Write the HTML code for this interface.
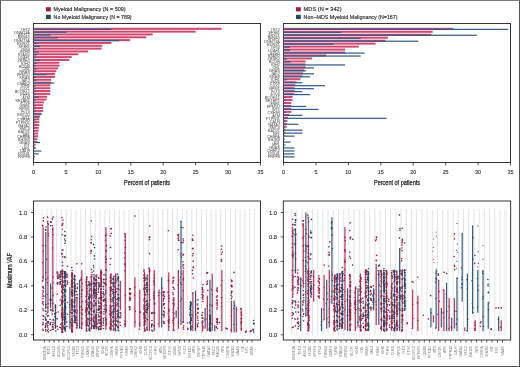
<!DOCTYPE html>
<html><head><meta charset="utf-8"><style>
html,body{margin:0;padding:0;background:#fff;}
body{width:520px;height:367px;overflow:hidden;position:relative;font-family:"Liberation Sans", sans-serif;}
.frame{position:absolute;left:0;top:0;width:520px;height:367px;box-sizing:border-box;border-left:1px solid #5a5a5a;border-top:1px solid #7a7a7a;border-right:1px solid #555;border-bottom:1px solid #555;pointer-events:none;}
svg{position:absolute;left:0;top:0;will-change:transform;}
</style></head><body>
<svg width="520" height="367" viewBox="0 0 520 367" font-family='"Liberation Sans", sans-serif'><rect x="33.5" y="23.5" width="227.0" height="139.0" fill="none" stroke="#222" stroke-width="0.9"/>
<rect x="33.5" y="27.8" width="188.09" height="2.0" fill="#cf466e"/>
<rect x="33.5" y="28.75" width="77.83" height="1.2" fill="#31598a"/>
<text x="29.9" y="30.8" font-size="3.8" fill="#6a6a6a" stroke="#6a6a6a" stroke-width="0.08" text-anchor="end">TET2</text>
<rect x="33.5" y="30.63" width="162.14" height="2.0" fill="#cf466e"/>
<rect x="33.5" y="31.58" width="33.08" height="1.2" fill="#31598a"/>
<text x="29.9" y="33.63" font-size="3.8" fill="#6a6a6a" stroke="#6a6a6a" stroke-width="0.08" text-anchor="end">DNMT3A</text>
<rect x="33.5" y="33.46" width="119.34" height="2.0" fill="#cf466e"/>
<rect x="33.5" y="34.41" width="16.86" height="1.2" fill="#31598a"/>
<text x="29.9" y="36.46" font-size="3.8" fill="#6a6a6a" stroke="#6a6a6a" stroke-width="0.08" text-anchor="end">ASXL1</text>
<rect x="33.5" y="36.29" width="112.85" height="2.0" fill="#cf466e"/>
<rect x="33.5" y="37.24" width="24.65" height="1.2" fill="#31598a"/>
<text x="29.9" y="39.29" font-size="3.8" fill="#6a6a6a" stroke="#6a6a6a" stroke-width="0.08" text-anchor="end">SRSF2</text>
<rect x="33.5" y="39.12" width="96.64" height="2.0" fill="#cf466e"/>
<rect x="33.5" y="40.07" width="85.61" height="1.2" fill="#31598a"/>
<text x="29.9" y="42.12" font-size="3.8" fill="#6a6a6a" stroke="#6a6a6a" stroke-width="0.08" text-anchor="end">DNMT3A</text>
<rect x="33.5" y="41.95" width="77.83" height="2.0" fill="#cf466e"/>
<rect x="33.5" y="42.9" width="3.89" height="1.2" fill="#31598a"/>
<text x="29.9" y="44.95" font-size="3.8" fill="#6a6a6a" stroke="#6a6a6a" stroke-width="0.08" text-anchor="end">RUNX1</text>
<rect x="33.5" y="44.78" width="68.75" height="2.0" fill="#cf466e"/>
<rect x="33.5" y="45.73" width="6.49" height="1.2" fill="#31598a"/>
<text x="29.9" y="47.78" font-size="3.8" fill="#6a6a6a" stroke="#6a6a6a" stroke-width="0.08" text-anchor="end">SF3B1</text>
<rect x="33.5" y="47.61" width="68.1" height="2.0" fill="#cf466e"/>
<rect x="33.5" y="48.56" width="1.95" height="1.2" fill="#31598a"/>
<text x="29.9" y="50.61" font-size="3.8" fill="#6a6a6a" stroke="#6a6a6a" stroke-width="0.08" text-anchor="end">TP53</text>
<rect x="33.5" y="50.44" width="54.48" height="2.0" fill="#cf466e"/>
<rect x="33.5" y="51.39" width="5.19" height="1.2" fill="#31598a"/>
<text x="29.9" y="53.44" font-size="3.8" fill="#6a6a6a" stroke="#6a6a6a" stroke-width="0.08" text-anchor="end">EZH2</text>
<rect x="33.5" y="53.27" width="44.75" height="2.0" fill="#cf466e"/>
<rect x="33.5" y="54.22" width="3.24" height="1.2" fill="#31598a"/>
<text x="29.9" y="56.27" font-size="3.8" fill="#6a6a6a" stroke="#6a6a6a" stroke-width="0.08" text-anchor="end">STAG2</text>
<rect x="33.5" y="56.1" width="38.27" height="2.0" fill="#cf466e"/>
<rect x="33.5" y="57.05" width="1.95" height="1.2" fill="#31598a"/>
<text x="29.9" y="59.1" font-size="3.8" fill="#6a6a6a" stroke="#6a6a6a" stroke-width="0.08" text-anchor="end">U2AF1</text>
<rect x="33.5" y="58.93" width="35.67" height="2.0" fill="#cf466e"/>
<rect x="33.5" y="59.88" width="6.49" height="1.2" fill="#31598a"/>
<text x="29.9" y="61.93" font-size="3.8" fill="#6a6a6a" stroke="#6a6a6a" stroke-width="0.08" text-anchor="end">ZRSR2</text>
<rect x="33.5" y="61.76" width="25.94" height="2.0" fill="#cf466e"/>
<rect x="33.5" y="62.71" width="3.24" height="1.2" fill="#31598a"/>
<text x="29.9" y="64.76" font-size="3.8" fill="#6a6a6a" stroke="#6a6a6a" stroke-width="0.08" text-anchor="end">IDH2</text>
<rect x="33.5" y="64.59" width="25.94" height="2.0" fill="#cf466e"/>
<rect x="33.5" y="65.54" width="1.95" height="1.2" fill="#31598a"/>
<text x="29.9" y="67.59" font-size="3.8" fill="#6a6a6a" stroke="#6a6a6a" stroke-width="0.08" text-anchor="end">BCOR</text>
<rect x="33.5" y="67.42" width="24.65" height="2.0" fill="#cf466e"/>
<rect x="33.5" y="68.37" width="3.24" height="1.2" fill="#31598a"/>
<text x="29.9" y="70.42" font-size="3.8" fill="#6a6a6a" stroke="#6a6a6a" stroke-width="0.08" text-anchor="end">CBL</text>
<rect x="33.5" y="70.25" width="22.7" height="2.0" fill="#cf466e"/>
<rect x="33.5" y="71.2" width="1.95" height="1.2" fill="#31598a"/>
<text x="29.9" y="73.25" font-size="3.8" fill="#6a6a6a" stroke="#6a6a6a" stroke-width="0.08" text-anchor="end">NRAS</text>
<rect x="33.5" y="73.08" width="21.4" height="2.0" fill="#cf466e"/>
<rect x="33.5" y="74.03" width="13.62" height="1.2" fill="#31598a"/>
<text x="29.9" y="76.08" font-size="3.8" fill="#6a6a6a" stroke="#6a6a6a" stroke-width="0.08" text-anchor="end">PPM1D</text>
<rect x="33.5" y="75.91" width="21.4" height="2.0" fill="#cf466e"/>
<rect x="33.5" y="76.86" width="1.95" height="1.2" fill="#31598a"/>
<text x="29.9" y="78.91" font-size="3.8" fill="#6a6a6a" stroke="#6a6a6a" stroke-width="0.08" text-anchor="end">KRAS</text>
<rect x="33.5" y="78.74" width="17.51" height="2.0" fill="#cf466e"/>
<rect x="33.5" y="79.69" width="3.24" height="1.2" fill="#31598a"/>
<text x="29.9" y="81.74" font-size="3.8" fill="#6a6a6a" stroke="#6a6a6a" stroke-width="0.08" text-anchor="end">JAK2</text>
<rect x="33.5" y="81.57" width="17.51" height="2.0" fill="#cf466e"/>
<rect x="33.5" y="82.52" width="20.75" height="1.2" fill="#31598a"/>
<text x="29.9" y="84.57" font-size="3.8" fill="#6a6a6a" stroke="#6a6a6a" stroke-width="0.08" text-anchor="end">CHEK2</text>
<rect x="33.5" y="84.4" width="16.86" height="2.0" fill="#cf466e"/>
<rect x="33.5" y="85.35" width="1.95" height="1.2" fill="#31598a"/>
<text x="29.9" y="87.4" font-size="3.8" fill="#6a6a6a" stroke="#6a6a6a" stroke-width="0.08" text-anchor="end">IDH1</text>
<rect x="33.5" y="87.23" width="16.86" height="2.0" fill="#cf466e"/>
<rect x="33.5" y="88.18" width="1.95" height="1.2" fill="#31598a"/>
<text x="29.9" y="90.23" font-size="3.8" fill="#6a6a6a" stroke="#6a6a6a" stroke-width="0.08" text-anchor="end">CUX1</text>
<rect x="33.5" y="90.06" width="16.86" height="2.0" fill="#cf466e"/>
<rect x="33.5" y="91.01" width="2.59" height="1.2" fill="#31598a"/>
<text x="29.9" y="93.06" font-size="3.8" fill="#6a6a6a" stroke="#6a6a6a" stroke-width="0.08" text-anchor="end">BCORL1</text>
<rect x="33.5" y="92.89" width="16.86" height="2.0" fill="#cf466e"/>
<rect x="33.5" y="93.84" width="1.95" height="1.2" fill="#31598a"/>
<text x="29.9" y="95.89" font-size="3.8" fill="#6a6a6a" stroke="#6a6a6a" stroke-width="0.08" text-anchor="end">PHF6</text>
<rect x="33.5" y="95.72" width="13.62" height="2.0" fill="#cf466e"/>
<rect x="33.5" y="96.67" width="5.19" height="1.2" fill="#31598a"/>
<text x="29.9" y="98.72" font-size="3.8" fill="#6a6a6a" stroke="#6a6a6a" stroke-width="0.08" text-anchor="end">ATM</text>
<rect x="33.5" y="98.55" width="12.97" height="2.0" fill="#cf466e"/>
<rect x="33.5" y="99.5" width="1.95" height="1.2" fill="#31598a"/>
<text x="29.9" y="101.55" font-size="3.8" fill="#6a6a6a" stroke="#6a6a6a" stroke-width="0.08" text-anchor="end">SETBP1</text>
<rect x="33.5" y="101.38" width="10.38" height="2.0" fill="#cf466e"/>
<rect x="33.5" y="102.33" width="1.3" height="1.2" fill="#31598a"/>
<text x="29.9" y="104.38" font-size="3.8" fill="#6a6a6a" stroke="#6a6a6a" stroke-width="0.08" text-anchor="end">ETV6</text>
<rect x="33.5" y="104.21" width="9.73" height="2.0" fill="#cf466e"/>
<rect x="33.5" y="105.16" width="1.95" height="1.2" fill="#31598a"/>
<text x="29.9" y="107.21" font-size="3.8" fill="#6a6a6a" stroke="#6a6a6a" stroke-width="0.08" text-anchor="end">GNB1</text>
<rect x="33.5" y="107.04" width="9.73" height="2.0" fill="#cf466e"/>
<rect x="33.5" y="107.99" width="1.95" height="1.2" fill="#31598a"/>
<text x="29.9" y="110.04" font-size="3.8" fill="#6a6a6a" stroke="#6a6a6a" stroke-width="0.08" text-anchor="end">NPM1</text>
<rect x="33.5" y="109.87" width="9.73" height="2.0" fill="#cf466e"/>
<rect x="33.5" y="110.82" width="1.95" height="1.2" fill="#31598a"/>
<text x="29.9" y="112.87" font-size="3.8" fill="#6a6a6a" stroke="#6a6a6a" stroke-width="0.08" text-anchor="end">FLT3</text>
<rect x="33.5" y="112.7" width="7.78" height="2.0" fill="#cf466e"/>
<rect x="33.5" y="113.65" width="8.43" height="1.2" fill="#31598a"/>
<text x="29.9" y="115.7" font-size="3.8" fill="#6a6a6a" stroke="#6a6a6a" stroke-width="0.08" text-anchor="end">KMT2D</text>
<rect x="33.5" y="115.53" width="6.49" height="2.0" fill="#cf466e"/>
<rect x="33.5" y="116.48" width="5.19" height="1.2" fill="#31598a"/>
<text x="29.9" y="118.53" font-size="3.8" fill="#6a6a6a" stroke="#6a6a6a" stroke-width="0.08" text-anchor="end">WT1</text>
<rect x="33.5" y="118.36" width="5.84" height="2.0" fill="#cf466e"/>
<rect x="33.5" y="119.31" width="1.95" height="1.2" fill="#31598a"/>
<text x="29.9" y="121.36" font-size="3.8" fill="#6a6a6a" stroke="#6a6a6a" stroke-width="0.08" text-anchor="end">CSF3R</text>
<rect x="33.5" y="121.19" width="5.84" height="2.0" fill="#cf466e"/>
<rect x="33.5" y="122.14" width="1.95" height="1.2" fill="#31598a"/>
<text x="29.9" y="124.19" font-size="3.8" fill="#6a6a6a" stroke="#6a6a6a" stroke-width="0.08" text-anchor="end">PTPN11</text>
<rect x="33.5" y="124.02" width="5.84" height="2.0" fill="#cf466e"/>
<rect x="33.5" y="124.97" width="1.3" height="1.2" fill="#31598a"/>
<text x="29.9" y="127.02" font-size="3.8" fill="#6a6a6a" stroke="#6a6a6a" stroke-width="0.08" text-anchor="end">GATA2</text>
<rect x="33.5" y="126.85" width="5.19" height="2.0" fill="#cf466e"/>
<rect x="33.5" y="127.8" width="1.3" height="1.2" fill="#31598a"/>
<text x="29.9" y="129.85" font-size="3.8" fill="#6a6a6a" stroke="#6a6a6a" stroke-width="0.08" text-anchor="end">SMC3</text>
<rect x="33.5" y="129.68" width="5.19" height="2.0" fill="#cf466e"/>
<rect x="33.5" y="130.63" width="1.3" height="1.2" fill="#31598a"/>
<text x="29.9" y="132.68" font-size="3.8" fill="#6a6a6a" stroke="#6a6a6a" stroke-width="0.08" text-anchor="end">RAD21</text>
<rect x="33.5" y="132.51" width="4.54" height="2.0" fill="#cf466e"/>
<rect x="33.5" y="133.46" width="1.3" height="1.2" fill="#31598a"/>
<text x="29.9" y="135.51" font-size="3.8" fill="#6a6a6a" stroke="#6a6a6a" stroke-width="0.08" text-anchor="end">NF1</text>
<rect x="33.5" y="135.34" width="4.54" height="2.0" fill="#cf466e"/>
<rect x="33.5" y="136.29" width="1.3" height="1.2" fill="#31598a"/>
<text x="29.9" y="138.34" font-size="3.8" fill="#6a6a6a" stroke="#6a6a6a" stroke-width="0.08" text-anchor="end">CEBPA</text>
<rect x="33.5" y="138.17" width="3.89" height="2.0" fill="#cf466e"/>
<rect x="33.5" y="139.12" width="1.3" height="1.2" fill="#31598a"/>
<text x="29.9" y="141.17" font-size="3.8" fill="#6a6a6a" stroke="#6a6a6a" stroke-width="0.08" text-anchor="end">SH2B3</text>
<rect x="33.5" y="141" width="3.89" height="2.0" fill="#cf466e"/>
<rect x="33.5" y="141.95" width="6.49" height="1.2" fill="#31598a"/>
<text x="29.9" y="144" font-size="3.8" fill="#6a6a6a" stroke="#6a6a6a" stroke-width="0.08" text-anchor="end">GNAS</text>
<rect x="33.5" y="143.83" width="1.95" height="2.0" fill="#cf466e"/>
<rect x="33.5" y="144.78" width="0.65" height="1.2" fill="#31598a"/>
<text x="29.9" y="146.83" font-size="3.8" fill="#6a6a6a" stroke="#6a6a6a" stroke-width="0.08" text-anchor="end">KIT</text>
<rect x="33.5" y="146.66" width="1.95" height="2.0" fill="#cf466e"/>
<rect x="33.5" y="147.61" width="1.95" height="1.2" fill="#31598a"/>
<text x="29.9" y="149.66" font-size="3.8" fill="#6a6a6a" stroke="#6a6a6a" stroke-width="0.08" text-anchor="end">MPL</text>
<rect x="33.5" y="150.44" width="7.78" height="1.2" fill="#31598a"/>
<text x="29.9" y="152.49" font-size="3.8" fill="#6a6a6a" stroke="#6a6a6a" stroke-width="0.08" text-anchor="end">CALR</text>
<rect x="33.5" y="153.27" width="5.19" height="1.2" fill="#31598a"/>
<text x="29.9" y="155.32" font-size="3.8" fill="#6a6a6a" stroke="#6a6a6a" stroke-width="0.08" text-anchor="end">DDX41</text>
<rect x="33.5" y="156.1" width="1.3" height="1.2" fill="#31598a"/>
<text x="29.9" y="158.15" font-size="3.8" fill="#6a6a6a" stroke="#6a6a6a" stroke-width="0.08" text-anchor="end">PRPF8</text>
<line x1="33.5" y1="162.5" x2="33.5" y2="165.4" stroke="#222" stroke-width="0.8"/>
<text x="33.5" y="173.6" font-size="5.4" fill="#333" stroke="#333" stroke-width="0.12" text-anchor="middle">0</text>
<line x1="65.93" y1="162.5" x2="65.93" y2="165.4" stroke="#222" stroke-width="0.8"/>
<text x="65.93" y="173.6" font-size="5.4" fill="#333" stroke="#333" stroke-width="0.12" text-anchor="middle">5</text>
<line x1="98.36" y1="162.5" x2="98.36" y2="165.4" stroke="#222" stroke-width="0.8"/>
<text x="98.36" y="173.6" font-size="5.4" fill="#333" stroke="#333" stroke-width="0.12" text-anchor="middle">10</text>
<line x1="130.79" y1="162.5" x2="130.79" y2="165.4" stroke="#222" stroke-width="0.8"/>
<text x="130.79" y="173.6" font-size="5.4" fill="#333" stroke="#333" stroke-width="0.12" text-anchor="middle">15</text>
<line x1="163.21" y1="162.5" x2="163.21" y2="165.4" stroke="#222" stroke-width="0.8"/>
<text x="163.21" y="173.6" font-size="5.4" fill="#333" stroke="#333" stroke-width="0.12" text-anchor="middle">20</text>
<line x1="195.64" y1="162.5" x2="195.64" y2="165.4" stroke="#222" stroke-width="0.8"/>
<text x="195.64" y="173.6" font-size="5.4" fill="#333" stroke="#333" stroke-width="0.12" text-anchor="middle">25</text>
<line x1="228.07" y1="162.5" x2="228.07" y2="165.4" stroke="#222" stroke-width="0.8"/>
<text x="228.07" y="173.6" font-size="5.4" fill="#333" stroke="#333" stroke-width="0.12" text-anchor="middle">30</text>
<line x1="260.5" y1="162.5" x2="260.5" y2="165.4" stroke="#222" stroke-width="0.8"/>
<text x="260.5" y="173.6" font-size="5.4" fill="#333" stroke="#333" stroke-width="0.12" text-anchor="middle">35</text>
<text x="147" y="184.7" font-size="7.2" fill="#222" stroke="#222" stroke-width="0.25" text-anchor="middle" textLength="46" lengthAdjust="spacingAndGlyphs">Percent of patients</text>
<rect x="46" y="7.2" width="4.8" height="4.2" fill="#a81a40"/>
<rect x="46" y="14.8" width="4.8" height="4.2" fill="#1d4a6c"/>
<text x="53.6" y="11" font-size="5.2" fill="#333" stroke="#333" stroke-width="0.16" textLength="72" lengthAdjust="spacingAndGlyphs">Myeloid Malignancy (N = 509)</text>
<text x="53.6" y="18.7" font-size="5.2" fill="#333" stroke="#333" stroke-width="0.16" textLength="78" lengthAdjust="spacingAndGlyphs">No Myeloid Malignancy (N = 789)</text>
<rect x="283.5" y="23.5" width="227.0" height="139.0" fill="none" stroke="#222" stroke-width="0.9"/>
<rect x="283.5" y="27.8" width="169.93" height="2.0" fill="#cf466e"/>
<rect x="283.5" y="28.75" width="224.41" height="1.2" fill="#31598a"/>
<text x="279.9" y="30.8" font-size="3.8" fill="#6a6a6a" stroke="#6a6a6a" stroke-width="0.08" text-anchor="end">TET2</text>
<rect x="283.5" y="30.77" width="149.17" height="2.0" fill="#cf466e"/>
<rect x="283.5" y="31.72" width="57.72" height="1.2" fill="#31598a"/>
<text x="279.9" y="33.77" font-size="3.8" fill="#6a6a6a" stroke="#6a6a6a" stroke-width="0.08" text-anchor="end">SF3B1</text>
<rect x="283.5" y="33.73" width="147.87" height="2.0" fill="#cf466e"/>
<rect x="283.5" y="34.68" width="193.27" height="1.2" fill="#31598a"/>
<text x="279.9" y="36.73" font-size="3.8" fill="#6a6a6a" stroke="#6a6a6a" stroke-width="0.08" text-anchor="end">ASXL1</text>
<rect x="283.5" y="36.7" width="104.42" height="2.0" fill="#cf466e"/>
<rect x="283.5" y="37.65" width="77.18" height="1.2" fill="#31598a"/>
<text x="279.9" y="39.7" font-size="3.8" fill="#6a6a6a" stroke="#6a6a6a" stroke-width="0.08" text-anchor="end">SRSF2</text>
<rect x="283.5" y="39.66" width="101.83" height="2.0" fill="#cf466e"/>
<rect x="283.5" y="40.61" width="134.9" height="1.2" fill="#31598a"/>
<text x="279.9" y="42.66" font-size="3.8" fill="#6a6a6a" stroke="#6a6a6a" stroke-width="0.08" text-anchor="end">DNMT3A</text>
<rect x="283.5" y="42.63" width="92.1" height="2.0" fill="#cf466e"/>
<rect x="283.5" y="43.58" width="49.94" height="1.2" fill="#31598a"/>
<text x="279.9" y="45.63" font-size="3.8" fill="#6a6a6a" stroke="#6a6a6a" stroke-width="0.08" text-anchor="end">RUNX1</text>
<rect x="283.5" y="45.6" width="75.23" height="2.0" fill="#cf466e"/>
<rect x="283.5" y="46.55" width="6.49" height="1.2" fill="#31598a"/>
<text x="279.9" y="48.6" font-size="3.8" fill="#6a6a6a" stroke="#6a6a6a" stroke-width="0.08" text-anchor="end">TP53</text>
<rect x="283.5" y="48.56" width="61.61" height="2.0" fill="#cf466e"/>
<rect x="283.5" y="49.51" width="6.49" height="1.2" fill="#31598a"/>
<text x="279.9" y="51.56" font-size="3.8" fill="#6a6a6a" stroke="#6a6a6a" stroke-width="0.08" text-anchor="end">U2AF1</text>
<rect x="283.5" y="51.53" width="61.61" height="2.0" fill="#cf466e"/>
<rect x="283.5" y="52.48" width="81.07" height="1.2" fill="#31598a"/>
<text x="279.9" y="54.53" font-size="3.8" fill="#6a6a6a" stroke="#6a6a6a" stroke-width="0.08" text-anchor="end">EZH2</text>
<rect x="283.5" y="54.49" width="42.81" height="2.0" fill="#cf466e"/>
<rect x="283.5" y="55.44" width="77.18" height="1.2" fill="#31598a"/>
<text x="279.9" y="57.49" font-size="3.8" fill="#6a6a6a" stroke="#6a6a6a" stroke-width="0.08" text-anchor="end">STAG2</text>
<rect x="283.5" y="57.46" width="28.54" height="2.0" fill="#cf466e"/>
<rect x="283.5" y="58.41" width="3.24" height="1.2" fill="#31598a"/>
<text x="279.9" y="60.46" font-size="3.8" fill="#6a6a6a" stroke="#6a6a6a" stroke-width="0.08" text-anchor="end">ZRSR2</text>
<rect x="283.5" y="60.43" width="22.05" height="2.0" fill="#cf466e"/>
<rect x="283.5" y="61.38" width="7.13" height="1.2" fill="#31598a"/>
<text x="279.9" y="63.43" font-size="3.8" fill="#6a6a6a" stroke="#6a6a6a" stroke-width="0.08" text-anchor="end">BCOR</text>
<rect x="283.5" y="63.39" width="22.05" height="2.0" fill="#cf466e"/>
<rect x="283.5" y="64.34" width="61.61" height="1.2" fill="#31598a"/>
<text x="279.9" y="66.39" font-size="3.8" fill="#6a6a6a" stroke="#6a6a6a" stroke-width="0.08" text-anchor="end">IDH2</text>
<rect x="283.5" y="66.36" width="22.05" height="2.0" fill="#cf466e"/>
<rect x="283.5" y="67.31" width="30.48" height="1.2" fill="#31598a"/>
<text x="279.9" y="69.36" font-size="3.8" fill="#6a6a6a" stroke="#6a6a6a" stroke-width="0.08" text-anchor="end">CBL</text>
<rect x="283.5" y="69.32" width="20.75" height="2.0" fill="#cf466e"/>
<rect x="283.5" y="70.27" width="22.7" height="1.2" fill="#31598a"/>
<text x="279.9" y="72.32" font-size="3.8" fill="#6a6a6a" stroke="#6a6a6a" stroke-width="0.08" text-anchor="end">NRAS</text>
<rect x="283.5" y="72.29" width="19.46" height="2.0" fill="#cf466e"/>
<rect x="283.5" y="73.24" width="30.48" height="1.2" fill="#31598a"/>
<text x="279.9" y="75.29" font-size="3.8" fill="#6a6a6a" stroke="#6a6a6a" stroke-width="0.08" text-anchor="end">JAK2</text>
<rect x="283.5" y="75.26" width="18.81" height="2.0" fill="#cf466e"/>
<rect x="283.5" y="76.21" width="26.59" height="1.2" fill="#31598a"/>
<text x="279.9" y="78.26" font-size="3.8" fill="#6a6a6a" stroke="#6a6a6a" stroke-width="0.08" text-anchor="end">KRAS</text>
<rect x="283.5" y="78.22" width="16.86" height="2.0" fill="#cf466e"/>
<rect x="283.5" y="79.17" width="3.24" height="1.2" fill="#31598a"/>
<text x="279.9" y="81.22" font-size="3.8" fill="#6a6a6a" stroke="#6a6a6a" stroke-width="0.08" text-anchor="end">IDH1</text>
<rect x="283.5" y="81.19" width="12.97" height="2.0" fill="#cf466e"/>
<rect x="283.5" y="82.14" width="18.81" height="1.2" fill="#31598a"/>
<text x="279.9" y="84.19" font-size="3.8" fill="#6a6a6a" stroke="#6a6a6a" stroke-width="0.08" text-anchor="end">PHF6</text>
<rect x="283.5" y="84.15" width="11.67" height="2.0" fill="#cf466e"/>
<rect x="283.5" y="85.1" width="41.51" height="1.2" fill="#31598a"/>
<text x="279.9" y="87.15" font-size="3.8" fill="#6a6a6a" stroke="#6a6a6a" stroke-width="0.08" text-anchor="end">CUX1</text>
<rect x="283.5" y="87.12" width="11.03" height="2.0" fill="#cf466e"/>
<rect x="283.5" y="88.07" width="30.48" height="1.2" fill="#31598a"/>
<text x="279.9" y="90.12" font-size="3.8" fill="#6a6a6a" stroke="#6a6a6a" stroke-width="0.08" text-anchor="end">NPM1</text>
<rect x="283.5" y="90.09" width="11.03" height="2.0" fill="#cf466e"/>
<rect x="283.5" y="91.04" width="18.81" height="1.2" fill="#31598a"/>
<text x="279.9" y="93.09" font-size="3.8" fill="#6a6a6a" stroke="#6a6a6a" stroke-width="0.08" text-anchor="end">FLT3</text>
<rect x="283.5" y="93.05" width="10.38" height="2.0" fill="#cf466e"/>
<rect x="283.5" y="94" width="26.59" height="1.2" fill="#31598a"/>
<text x="279.9" y="96.05" font-size="3.8" fill="#6a6a6a" stroke="#6a6a6a" stroke-width="0.08" text-anchor="end">ETV6</text>
<rect x="283.5" y="96.02" width="9.08" height="2.0" fill="#cf466e"/>
<rect x="283.5" y="96.97" width="1.95" height="1.2" fill="#31598a"/>
<text x="279.9" y="99.02" font-size="3.8" fill="#6a6a6a" stroke="#6a6a6a" stroke-width="0.08" text-anchor="end">BCORL1</text>
<rect x="283.5" y="98.98" width="9.08" height="2.0" fill="#cf466e"/>
<rect x="283.5" y="99.93" width="1.95" height="1.2" fill="#31598a"/>
<text x="279.9" y="101.98" font-size="3.8" fill="#6a6a6a" stroke="#6a6a6a" stroke-width="0.08" text-anchor="end">SETBP1</text>
<rect x="283.5" y="101.95" width="7.78" height="2.0" fill="#cf466e"/>
<rect x="283.5" y="102.9" width="1.95" height="1.2" fill="#31598a"/>
<text x="279.9" y="104.95" font-size="3.8" fill="#6a6a6a" stroke="#6a6a6a" stroke-width="0.08" text-anchor="end">GNB1</text>
<rect x="283.5" y="104.92" width="7.78" height="2.0" fill="#cf466e"/>
<rect x="283.5" y="105.87" width="22.7" height="1.2" fill="#31598a"/>
<text x="279.9" y="107.92" font-size="3.8" fill="#6a6a6a" stroke="#6a6a6a" stroke-width="0.08" text-anchor="end">PPM1D</text>
<rect x="283.5" y="107.88" width="7.78" height="2.0" fill="#cf466e"/>
<rect x="283.5" y="108.83" width="35.02" height="1.2" fill="#31598a"/>
<text x="279.9" y="110.88" font-size="3.8" fill="#6a6a6a" stroke="#6a6a6a" stroke-width="0.08" text-anchor="end">WT1</text>
<rect x="283.5" y="110.85" width="7.78" height="2.0" fill="#cf466e"/>
<rect x="283.5" y="111.8" width="1.95" height="1.2" fill="#31598a"/>
<text x="279.9" y="113.85" font-size="3.8" fill="#6a6a6a" stroke="#6a6a6a" stroke-width="0.08" text-anchor="end">CSF3R</text>
<rect x="283.5" y="113.81" width="5.84" height="2.0" fill="#cf466e"/>
<rect x="283.5" y="114.76" width="18.81" height="1.2" fill="#31598a"/>
<text x="279.9" y="116.81" font-size="3.8" fill="#6a6a6a" stroke="#6a6a6a" stroke-width="0.08" text-anchor="end">ATM</text>
<rect x="283.5" y="116.78" width="4.54" height="2.0" fill="#cf466e"/>
<rect x="283.5" y="117.73" width="103.12" height="1.2" fill="#31598a"/>
<text x="279.9" y="119.78" font-size="3.8" fill="#6a6a6a" stroke="#6a6a6a" stroke-width="0.08" text-anchor="end">PTPN11</text>
<rect x="283.5" y="119.75" width="3.89" height="2.0" fill="#cf466e"/>
<rect x="283.5" y="120.7" width="1.95" height="1.2" fill="#31598a"/>
<text x="279.9" y="122.75" font-size="3.8" fill="#6a6a6a" stroke="#6a6a6a" stroke-width="0.08" text-anchor="end">CALR</text>
<rect x="283.5" y="122.71" width="3.24" height="2.0" fill="#cf466e"/>
<rect x="283.5" y="123.66" width="14.92" height="1.2" fill="#31598a"/>
<text x="279.9" y="125.71" font-size="3.8" fill="#6a6a6a" stroke="#6a6a6a" stroke-width="0.08" text-anchor="end">GATA2</text>
<rect x="283.5" y="125.68" width="3.24" height="2.0" fill="#cf466e"/>
<rect x="283.5" y="126.63" width="1.3" height="1.2" fill="#31598a"/>
<text x="279.9" y="128.68" font-size="3.8" fill="#6a6a6a" stroke="#6a6a6a" stroke-width="0.08" text-anchor="end">SMC3</text>
<rect x="283.5" y="128.64" width="1.95" height="2.0" fill="#cf466e"/>
<rect x="283.5" y="129.59" width="18.81" height="1.2" fill="#31598a"/>
<text x="279.9" y="131.64" font-size="3.8" fill="#6a6a6a" stroke="#6a6a6a" stroke-width="0.08" text-anchor="end">RAD21</text>
<rect x="283.5" y="131.61" width="1.95" height="2.0" fill="#cf466e"/>
<rect x="283.5" y="132.56" width="18.81" height="1.2" fill="#31598a"/>
<text x="279.9" y="134.61" font-size="3.8" fill="#6a6a6a" stroke="#6a6a6a" stroke-width="0.08" text-anchor="end">NF1</text>
<rect x="283.5" y="134.58" width="1.3" height="2.0" fill="#cf466e"/>
<rect x="283.5" y="135.53" width="11.03" height="1.2" fill="#31598a"/>
<text x="279.9" y="137.58" font-size="3.8" fill="#6a6a6a" stroke="#6a6a6a" stroke-width="0.08" text-anchor="end">CEBPA</text>
<rect x="283.5" y="137.54" width="0.65" height="2.0" fill="#cf466e"/>
<rect x="283.5" y="138.49" width="1.3" height="1.2" fill="#31598a"/>
<text x="279.9" y="140.54" font-size="3.8" fill="#6a6a6a" stroke="#6a6a6a" stroke-width="0.08" text-anchor="end">SH2B3</text>
<rect x="283.5" y="141.46" width="7.13" height="1.2" fill="#31598a"/>
<text x="279.9" y="143.51" font-size="3.8" fill="#6a6a6a" stroke="#6a6a6a" stroke-width="0.08" text-anchor="end">KIT</text>
<rect x="283.5" y="144.42" width="1.95" height="1.2" fill="#31598a"/>
<text x="279.9" y="146.47" font-size="3.8" fill="#6a6a6a" stroke="#6a6a6a" stroke-width="0.08" text-anchor="end">MPL</text>
<rect x="283.5" y="147.39" width="11.03" height="1.2" fill="#31598a"/>
<text x="279.9" y="149.44" font-size="3.8" fill="#6a6a6a" stroke="#6a6a6a" stroke-width="0.08" text-anchor="end">GNAS</text>
<rect x="283.5" y="150.36" width="11.03" height="1.2" fill="#31598a"/>
<text x="279.9" y="152.41" font-size="3.8" fill="#6a6a6a" stroke="#6a6a6a" stroke-width="0.08" text-anchor="end">CHEK2</text>
<rect x="283.5" y="153.32" width="11.03" height="1.2" fill="#31598a"/>
<text x="279.9" y="155.37" font-size="3.8" fill="#6a6a6a" stroke="#6a6a6a" stroke-width="0.08" text-anchor="end">DDX41</text>
<rect x="283.5" y="156.29" width="11.03" height="1.2" fill="#31598a"/>
<text x="279.9" y="158.34" font-size="3.8" fill="#6a6a6a" stroke="#6a6a6a" stroke-width="0.08" text-anchor="end">PRPF8</text>
<line x1="283.5" y1="162.5" x2="283.5" y2="165.4" stroke="#222" stroke-width="0.8"/>
<text x="283.5" y="173.6" font-size="5.4" fill="#333" stroke="#333" stroke-width="0.12" text-anchor="middle">0</text>
<line x1="315.93" y1="162.5" x2="315.93" y2="165.4" stroke="#222" stroke-width="0.8"/>
<text x="315.93" y="173.6" font-size="5.4" fill="#333" stroke="#333" stroke-width="0.12" text-anchor="middle">5</text>
<line x1="348.36" y1="162.5" x2="348.36" y2="165.4" stroke="#222" stroke-width="0.8"/>
<text x="348.36" y="173.6" font-size="5.4" fill="#333" stroke="#333" stroke-width="0.12" text-anchor="middle">10</text>
<line x1="380.79" y1="162.5" x2="380.79" y2="165.4" stroke="#222" stroke-width="0.8"/>
<text x="380.79" y="173.6" font-size="5.4" fill="#333" stroke="#333" stroke-width="0.12" text-anchor="middle">15</text>
<line x1="413.21" y1="162.5" x2="413.21" y2="165.4" stroke="#222" stroke-width="0.8"/>
<text x="413.21" y="173.6" font-size="5.4" fill="#333" stroke="#333" stroke-width="0.12" text-anchor="middle">20</text>
<line x1="445.64" y1="162.5" x2="445.64" y2="165.4" stroke="#222" stroke-width="0.8"/>
<text x="445.64" y="173.6" font-size="5.4" fill="#333" stroke="#333" stroke-width="0.12" text-anchor="middle">25</text>
<line x1="478.07" y1="162.5" x2="478.07" y2="165.4" stroke="#222" stroke-width="0.8"/>
<text x="478.07" y="173.6" font-size="5.4" fill="#333" stroke="#333" stroke-width="0.12" text-anchor="middle">30</text>
<line x1="510.5" y1="162.5" x2="510.5" y2="165.4" stroke="#222" stroke-width="0.8"/>
<text x="510.5" y="173.6" font-size="5.4" fill="#333" stroke="#333" stroke-width="0.12" text-anchor="middle">35</text>
<text x="397" y="184.7" font-size="7.2" fill="#222" stroke="#222" stroke-width="0.25" text-anchor="middle" textLength="46" lengthAdjust="spacingAndGlyphs">Percent of patients</text>
<rect x="296" y="7.2" width="4.8" height="4.2" fill="#a81a40"/>
<rect x="296" y="14.8" width="4.8" height="4.2" fill="#1d4a6c"/>
<text x="303.6" y="11" font-size="5.2" fill="#333" stroke="#333" stroke-width="0.16" textLength="38" lengthAdjust="spacingAndGlyphs">MDS (N = 342)</text>
<text x="303.6" y="18.7" font-size="5.2" fill="#333" stroke="#333" stroke-width="0.16" textLength="94" lengthAdjust="spacingAndGlyphs">Non−MDS Myeloid Malignancy (N=167)</text>
<rect x="33.5" y="201" width="227.0" height="139" fill="none" stroke="#222" stroke-width="0.9"/>
<line x1="42.09" y1="209" x2="42.09" y2="335.5" stroke="#dedede" stroke-width="0.85"/>
<line x1="46.91" y1="209" x2="46.91" y2="335.5" stroke="#dedede" stroke-width="0.85"/>
<line x1="51.74" y1="209" x2="51.74" y2="335.5" stroke="#dedede" stroke-width="0.85"/>
<line x1="56.58" y1="209" x2="56.58" y2="335.5" stroke="#dedede" stroke-width="0.85"/>
<line x1="61.41" y1="209" x2="61.41" y2="335.5" stroke="#dedede" stroke-width="0.85"/>
<line x1="66.23" y1="209" x2="66.23" y2="335.5" stroke="#dedede" stroke-width="0.85"/>
<line x1="71.06" y1="209" x2="71.06" y2="335.5" stroke="#dedede" stroke-width="0.85"/>
<line x1="75.89" y1="209" x2="75.89" y2="335.5" stroke="#dedede" stroke-width="0.85"/>
<line x1="80.73" y1="209" x2="80.73" y2="335.5" stroke="#dedede" stroke-width="0.85"/>
<line x1="85.55" y1="209" x2="85.55" y2="335.5" stroke="#dedede" stroke-width="0.85"/>
<line x1="90.39" y1="209" x2="90.39" y2="335.5" stroke="#dedede" stroke-width="0.85"/>
<line x1="95.21" y1="209" x2="95.21" y2="335.5" stroke="#dedede" stroke-width="0.85"/>
<line x1="100.05" y1="209" x2="100.05" y2="335.5" stroke="#dedede" stroke-width="0.85"/>
<line x1="104.88" y1="209" x2="104.88" y2="335.5" stroke="#dedede" stroke-width="0.85"/>
<line x1="109.7" y1="209" x2="109.7" y2="335.5" stroke="#dedede" stroke-width="0.85"/>
<line x1="114.54" y1="209" x2="114.54" y2="335.5" stroke="#dedede" stroke-width="0.85"/>
<line x1="119.36" y1="209" x2="119.36" y2="335.5" stroke="#dedede" stroke-width="0.85"/>
<line x1="124.2" y1="209" x2="124.2" y2="335.5" stroke="#dedede" stroke-width="0.85"/>
<line x1="129.02" y1="209" x2="129.02" y2="335.5" stroke="#dedede" stroke-width="0.85"/>
<line x1="133.85" y1="209" x2="133.85" y2="335.5" stroke="#dedede" stroke-width="0.85"/>
<line x1="138.68" y1="209" x2="138.68" y2="335.5" stroke="#dedede" stroke-width="0.85"/>
<line x1="143.51" y1="209" x2="143.51" y2="335.5" stroke="#dedede" stroke-width="0.85"/>
<line x1="148.34" y1="209" x2="148.34" y2="335.5" stroke="#dedede" stroke-width="0.85"/>
<line x1="153.17" y1="209" x2="153.17" y2="335.5" stroke="#dedede" stroke-width="0.85"/>
<line x1="158" y1="209" x2="158" y2="335.5" stroke="#dedede" stroke-width="0.85"/>
<line x1="162.83" y1="209" x2="162.83" y2="335.5" stroke="#dedede" stroke-width="0.85"/>
<line x1="167.66" y1="209" x2="167.66" y2="335.5" stroke="#dedede" stroke-width="0.85"/>
<line x1="172.49" y1="209" x2="172.49" y2="335.5" stroke="#dedede" stroke-width="0.85"/>
<line x1="177.32" y1="209" x2="177.32" y2="335.5" stroke="#dedede" stroke-width="0.85"/>
<line x1="182.16" y1="209" x2="182.16" y2="335.5" stroke="#dedede" stroke-width="0.85"/>
<line x1="186.98" y1="209" x2="186.98" y2="335.5" stroke="#dedede" stroke-width="0.85"/>
<line x1="191.81" y1="209" x2="191.81" y2="335.5" stroke="#dedede" stroke-width="0.85"/>
<line x1="196.64" y1="209" x2="196.64" y2="335.5" stroke="#dedede" stroke-width="0.85"/>
<line x1="201.47" y1="209" x2="201.47" y2="335.5" stroke="#dedede" stroke-width="0.85"/>
<line x1="206.31" y1="209" x2="206.31" y2="335.5" stroke="#dedede" stroke-width="0.85"/>
<line x1="211.13" y1="209" x2="211.13" y2="335.5" stroke="#dedede" stroke-width="0.85"/>
<line x1="215.97" y1="209" x2="215.97" y2="335.5" stroke="#dedede" stroke-width="0.85"/>
<line x1="220.79" y1="209" x2="220.79" y2="335.5" stroke="#dedede" stroke-width="0.85"/>
<line x1="225.62" y1="209" x2="225.62" y2="335.5" stroke="#dedede" stroke-width="0.85"/>
<line x1="230.45" y1="209" x2="230.45" y2="335.5" stroke="#dedede" stroke-width="0.85"/>
<line x1="235.28" y1="209" x2="235.28" y2="335.5" stroke="#dedede" stroke-width="0.85"/>
<line x1="240.11" y1="209" x2="240.11" y2="335.5" stroke="#dedede" stroke-width="0.85"/>
<line x1="244.94" y1="209" x2="244.94" y2="335.5" stroke="#dedede" stroke-width="0.85"/>
<line x1="249.78" y1="209" x2="249.78" y2="335.5" stroke="#dedede" stroke-width="0.85"/>
<line x1="254.6" y1="209" x2="254.6" y2="335.5" stroke="#dedede" stroke-width="0.85"/>
<rect x="42.55" y="227.13" width="1.2" height="52.61" fill="#c2305a"/>
<circle cx="42.61" cy="262.71" r="0.7" fill="#a81e44"/>
<circle cx="42.5" cy="245.5" r="0.7" fill="#a81e44"/>
<circle cx="42.91" cy="251.55" r="0.7" fill="#a81e44"/>
<circle cx="43.11" cy="276.69" r="0.7" fill="#a81e44"/>
<circle cx="43.01" cy="277.77" r="0.7" fill="#a81e44"/>
<circle cx="42.65" cy="226.11" r="0.82" fill="#a81e44"/>
<circle cx="43.46" cy="220.9" r="0.82" fill="#a81e44"/>
<circle cx="42.8" cy="225.31" r="0.82" fill="#a81e44"/>
<circle cx="43.59" cy="217.92" r="0.82" fill="#a81e44"/>
<circle cx="42.99" cy="301.99" r="0.82" fill="#a81e44"/>
<circle cx="42.6" cy="280.99" r="0.82" fill="#a81e44"/>
<circle cx="42.87" cy="287.19" r="0.82" fill="#a81e44"/>
<circle cx="42.68" cy="324.76" r="0.82" fill="#a81e44"/>
<circle cx="43.45" cy="316.12" r="0.82" fill="#a81e44"/>
<circle cx="43.19" cy="322.84" r="0.82" fill="#a81e44"/>
<circle cx="42.96" cy="298.74" r="0.82" fill="#a81e44"/>
<circle cx="42.62" cy="303.54" r="0.82" fill="#a81e44"/>
<circle cx="42.78" cy="329.22" r="0.82" fill="#a81e44"/>
<circle cx="43.02" cy="296.56" r="0.82" fill="#a81e44"/>
<circle cx="43.19" cy="315.83" r="0.82" fill="#a81e44"/>
<circle cx="42.88" cy="308.51" r="0.82" fill="#a81e44"/>
<circle cx="43.32" cy="290.56" r="0.82" fill="#a81e44"/>
<circle cx="43.18" cy="319.51" r="0.82" fill="#a81e44"/>
<circle cx="43.51" cy="304.72" r="0.82" fill="#a81e44"/>
<circle cx="42.87" cy="293.98" r="0.82" fill="#a81e44"/>
<circle cx="42.68" cy="280.79" r="0.82" fill="#a81e44"/>
<circle cx="43.38" cy="310.36" r="0.82" fill="#a81e44"/>
<circle cx="43.09" cy="324.36" r="0.82" fill="#a81e44"/>
<circle cx="43.29" cy="330.29" r="0.82" fill="#a81e44"/>
<circle cx="43.18" cy="292.13" r="0.82" fill="#a81e44"/>
<circle cx="42.9" cy="286.29" r="0.82" fill="#a81e44"/>
<circle cx="43.2" cy="295.77" r="0.82" fill="#a81e44"/>
<circle cx="43.05" cy="301.84" r="0.82" fill="#a81e44"/>
<circle cx="43.59" cy="288.16" r="0.82" fill="#a81e44"/>
<rect x="45.15" y="232.03" width="1.2" height="77.08" fill="#2f5f88"/>
<circle cx="45.93" cy="272.56" r="0.7" fill="#1f4a6e"/>
<circle cx="45.98" cy="304.43" r="0.7" fill="#1f4a6e"/>
<circle cx="46.39" cy="259.23" r="0.7" fill="#1f4a6e"/>
<circle cx="45.4" cy="245.75" r="0.7" fill="#1f4a6e"/>
<circle cx="45.94" cy="279.37" r="0.7" fill="#1f4a6e"/>
<circle cx="45.65" cy="307.37" r="0.7" fill="#1f4a6e"/>
<circle cx="45.16" cy="296.15" r="0.7" fill="#1f4a6e"/>
<circle cx="46" cy="230.23" r="0.82" fill="#1f4a6e"/>
<circle cx="45.42" cy="229.54" r="0.82" fill="#1f4a6e"/>
<circle cx="46.11" cy="226.98" r="0.82" fill="#1f4a6e"/>
<circle cx="45.64" cy="329.45" r="0.82" fill="#1f4a6e"/>
<circle cx="46.12" cy="319.7" r="0.82" fill="#1f4a6e"/>
<circle cx="46.1" cy="314.09" r="0.82" fill="#1f4a6e"/>
<circle cx="45.61" cy="325.34" r="0.82" fill="#1f4a6e"/>
<circle cx="46.12" cy="323.67" r="0.82" fill="#1f4a6e"/>
<circle cx="45.32" cy="311.21" r="0.82" fill="#1f4a6e"/>
<circle cx="45.41" cy="327.46" r="0.82" fill="#1f4a6e"/>
<circle cx="45.68" cy="326.28" r="0.82" fill="#1f4a6e"/>
<circle cx="45.44" cy="318.88" r="0.82" fill="#1f4a6e"/>
<circle cx="45.61" cy="331.04" r="0.82" fill="#1f4a6e"/>
<circle cx="45.77" cy="323.45" r="0.82" fill="#1f4a6e"/>
<circle cx="45.91" cy="311.31" r="0.82" fill="#1f4a6e"/>
<circle cx="45.83" cy="320.41" r="0.82" fill="#1f4a6e"/>
<circle cx="45.21" cy="317.06" r="0.82" fill="#1f4a6e"/>
<rect x="47.38" y="224.69" width="1.2" height="88.09" fill="#c2305a"/>
<circle cx="48.32" cy="233.54" r="0.7" fill="#a81e44"/>
<circle cx="48.35" cy="235.74" r="0.7" fill="#a81e44"/>
<circle cx="47.79" cy="278.21" r="0.7" fill="#a81e44"/>
<circle cx="48.12" cy="303.66" r="0.7" fill="#a81e44"/>
<circle cx="47.32" cy="307.29" r="0.7" fill="#a81e44"/>
<circle cx="47.46" cy="294.39" r="0.7" fill="#a81e44"/>
<circle cx="47.3" cy="282.82" r="0.7" fill="#a81e44"/>
<circle cx="47.44" cy="312.76" r="0.7" fill="#a81e44"/>
<circle cx="47.78" cy="223.44" r="0.82" fill="#a81e44"/>
<circle cx="48.34" cy="224.37" r="0.82" fill="#a81e44"/>
<circle cx="47.54" cy="217.17" r="0.82" fill="#a81e44"/>
<circle cx="47.76" cy="221.6" r="0.82" fill="#a81e44"/>
<circle cx="47.52" cy="325.22" r="0.82" fill="#a81e44"/>
<circle cx="48.47" cy="315.73" r="0.82" fill="#a81e44"/>
<circle cx="47.91" cy="323.23" r="0.82" fill="#a81e44"/>
<circle cx="47.49" cy="330.67" r="0.82" fill="#a81e44"/>
<circle cx="47.67" cy="325.65" r="0.82" fill="#a81e44"/>
<circle cx="47.56" cy="316.13" r="0.82" fill="#a81e44"/>
<circle cx="48.43" cy="331.9" r="0.82" fill="#a81e44"/>
<circle cx="47.54" cy="322.01" r="0.82" fill="#a81e44"/>
<circle cx="47.41" cy="321.72" r="0.82" fill="#a81e44"/>
<circle cx="48.46" cy="322.01" r="0.82" fill="#a81e44"/>
<circle cx="48.15" cy="315.45" r="0.82" fill="#a81e44"/>
<circle cx="47.78" cy="327.24" r="0.82" fill="#a81e44"/>
<circle cx="48.23" cy="329.08" r="0.82" fill="#a81e44"/>
<circle cx="48.24" cy="321.93" r="0.82" fill="#a81e44"/>
<rect x="49.98" y="283.41" width="1.2" height="24.47" fill="#2f5f88"/>
<circle cx="50.14" cy="299.82" r="0.7" fill="#1f4a6e"/>
<circle cx="51.21" cy="288.03" r="0.7" fill="#1f4a6e"/>
<circle cx="50.87" cy="221.92" r="0.82" fill="#1f4a6e"/>
<circle cx="50.79" cy="222.13" r="0.82" fill="#1f4a6e"/>
<circle cx="50.55" cy="225.74" r="0.82" fill="#1f4a6e"/>
<circle cx="50.01" cy="319.38" r="0.82" fill="#1f4a6e"/>
<circle cx="50.29" cy="330.21" r="0.82" fill="#1f4a6e"/>
<circle cx="50.74" cy="322.57" r="0.82" fill="#1f4a6e"/>
<circle cx="50.47" cy="299.53" r="0.82" fill="#1f4a6e"/>
<circle cx="51.07" cy="300.18" r="0.82" fill="#1f4a6e"/>
<circle cx="50.38" cy="299.58" r="0.82" fill="#1f4a6e"/>
<circle cx="50.23" cy="323.85" r="0.82" fill="#1f4a6e"/>
<circle cx="50.2" cy="324.63" r="0.82" fill="#1f4a6e"/>
<circle cx="50.97" cy="310.51" r="0.82" fill="#1f4a6e"/>
<circle cx="50.51" cy="303.37" r="0.82" fill="#1f4a6e"/>
<circle cx="50.86" cy="309.56" r="0.82" fill="#1f4a6e"/>
<rect x="52.21" y="227.13" width="1.2" height="83.2" fill="#c2305a"/>
<circle cx="52.98" cy="303.28" r="0.7" fill="#a81e44"/>
<circle cx="53.16" cy="234.64" r="0.7" fill="#a81e44"/>
<circle cx="52.73" cy="247.92" r="0.7" fill="#a81e44"/>
<circle cx="53.16" cy="295.48" r="0.7" fill="#a81e44"/>
<circle cx="53.18" cy="282.67" r="0.7" fill="#a81e44"/>
<circle cx="52.61" cy="229.49" r="0.7" fill="#a81e44"/>
<circle cx="53.39" cy="276.94" r="0.7" fill="#a81e44"/>
<circle cx="52.4" cy="219.15" r="0.82" fill="#a81e44"/>
<circle cx="52.38" cy="225.73" r="0.82" fill="#a81e44"/>
<circle cx="53.1" cy="217.17" r="0.82" fill="#a81e44"/>
<circle cx="53.12" cy="329.13" r="0.82" fill="#a81e44"/>
<circle cx="52.93" cy="310.76" r="0.82" fill="#a81e44"/>
<circle cx="52.81" cy="324.64" r="0.82" fill="#a81e44"/>
<circle cx="52.23" cy="329.47" r="0.82" fill="#a81e44"/>
<circle cx="52.92" cy="310.97" r="0.82" fill="#a81e44"/>
<circle cx="53.24" cy="320.76" r="0.82" fill="#a81e44"/>
<circle cx="53.17" cy="322.8" r="0.82" fill="#a81e44"/>
<circle cx="52.44" cy="314.16" r="0.82" fill="#a81e44"/>
<circle cx="52.53" cy="326.81" r="0.82" fill="#a81e44"/>
<circle cx="52.86" cy="327.06" r="0.82" fill="#a81e44"/>
<circle cx="52.67" cy="326.64" r="0.82" fill="#a81e44"/>
<circle cx="53.21" cy="329.47" r="0.82" fill="#a81e44"/>
<circle cx="52.71" cy="324.56" r="0.82" fill="#a81e44"/>
<circle cx="53.2" cy="319.51" r="0.82" fill="#a81e44"/>
<rect x="54.81" y="304.21" width="1.2" height="24.47" fill="#2f5f88"/>
<circle cx="55.94" cy="318.39" r="0.7" fill="#1f4a6e"/>
<circle cx="55.4" cy="316.41" r="0.7" fill="#1f4a6e"/>
<circle cx="54.83" cy="313.84" r="0.82" fill="#1f4a6e"/>
<circle cx="55.01" cy="316.59" r="0.82" fill="#1f4a6e"/>
<circle cx="55.69" cy="331" r="0.82" fill="#1f4a6e"/>
<circle cx="55.33" cy="325.44" r="0.82" fill="#1f4a6e"/>
<circle cx="55.42" cy="307.17" r="0.82" fill="#1f4a6e"/>
<circle cx="55.38" cy="320.36" r="0.82" fill="#1f4a6e"/>
<circle cx="55.67" cy="312.78" r="0.82" fill="#1f4a6e"/>
<circle cx="55.43" cy="327.62" r="0.82" fill="#1f4a6e"/>
<circle cx="55.11" cy="322.92" r="0.82" fill="#1f4a6e"/>
<circle cx="55.37" cy="305.62" r="0.82" fill="#1f4a6e"/>
<circle cx="55.65" cy="312.57" r="0.82" fill="#1f4a6e"/>
<circle cx="57.53" cy="272.36" r="0.82" fill="#a81e44"/>
<circle cx="57.6" cy="276.39" r="0.82" fill="#a81e44"/>
<circle cx="57.8" cy="277.74" r="0.82" fill="#a81e44"/>
<circle cx="57.63" cy="278.55" r="0.82" fill="#a81e44"/>
<circle cx="58.08" cy="278.2" r="0.82" fill="#a81e44"/>
<circle cx="58" cy="275.23" r="0.82" fill="#a81e44"/>
<circle cx="57.33" cy="271.96" r="0.82" fill="#a81e44"/>
<circle cx="58.08" cy="277.11" r="0.82" fill="#a81e44"/>
<circle cx="57.19" cy="273.33" r="0.82" fill="#a81e44"/>
<circle cx="57.53" cy="283" r="0.82" fill="#a81e44"/>
<circle cx="57.3" cy="283.66" r="0.82" fill="#a81e44"/>
<circle cx="57.78" cy="283.65" r="0.82" fill="#a81e44"/>
<circle cx="58.03" cy="274.09" r="0.82" fill="#a81e44"/>
<circle cx="57.83" cy="282.56" r="0.82" fill="#a81e44"/>
<circle cx="59.8" cy="275.75" r="0.82" fill="#1f4a6e"/>
<circle cx="60.7" cy="272.75" r="0.82" fill="#1f4a6e"/>
<circle cx="60.69" cy="281.68" r="0.82" fill="#1f4a6e"/>
<circle cx="60.18" cy="279.28" r="0.82" fill="#1f4a6e"/>
<circle cx="60.56" cy="271.31" r="0.82" fill="#1f4a6e"/>
<circle cx="60.11" cy="282.46" r="0.82" fill="#1f4a6e"/>
<circle cx="60.01" cy="277.7" r="0.82" fill="#1f4a6e"/>
<circle cx="59.99" cy="282" r="0.82" fill="#1f4a6e"/>
<circle cx="59.66" cy="274.92" r="0.82" fill="#1f4a6e"/>
<circle cx="60.12" cy="277.18" r="0.82" fill="#1f4a6e"/>
<circle cx="60" cy="284.39" r="0.82" fill="#1f4a6e"/>
<circle cx="60.2" cy="276.24" r="0.82" fill="#1f4a6e"/>
<circle cx="60.72" cy="283.77" r="0.82" fill="#1f4a6e"/>
<circle cx="60.71" cy="274.03" r="0.82" fill="#1f4a6e"/>
<circle cx="57.33" cy="326.39" r="0.82" fill="#a81e44"/>
<circle cx="57.9" cy="329.34" r="0.82" fill="#a81e44"/>
<circle cx="57.18" cy="318.89" r="0.82" fill="#a81e44"/>
<circle cx="58.04" cy="312.01" r="0.82" fill="#a81e44"/>
<circle cx="57.32" cy="294.05" r="0.82" fill="#a81e44"/>
<circle cx="60.65" cy="324.37" r="0.82" fill="#1f4a6e"/>
<circle cx="60.41" cy="305.3" r="0.82" fill="#1f4a6e"/>
<circle cx="59.7" cy="327.08" r="0.82" fill="#1f4a6e"/>
<circle cx="60.11" cy="299.97" r="0.82" fill="#1f4a6e"/>
<circle cx="60.67" cy="327.85" r="0.82" fill="#1f4a6e"/>
<rect x="61.92" y="271.9" width="1.0" height="60.45" fill="#a81e44" fill-opacity="0.85"/>
<circle cx="62.75" cy="292.76" r="0.82" fill="#a81e44"/>
<circle cx="62.81" cy="327.13" r="0.82" fill="#a81e44"/>
<circle cx="62.82" cy="328.2" r="0.82" fill="#a81e44"/>
<circle cx="62.24" cy="304.04" r="0.82" fill="#a81e44"/>
<circle cx="62.89" cy="297.84" r="0.82" fill="#a81e44"/>
<circle cx="62.01" cy="315.64" r="0.82" fill="#a81e44"/>
<circle cx="62.13" cy="299.47" r="0.82" fill="#a81e44"/>
<circle cx="62.05" cy="325.52" r="0.82" fill="#a81e44"/>
<circle cx="62.09" cy="329.21" r="0.82" fill="#a81e44"/>
<circle cx="62.21" cy="312.89" r="0.82" fill="#a81e44"/>
<circle cx="62.19" cy="284.96" r="0.82" fill="#a81e44"/>
<circle cx="62.07" cy="301.15" r="0.82" fill="#a81e44"/>
<circle cx="61.89" cy="310.7" r="0.82" fill="#a81e44"/>
<circle cx="61.89" cy="316.73" r="0.82" fill="#a81e44"/>
<circle cx="62.48" cy="286.61" r="0.82" fill="#a81e44"/>
<circle cx="62.39" cy="320.53" r="0.82" fill="#a81e44"/>
<circle cx="61.99" cy="274.03" r="0.82" fill="#a81e44"/>
<circle cx="62.35" cy="281.25" r="0.82" fill="#a81e44"/>
<circle cx="62.79" cy="301.47" r="0.82" fill="#a81e44"/>
<circle cx="62.43" cy="307.83" r="0.82" fill="#a81e44"/>
<circle cx="62.95" cy="289.44" r="0.82" fill="#a81e44"/>
<circle cx="62.79" cy="310.97" r="0.82" fill="#a81e44"/>
<circle cx="62.57" cy="288.25" r="0.82" fill="#a81e44"/>
<circle cx="62.25" cy="307.1" r="0.82" fill="#a81e44"/>
<circle cx="62.01" cy="328.96" r="0.82" fill="#a81e44"/>
<circle cx="62.68" cy="327.94" r="0.82" fill="#a81e44"/>
<circle cx="62.05" cy="316.4" r="0.82" fill="#a81e44"/>
<circle cx="62.8" cy="327.08" r="0.82" fill="#a81e44"/>
<circle cx="62.61" cy="278.03" r="0.82" fill="#a81e44"/>
<circle cx="62.14" cy="314.76" r="0.82" fill="#a81e44"/>
<circle cx="62.38" cy="314.07" r="0.82" fill="#a81e44"/>
<circle cx="62.36" cy="322.52" r="0.82" fill="#a81e44"/>
<circle cx="62.93" cy="315.93" r="0.82" fill="#a81e44"/>
<circle cx="62.47" cy="271.66" r="0.82" fill="#a81e44"/>
<circle cx="62.93" cy="317.1" r="0.82" fill="#a81e44"/>
<circle cx="62.26" cy="313.04" r="0.82" fill="#a81e44"/>
<circle cx="62.29" cy="332.29" r="0.82" fill="#a81e44"/>
<circle cx="62.42" cy="302.74" r="0.82" fill="#a81e44"/>
<circle cx="62.43" cy="319.81" r="0.82" fill="#a81e44"/>
<circle cx="62.16" cy="332.04" r="0.82" fill="#a81e44"/>
<circle cx="62.31" cy="326.75" r="0.82" fill="#a81e44"/>
<circle cx="61.89" cy="329.75" r="0.82" fill="#a81e44"/>
<circle cx="62.13" cy="313.37" r="0.82" fill="#a81e44"/>
<circle cx="62.45" cy="295.81" r="0.82" fill="#a81e44"/>
<circle cx="62.59" cy="285.52" r="0.82" fill="#a81e44"/>
<circle cx="62.84" cy="287.68" r="0.82" fill="#a81e44"/>
<circle cx="62.23" cy="308.05" r="0.82" fill="#a81e44"/>
<circle cx="62.03" cy="270.91" r="0.82" fill="#a81e44"/>
<circle cx="62.58" cy="287.17" r="0.82" fill="#a81e44"/>
<circle cx="62.79" cy="329.62" r="0.82" fill="#a81e44"/>
<circle cx="62.56" cy="276.7" r="0.82" fill="#a81e44"/>
<circle cx="62.76" cy="286.56" r="0.82" fill="#a81e44"/>
<circle cx="62.45" cy="323.66" r="0.82" fill="#a81e44"/>
<circle cx="62.79" cy="300.88" r="0.82" fill="#a81e44"/>
<circle cx="62.78" cy="282.14" r="0.82" fill="#a81e44"/>
<circle cx="62.85" cy="295.91" r="0.82" fill="#a81e44"/>
<circle cx="62.63" cy="289.74" r="0.82" fill="#a81e44"/>
<circle cx="61.9" cy="318.01" r="0.82" fill="#a81e44"/>
<circle cx="62.27" cy="324.05" r="0.82" fill="#a81e44"/>
<circle cx="62.79" cy="325.81" r="0.82" fill="#a81e44"/>
<circle cx="62.56" cy="297.5" r="0.82" fill="#a81e44"/>
<circle cx="62.62" cy="293.28" r="0.82" fill="#a81e44"/>
<circle cx="61.87" cy="301.82" r="0.82" fill="#a81e44"/>
<circle cx="62.69" cy="282.58" r="0.82" fill="#a81e44"/>
<circle cx="62.46" cy="300.97" r="0.82" fill="#a81e44"/>
<circle cx="61.94" cy="291.21" r="0.82" fill="#a81e44"/>
<circle cx="62.15" cy="286.38" r="0.82" fill="#a81e44"/>
<circle cx="62.16" cy="327.71" r="0.82" fill="#a81e44"/>
<circle cx="62.1" cy="286.84" r="0.82" fill="#a81e44"/>
<circle cx="62.94" cy="286.19" r="0.82" fill="#a81e44"/>
<circle cx="62.29" cy="301.53" r="0.82" fill="#a81e44"/>
<circle cx="62.62" cy="302.46" r="0.82" fill="#a81e44"/>
<circle cx="62.55" cy="284.5" r="0.82" fill="#a81e44"/>
<circle cx="61.96" cy="292.25" r="0.82" fill="#a81e44"/>
<circle cx="62.15" cy="323.15" r="0.82" fill="#a81e44"/>
<circle cx="62.2" cy="285.98" r="0.82" fill="#a81e44"/>
<circle cx="61.88" cy="296.93" r="0.82" fill="#a81e44"/>
<circle cx="62.17" cy="328.57" r="0.82" fill="#a81e44"/>
<circle cx="62.63" cy="290.42" r="0.82" fill="#a81e44"/>
<circle cx="62.19" cy="290.19" r="0.82" fill="#a81e44"/>
<circle cx="62.38" cy="300.12" r="0.82" fill="#a81e44"/>
<circle cx="62" cy="303.25" r="0.82" fill="#a81e44"/>
<circle cx="62.09" cy="276.59" r="0.82" fill="#a81e44"/>
<circle cx="62.9" cy="271.32" r="0.82" fill="#a81e44"/>
<circle cx="62.37" cy="331.26" r="0.82" fill="#a81e44"/>
<circle cx="62.93" cy="281.19" r="0.82" fill="#a81e44"/>
<circle cx="62.17" cy="304.31" r="0.82" fill="#a81e44"/>
<circle cx="62.91" cy="319.26" r="0.82" fill="#a81e44"/>
<circle cx="62.51" cy="319.21" r="0.82" fill="#a81e44"/>
<circle cx="62.45" cy="323.51" r="0.82" fill="#a81e44"/>
<circle cx="62.02" cy="272.9" r="0.82" fill="#a81e44"/>
<circle cx="62.43" cy="281.17" r="0.82" fill="#a81e44"/>
<circle cx="62.64" cy="277.01" r="0.82" fill="#a81e44"/>
<circle cx="62.86" cy="317.92" r="0.82" fill="#a81e44"/>
<circle cx="61.9" cy="302.02" r="0.82" fill="#a81e44"/>
<circle cx="62.41" cy="332.13" r="0.82" fill="#a81e44"/>
<circle cx="62.2" cy="304.23" r="0.82" fill="#a81e44"/>
<circle cx="62.25" cy="323.57" r="0.82" fill="#a81e44"/>
<circle cx="62.79" cy="312.63" r="0.82" fill="#a81e44"/>
<circle cx="62.7" cy="332.24" r="0.82" fill="#a81e44"/>
<circle cx="62" cy="279.99" r="0.82" fill="#a81e44"/>
<circle cx="62.65" cy="274.55" r="0.82" fill="#a81e44"/>
<circle cx="62.19" cy="276.1" r="0.82" fill="#a81e44"/>
<circle cx="62.3" cy="309.13" r="0.82" fill="#a81e44"/>
<circle cx="62.52" cy="270.03" r="0.82" fill="#a81e44"/>
<circle cx="62.34" cy="309.85" r="0.82" fill="#a81e44"/>
<circle cx="61.92" cy="315.18" r="0.82" fill="#a81e44"/>
<circle cx="62.79" cy="326.01" r="0.82" fill="#a81e44"/>
<circle cx="62.9" cy="314.53" r="0.82" fill="#a81e44"/>
<circle cx="62.16" cy="316.8" r="0.82" fill="#a81e44"/>
<circle cx="62.08" cy="300.47" r="0.82" fill="#a81e44"/>
<circle cx="62.92" cy="309.06" r="0.82" fill="#a81e44"/>
<circle cx="62.76" cy="277.18" r="0.82" fill="#a81e44"/>
<circle cx="62.87" cy="292.99" r="0.82" fill="#a81e44"/>
<circle cx="62.47" cy="273.65" r="0.82" fill="#a81e44"/>
<circle cx="61.92" cy="287.45" r="0.82" fill="#a81e44"/>
<circle cx="62.37" cy="286.66" r="0.82" fill="#a81e44"/>
<circle cx="62.58" cy="285.39" r="0.82" fill="#a81e44"/>
<circle cx="61.92" cy="314.49" r="0.82" fill="#a81e44"/>
<circle cx="62.01" cy="274.52" r="0.82" fill="#a81e44"/>
<circle cx="62.25" cy="302.89" r="0.82" fill="#a81e44"/>
<circle cx="62.68" cy="313.77" r="0.82" fill="#a81e44"/>
<circle cx="62.16" cy="271.43" r="0.82" fill="#a81e44"/>
<rect x="64.52" y="271.9" width="1.0" height="59.23" fill="#1f4a6e" fill-opacity="0.85"/>
<circle cx="64.8" cy="291" r="0.82" fill="#1f4a6e"/>
<circle cx="64.9" cy="297.04" r="0.82" fill="#1f4a6e"/>
<circle cx="64.65" cy="320.89" r="0.82" fill="#1f4a6e"/>
<circle cx="65.47" cy="318.41" r="0.82" fill="#1f4a6e"/>
<circle cx="64.71" cy="300.72" r="0.82" fill="#1f4a6e"/>
<circle cx="65.57" cy="275.69" r="0.82" fill="#1f4a6e"/>
<circle cx="64.62" cy="303.6" r="0.82" fill="#1f4a6e"/>
<circle cx="64.57" cy="319.36" r="0.82" fill="#1f4a6e"/>
<circle cx="64.57" cy="310.21" r="0.82" fill="#1f4a6e"/>
<circle cx="64.75" cy="316.5" r="0.82" fill="#1f4a6e"/>
<circle cx="65.45" cy="296.28" r="0.82" fill="#1f4a6e"/>
<circle cx="64.92" cy="285.27" r="0.82" fill="#1f4a6e"/>
<circle cx="65.05" cy="305.81" r="0.82" fill="#1f4a6e"/>
<circle cx="64.84" cy="308.07" r="0.82" fill="#1f4a6e"/>
<circle cx="64.78" cy="327.33" r="0.82" fill="#1f4a6e"/>
<circle cx="64.61" cy="271.93" r="0.82" fill="#1f4a6e"/>
<circle cx="65.16" cy="300.33" r="0.82" fill="#1f4a6e"/>
<circle cx="64.71" cy="278.34" r="0.82" fill="#1f4a6e"/>
<circle cx="64.74" cy="314.55" r="0.82" fill="#1f4a6e"/>
<circle cx="64.96" cy="306.67" r="0.82" fill="#1f4a6e"/>
<circle cx="65.4" cy="272.77" r="0.82" fill="#1f4a6e"/>
<circle cx="64.49" cy="277.73" r="0.82" fill="#1f4a6e"/>
<circle cx="65.25" cy="329.16" r="0.82" fill="#1f4a6e"/>
<circle cx="64.99" cy="276.34" r="0.82" fill="#1f4a6e"/>
<circle cx="64.47" cy="295.21" r="0.82" fill="#1f4a6e"/>
<circle cx="65.49" cy="307.18" r="0.82" fill="#1f4a6e"/>
<circle cx="65.41" cy="280.62" r="0.82" fill="#1f4a6e"/>
<circle cx="64.74" cy="271.65" r="0.82" fill="#1f4a6e"/>
<circle cx="64.64" cy="324.46" r="0.82" fill="#1f4a6e"/>
<circle cx="65.22" cy="299.17" r="0.82" fill="#1f4a6e"/>
<circle cx="65.26" cy="273.53" r="0.82" fill="#1f4a6e"/>
<circle cx="65.31" cy="291.53" r="0.82" fill="#1f4a6e"/>
<circle cx="65.08" cy="303.15" r="0.82" fill="#1f4a6e"/>
<circle cx="65.33" cy="328.71" r="0.82" fill="#1f4a6e"/>
<circle cx="65.48" cy="316.9" r="0.82" fill="#1f4a6e"/>
<circle cx="64.8" cy="291.64" r="0.82" fill="#1f4a6e"/>
<circle cx="64.75" cy="323.3" r="0.82" fill="#1f4a6e"/>
<circle cx="65.24" cy="292.2" r="0.82" fill="#1f4a6e"/>
<circle cx="64.55" cy="324.27" r="0.82" fill="#1f4a6e"/>
<circle cx="65.11" cy="299.05" r="0.82" fill="#1f4a6e"/>
<circle cx="64.72" cy="307.39" r="0.82" fill="#1f4a6e"/>
<circle cx="64.48" cy="294.36" r="0.82" fill="#1f4a6e"/>
<circle cx="64.98" cy="312.68" r="0.82" fill="#1f4a6e"/>
<circle cx="65.18" cy="272.47" r="0.82" fill="#1f4a6e"/>
<circle cx="64.99" cy="277.06" r="0.82" fill="#1f4a6e"/>
<circle cx="64.74" cy="316.77" r="0.82" fill="#1f4a6e"/>
<circle cx="65.25" cy="272.36" r="0.82" fill="#1f4a6e"/>
<circle cx="64.49" cy="312.32" r="0.82" fill="#1f4a6e"/>
<circle cx="65.21" cy="300.65" r="0.82" fill="#1f4a6e"/>
<circle cx="64.75" cy="305.44" r="0.82" fill="#1f4a6e"/>
<circle cx="65.49" cy="290.3" r="0.82" fill="#1f4a6e"/>
<circle cx="64.51" cy="317.26" r="0.82" fill="#1f4a6e"/>
<circle cx="64.93" cy="310.45" r="0.82" fill="#1f4a6e"/>
<circle cx="64.69" cy="289.37" r="0.82" fill="#1f4a6e"/>
<circle cx="65.28" cy="282.37" r="0.82" fill="#1f4a6e"/>
<circle cx="64.7" cy="300.24" r="0.82" fill="#1f4a6e"/>
<circle cx="64.81" cy="271.8" r="0.82" fill="#1f4a6e"/>
<circle cx="64.72" cy="280.97" r="0.82" fill="#1f4a6e"/>
<circle cx="65.31" cy="317.58" r="0.82" fill="#1f4a6e"/>
<circle cx="65.52" cy="313.09" r="0.82" fill="#1f4a6e"/>
<circle cx="64.68" cy="300.8" r="0.82" fill="#1f4a6e"/>
<circle cx="64.93" cy="317.47" r="0.82" fill="#1f4a6e"/>
<circle cx="65.51" cy="290.43" r="0.82" fill="#1f4a6e"/>
<circle cx="64.9" cy="322.17" r="0.82" fill="#1f4a6e"/>
<circle cx="65.54" cy="318.1" r="0.82" fill="#1f4a6e"/>
<circle cx="64.53" cy="322.45" r="0.82" fill="#1f4a6e"/>
<circle cx="64.9" cy="327.45" r="0.82" fill="#1f4a6e"/>
<circle cx="65.44" cy="276.18" r="0.82" fill="#1f4a6e"/>
<circle cx="65.57" cy="286.31" r="0.82" fill="#1f4a6e"/>
<circle cx="64.83" cy="274.14" r="0.82" fill="#1f4a6e"/>
<circle cx="65.5" cy="319.78" r="0.82" fill="#1f4a6e"/>
<circle cx="64.51" cy="285.47" r="0.82" fill="#1f4a6e"/>
<circle cx="64.89" cy="290.48" r="0.82" fill="#1f4a6e"/>
<circle cx="64.83" cy="308.26" r="0.82" fill="#1f4a6e"/>
<circle cx="64.47" cy="320.77" r="0.82" fill="#1f4a6e"/>
<circle cx="64.86" cy="314.01" r="0.82" fill="#1f4a6e"/>
<circle cx="64.61" cy="272.68" r="0.82" fill="#1f4a6e"/>
<circle cx="64.7" cy="272.14" r="0.82" fill="#1f4a6e"/>
<circle cx="65.37" cy="309.31" r="0.82" fill="#1f4a6e"/>
<circle cx="64.95" cy="280.84" r="0.82" fill="#1f4a6e"/>
<circle cx="64.99" cy="328.12" r="0.82" fill="#1f4a6e"/>
<circle cx="65.48" cy="308.33" r="0.82" fill="#1f4a6e"/>
<circle cx="64.87" cy="319.32" r="0.82" fill="#1f4a6e"/>
<circle cx="64.5" cy="276.26" r="0.82" fill="#1f4a6e"/>
<circle cx="65.36" cy="306" r="0.82" fill="#1f4a6e"/>
<circle cx="64.51" cy="284.23" r="0.82" fill="#1f4a6e"/>
<circle cx="64.54" cy="329" r="0.82" fill="#1f4a6e"/>
<circle cx="64.75" cy="274.84" r="0.82" fill="#1f4a6e"/>
<circle cx="65.46" cy="285.41" r="0.82" fill="#1f4a6e"/>
<circle cx="64.77" cy="310.39" r="0.82" fill="#1f4a6e"/>
<circle cx="65.15" cy="272.54" r="0.82" fill="#1f4a6e"/>
<circle cx="65.26" cy="315.09" r="0.82" fill="#1f4a6e"/>
<circle cx="64.77" cy="311.77" r="0.82" fill="#1f4a6e"/>
<circle cx="65.3" cy="330.9" r="0.82" fill="#1f4a6e"/>
<circle cx="65.17" cy="275.07" r="0.82" fill="#1f4a6e"/>
<circle cx="64.5" cy="273.43" r="0.82" fill="#1f4a6e"/>
<circle cx="64.99" cy="316.82" r="0.82" fill="#1f4a6e"/>
<circle cx="65.52" cy="272.6" r="0.82" fill="#1f4a6e"/>
<circle cx="64.75" cy="307.48" r="0.82" fill="#1f4a6e"/>
<circle cx="65.01" cy="304.83" r="0.82" fill="#1f4a6e"/>
<circle cx="62.07" cy="217.54" r="0.82" fill="#a81e44"/>
<circle cx="62.68" cy="224.3" r="0.82" fill="#a81e44"/>
<circle cx="62.72" cy="223.22" r="0.82" fill="#a81e44"/>
<circle cx="62.23" cy="234.82" r="0.82" fill="#a81e44"/>
<circle cx="62.27" cy="250.3" r="0.82" fill="#a81e44"/>
<circle cx="61.96" cy="225.4" r="0.82" fill="#a81e44"/>
<circle cx="62.7" cy="256.89" r="0.82" fill="#a81e44"/>
<circle cx="61.94" cy="254.19" r="0.82" fill="#a81e44"/>
<circle cx="62.48" cy="265.68" r="0.82" fill="#a81e44"/>
<circle cx="62.95" cy="249.97" r="0.82" fill="#a81e44"/>
<circle cx="62.96" cy="219.95" r="0.82" fill="#a81e44"/>
<circle cx="61.96" cy="253.25" r="0.82" fill="#a81e44"/>
<circle cx="62.42" cy="262.32" r="0.82" fill="#a81e44"/>
<circle cx="62.36" cy="229.3" r="0.82" fill="#a81e44"/>
<circle cx="64.93" cy="257.48" r="0.82" fill="#1f4a6e"/>
<circle cx="65.21" cy="240.94" r="0.82" fill="#1f4a6e"/>
<circle cx="65.4" cy="235.48" r="0.82" fill="#1f4a6e"/>
<circle cx="64.6" cy="239.06" r="0.82" fill="#1f4a6e"/>
<circle cx="64.79" cy="231.5" r="0.82" fill="#1f4a6e"/>
<circle cx="64.88" cy="243.23" r="0.82" fill="#1f4a6e"/>
<circle cx="64.69" cy="235.9" r="0.82" fill="#1f4a6e"/>
<circle cx="64.74" cy="256.91" r="0.82" fill="#1f4a6e"/>
<rect x="69.3" y="287.08" width="1.2" height="41.6" fill="#2f5f88"/>
<circle cx="70.39" cy="322.3" r="0.7" fill="#1f4a6e"/>
<circle cx="69.61" cy="304.63" r="0.7" fill="#1f4a6e"/>
<circle cx="70.54" cy="312.21" r="0.7" fill="#1f4a6e"/>
<circle cx="69.47" cy="307.58" r="0.7" fill="#1f4a6e"/>
<circle cx="67.42" cy="284.17" r="0.82" fill="#a81e44"/>
<circle cx="66.81" cy="274.12" r="0.82" fill="#a81e44"/>
<circle cx="67.6" cy="302.54" r="0.82" fill="#a81e44"/>
<circle cx="67.71" cy="282.4" r="0.82" fill="#a81e44"/>
<circle cx="67.02" cy="326.46" r="0.82" fill="#a81e44"/>
<circle cx="66.91" cy="322.12" r="0.82" fill="#a81e44"/>
<circle cx="67.34" cy="275.11" r="0.82" fill="#a81e44"/>
<circle cx="67.11" cy="277.47" r="0.82" fill="#a81e44"/>
<circle cx="67.19" cy="281" r="0.82" fill="#a81e44"/>
<circle cx="67.56" cy="314.37" r="0.82" fill="#a81e44"/>
<circle cx="66.82" cy="276.61" r="0.82" fill="#a81e44"/>
<circle cx="67.32" cy="266.28" r="0.82" fill="#a81e44"/>
<rect x="71.58" y="271.9" width="1.0" height="60.45" fill="#a81e44" fill-opacity="0.85"/>
<circle cx="71.94" cy="318.77" r="0.82" fill="#a81e44"/>
<circle cx="71.75" cy="323.53" r="0.82" fill="#a81e44"/>
<circle cx="72.19" cy="316.45" r="0.82" fill="#a81e44"/>
<circle cx="71.75" cy="291.69" r="0.82" fill="#a81e44"/>
<circle cx="71.89" cy="331.64" r="0.82" fill="#a81e44"/>
<circle cx="71.73" cy="290.03" r="0.82" fill="#a81e44"/>
<circle cx="71.75" cy="312.87" r="0.82" fill="#a81e44"/>
<circle cx="72.13" cy="282.73" r="0.82" fill="#a81e44"/>
<circle cx="71.64" cy="328.4" r="0.82" fill="#a81e44"/>
<circle cx="72.14" cy="307.69" r="0.82" fill="#a81e44"/>
<circle cx="71.63" cy="292.47" r="0.82" fill="#a81e44"/>
<circle cx="72.29" cy="322.14" r="0.82" fill="#a81e44"/>
<circle cx="71.84" cy="306.78" r="0.82" fill="#a81e44"/>
<circle cx="72.58" cy="313.16" r="0.82" fill="#a81e44"/>
<circle cx="72.15" cy="312.86" r="0.82" fill="#a81e44"/>
<circle cx="71.99" cy="310.07" r="0.82" fill="#a81e44"/>
<circle cx="72.63" cy="278.43" r="0.82" fill="#a81e44"/>
<circle cx="71.75" cy="309.65" r="0.82" fill="#a81e44"/>
<circle cx="71.75" cy="286.92" r="0.82" fill="#a81e44"/>
<circle cx="72.52" cy="331.99" r="0.82" fill="#a81e44"/>
<circle cx="72.43" cy="305.91" r="0.82" fill="#a81e44"/>
<circle cx="72.5" cy="307.01" r="0.82" fill="#a81e44"/>
<circle cx="71.71" cy="303.59" r="0.82" fill="#a81e44"/>
<circle cx="72.14" cy="331.43" r="0.82" fill="#a81e44"/>
<circle cx="72.53" cy="292.38" r="0.82" fill="#a81e44"/>
<circle cx="72.21" cy="326.8" r="0.82" fill="#a81e44"/>
<circle cx="72.08" cy="309.21" r="0.82" fill="#a81e44"/>
<circle cx="71.84" cy="323.25" r="0.82" fill="#a81e44"/>
<circle cx="72.55" cy="299.83" r="0.82" fill="#a81e44"/>
<circle cx="72.07" cy="325.56" r="0.82" fill="#a81e44"/>
<circle cx="72.59" cy="282.13" r="0.82" fill="#a81e44"/>
<circle cx="71.67" cy="320.04" r="0.82" fill="#a81e44"/>
<circle cx="72.6" cy="273.51" r="0.82" fill="#a81e44"/>
<circle cx="71.59" cy="302.23" r="0.82" fill="#a81e44"/>
<circle cx="71.96" cy="274.56" r="0.82" fill="#a81e44"/>
<circle cx="72.21" cy="275.93" r="0.82" fill="#a81e44"/>
<circle cx="71.71" cy="280.9" r="0.82" fill="#a81e44"/>
<circle cx="71.77" cy="283.32" r="0.82" fill="#a81e44"/>
<circle cx="72.46" cy="307.11" r="0.82" fill="#a81e44"/>
<circle cx="71.73" cy="280.61" r="0.82" fill="#a81e44"/>
<circle cx="71.97" cy="318.74" r="0.82" fill="#a81e44"/>
<circle cx="71.95" cy="300.04" r="0.82" fill="#a81e44"/>
<circle cx="71.8" cy="324.67" r="0.82" fill="#a81e44"/>
<circle cx="72.52" cy="287.12" r="0.82" fill="#a81e44"/>
<circle cx="72.15" cy="329.79" r="0.82" fill="#a81e44"/>
<circle cx="71.57" cy="285.09" r="0.82" fill="#a81e44"/>
<circle cx="71.66" cy="280.05" r="0.82" fill="#a81e44"/>
<circle cx="72.14" cy="294.94" r="0.82" fill="#a81e44"/>
<circle cx="71.87" cy="293.23" r="0.82" fill="#a81e44"/>
<circle cx="72.17" cy="306.14" r="0.82" fill="#a81e44"/>
<circle cx="72.25" cy="305.79" r="0.82" fill="#a81e44"/>
<circle cx="72.01" cy="304.47" r="0.82" fill="#a81e44"/>
<circle cx="72.21" cy="330.89" r="0.82" fill="#a81e44"/>
<circle cx="71.79" cy="301.81" r="0.82" fill="#a81e44"/>
<circle cx="72.39" cy="284.71" r="0.82" fill="#a81e44"/>
<circle cx="71.73" cy="303.76" r="0.82" fill="#a81e44"/>
<circle cx="71.65" cy="302.82" r="0.82" fill="#a81e44"/>
<circle cx="72" cy="324.34" r="0.82" fill="#a81e44"/>
<circle cx="72.02" cy="326.63" r="0.82" fill="#a81e44"/>
<circle cx="71.57" cy="300.52" r="0.82" fill="#a81e44"/>
<circle cx="71.62" cy="292.64" r="0.82" fill="#a81e44"/>
<circle cx="72.39" cy="286.58" r="0.82" fill="#a81e44"/>
<circle cx="71.59" cy="300.44" r="0.82" fill="#a81e44"/>
<circle cx="71.95" cy="300.91" r="0.82" fill="#a81e44"/>
<circle cx="71.68" cy="273.02" r="0.82" fill="#a81e44"/>
<circle cx="72.63" cy="278.87" r="0.82" fill="#a81e44"/>
<circle cx="72.43" cy="286.67" r="0.82" fill="#a81e44"/>
<circle cx="72.61" cy="320.27" r="0.82" fill="#a81e44"/>
<circle cx="72.58" cy="301.66" r="0.82" fill="#a81e44"/>
<circle cx="71.71" cy="275.19" r="0.82" fill="#a81e44"/>
<circle cx="72.55" cy="283.16" r="0.82" fill="#a81e44"/>
<circle cx="71.92" cy="328.26" r="0.82" fill="#a81e44"/>
<circle cx="71.7" cy="285.17" r="0.82" fill="#a81e44"/>
<circle cx="71.83" cy="276.41" r="0.82" fill="#a81e44"/>
<circle cx="71.69" cy="281.46" r="0.82" fill="#a81e44"/>
<circle cx="72.54" cy="301.02" r="0.82" fill="#a81e44"/>
<circle cx="71.82" cy="319.35" r="0.82" fill="#a81e44"/>
<circle cx="71.88" cy="300.78" r="0.82" fill="#a81e44"/>
<circle cx="71.73" cy="330.05" r="0.82" fill="#a81e44"/>
<circle cx="72.56" cy="322.29" r="0.82" fill="#a81e44"/>
<circle cx="72.51" cy="289.94" r="0.82" fill="#a81e44"/>
<circle cx="72.39" cy="321.82" r="0.82" fill="#a81e44"/>
<circle cx="72.11" cy="325.17" r="0.82" fill="#a81e44"/>
<circle cx="71.93" cy="292.65" r="0.82" fill="#a81e44"/>
<circle cx="72.14" cy="277.88" r="0.82" fill="#a81e44"/>
<circle cx="72.5" cy="296.16" r="0.82" fill="#a81e44"/>
<circle cx="72.62" cy="325.83" r="0.82" fill="#a81e44"/>
<circle cx="71.96" cy="293.06" r="0.82" fill="#a81e44"/>
<circle cx="71.82" cy="282.58" r="0.82" fill="#a81e44"/>
<circle cx="72.17" cy="270.55" r="0.82" fill="#a81e44"/>
<circle cx="72.37" cy="309.87" r="0.82" fill="#a81e44"/>
<circle cx="71.72" cy="304.76" r="0.82" fill="#a81e44"/>
<circle cx="71.58" cy="285.95" r="0.82" fill="#a81e44"/>
<circle cx="71.81" cy="281.2" r="0.82" fill="#a81e44"/>
<circle cx="72.61" cy="292.47" r="0.82" fill="#a81e44"/>
<circle cx="72.26" cy="295.8" r="0.82" fill="#a81e44"/>
<circle cx="71.53" cy="312.84" r="0.82" fill="#a81e44"/>
<circle cx="71.69" cy="330.24" r="0.82" fill="#a81e44"/>
<circle cx="72.01" cy="293.91" r="0.82" fill="#a81e44"/>
<circle cx="72.52" cy="300.36" r="0.82" fill="#a81e44"/>
<rect x="74.18" y="275.46" width="1.0" height="47.1" fill="#1f4a6e" fill-opacity="0.85"/>
<circle cx="74.38" cy="316.1" r="0.82" fill="#1f4a6e"/>
<circle cx="74.15" cy="290.6" r="0.82" fill="#1f4a6e"/>
<circle cx="74.52" cy="322.44" r="0.82" fill="#1f4a6e"/>
<circle cx="74.52" cy="317.36" r="0.82" fill="#1f4a6e"/>
<circle cx="74.77" cy="311.59" r="0.82" fill="#1f4a6e"/>
<circle cx="74.35" cy="293.73" r="0.82" fill="#1f4a6e"/>
<circle cx="74.65" cy="292.03" r="0.82" fill="#1f4a6e"/>
<circle cx="75.16" cy="315.97" r="0.82" fill="#1f4a6e"/>
<circle cx="74.29" cy="310.64" r="0.82" fill="#1f4a6e"/>
<circle cx="74.83" cy="317.88" r="0.82" fill="#1f4a6e"/>
<circle cx="74.99" cy="279.92" r="0.82" fill="#1f4a6e"/>
<circle cx="74.42" cy="302.89" r="0.82" fill="#1f4a6e"/>
<circle cx="74.84" cy="322" r="0.82" fill="#1f4a6e"/>
<circle cx="74.52" cy="295.04" r="0.82" fill="#1f4a6e"/>
<circle cx="74.62" cy="290.97" r="0.82" fill="#1f4a6e"/>
<circle cx="74.94" cy="276.7" r="0.82" fill="#1f4a6e"/>
<circle cx="75.12" cy="310.4" r="0.82" fill="#1f4a6e"/>
<circle cx="74.71" cy="320.41" r="0.82" fill="#1f4a6e"/>
<circle cx="74.39" cy="302.7" r="0.82" fill="#1f4a6e"/>
<circle cx="74.99" cy="319.71" r="0.82" fill="#1f4a6e"/>
<circle cx="74.74" cy="321.96" r="0.82" fill="#1f4a6e"/>
<circle cx="74.29" cy="276.52" r="0.82" fill="#1f4a6e"/>
<circle cx="74.8" cy="312.8" r="0.82" fill="#1f4a6e"/>
<circle cx="74.84" cy="297.75" r="0.82" fill="#1f4a6e"/>
<circle cx="74.32" cy="282.76" r="0.82" fill="#1f4a6e"/>
<circle cx="74.46" cy="307.42" r="0.82" fill="#1f4a6e"/>
<circle cx="75.11" cy="320.19" r="0.82" fill="#1f4a6e"/>
<circle cx="74.92" cy="284.25" r="0.82" fill="#1f4a6e"/>
<circle cx="75.06" cy="322.25" r="0.82" fill="#1f4a6e"/>
<circle cx="74.64" cy="286.1" r="0.82" fill="#1f4a6e"/>
<circle cx="74.63" cy="286.26" r="0.82" fill="#1f4a6e"/>
<circle cx="74.25" cy="311.51" r="0.82" fill="#1f4a6e"/>
<circle cx="74.17" cy="311.2" r="0.82" fill="#1f4a6e"/>
<circle cx="74.95" cy="306.14" r="0.82" fill="#1f4a6e"/>
<circle cx="75.06" cy="288.55" r="0.82" fill="#1f4a6e"/>
<circle cx="74.42" cy="287.74" r="0.82" fill="#1f4a6e"/>
<circle cx="74.61" cy="295.46" r="0.82" fill="#1f4a6e"/>
<circle cx="74.71" cy="283.98" r="0.82" fill="#1f4a6e"/>
<circle cx="74.84" cy="309.58" r="0.82" fill="#1f4a6e"/>
<circle cx="74.37" cy="275.33" r="0.82" fill="#1f4a6e"/>
<circle cx="74.15" cy="279.5" r="0.82" fill="#1f4a6e"/>
<circle cx="74.39" cy="309.82" r="0.82" fill="#1f4a6e"/>
<circle cx="75.17" cy="286.16" r="0.82" fill="#1f4a6e"/>
<circle cx="74.49" cy="286.05" r="0.82" fill="#1f4a6e"/>
<circle cx="74.49" cy="279.49" r="0.82" fill="#1f4a6e"/>
<circle cx="75.13" cy="310.86" r="0.82" fill="#1f4a6e"/>
<circle cx="74.89" cy="291.7" r="0.82" fill="#1f4a6e"/>
<circle cx="75.21" cy="290.01" r="0.82" fill="#1f4a6e"/>
<circle cx="75.05" cy="299.59" r="0.82" fill="#1f4a6e"/>
<circle cx="75.07" cy="288.42" r="0.82" fill="#1f4a6e"/>
<circle cx="74.93" cy="301.17" r="0.82" fill="#1f4a6e"/>
<circle cx="74.47" cy="294.65" r="0.82" fill="#1f4a6e"/>
<circle cx="74.81" cy="312.19" r="0.82" fill="#1f4a6e"/>
<circle cx="75.13" cy="318.76" r="0.82" fill="#1f4a6e"/>
<circle cx="74.16" cy="315.49" r="0.82" fill="#1f4a6e"/>
<circle cx="75.15" cy="317.34" r="0.82" fill="#1f4a6e"/>
<circle cx="74.29" cy="305.69" r="0.82" fill="#1f4a6e"/>
<circle cx="71.8" cy="267.51" r="0.82" fill="#a81e44"/>
<circle cx="77.06" cy="294.79" r="0.82" fill="#a81e44"/>
<circle cx="77.17" cy="294.57" r="0.82" fill="#a81e44"/>
<circle cx="77.01" cy="325.46" r="0.82" fill="#a81e44"/>
<circle cx="77.26" cy="310.9" r="0.82" fill="#a81e44"/>
<circle cx="77.34" cy="288.57" r="0.82" fill="#a81e44"/>
<circle cx="77.31" cy="325.45" r="0.82" fill="#a81e44"/>
<circle cx="77.4" cy="283.93" r="0.82" fill="#a81e44"/>
<circle cx="76.59" cy="323.44" r="0.82" fill="#a81e44"/>
<circle cx="76.4" cy="323.2" r="0.82" fill="#a81e44"/>
<circle cx="77.25" cy="287.2" r="0.82" fill="#a81e44"/>
<circle cx="77.27" cy="297.65" r="0.82" fill="#a81e44"/>
<circle cx="76.68" cy="297.78" r="0.82" fill="#a81e44"/>
<circle cx="76.47" cy="323.79" r="0.82" fill="#a81e44"/>
<circle cx="76.59" cy="291.62" r="0.82" fill="#a81e44"/>
<circle cx="76.83" cy="313.06" r="0.82" fill="#a81e44"/>
<circle cx="76.64" cy="327.66" r="0.82" fill="#a81e44"/>
<rect x="76.36" y="298.1" width="1.2" height="30.59" fill="#c2305a"/>
<circle cx="77.21" cy="320.04" r="0.7" fill="#a81e44"/>
<circle cx="76.66" cy="317.43" r="0.7" fill="#a81e44"/>
<rect x="78.96" y="279.74" width="1.2" height="48.94" fill="#2f5f88"/>
<circle cx="79.52" cy="281.5" r="0.7" fill="#1f4a6e"/>
<circle cx="79.68" cy="287.02" r="0.7" fill="#1f4a6e"/>
<circle cx="79.39" cy="327.17" r="0.7" fill="#1f4a6e"/>
<circle cx="79.89" cy="307.32" r="0.7" fill="#1f4a6e"/>
<circle cx="77.03" cy="263.84" r="0.82" fill="#a81e44"/>
<rect x="81.19" y="269.95" width="1.2" height="57.5" fill="#c2305a"/>
<circle cx="81.34" cy="296.53" r="0.7" fill="#a81e44"/>
<circle cx="81.17" cy="277.88" r="0.7" fill="#a81e44"/>
<circle cx="81.28" cy="280.32" r="0.7" fill="#a81e44"/>
<circle cx="81.32" cy="327.38" r="0.7" fill="#a81e44"/>
<circle cx="82.41" cy="283.63" r="0.7" fill="#a81e44"/>
<circle cx="81.73" cy="328.44" r="0.82" fill="#a81e44"/>
<circle cx="82.07" cy="301.62" r="0.82" fill="#a81e44"/>
<circle cx="81.73" cy="318.52" r="0.82" fill="#a81e44"/>
<circle cx="82.11" cy="309.57" r="0.82" fill="#a81e44"/>
<circle cx="82.23" cy="314.34" r="0.82" fill="#a81e44"/>
<circle cx="81.43" cy="313.06" r="0.82" fill="#a81e44"/>
<circle cx="81.74" cy="290.17" r="0.82" fill="#a81e44"/>
<circle cx="81.89" cy="322.63" r="0.82" fill="#a81e44"/>
<circle cx="82.06" cy="324.23" r="0.82" fill="#a81e44"/>
<circle cx="82.06" cy="290.3" r="0.82" fill="#a81e44"/>
<circle cx="81.58" cy="294.11" r="0.82" fill="#a81e44"/>
<circle cx="81.62" cy="306.59" r="0.82" fill="#a81e44"/>
<circle cx="81.28" cy="279.66" r="0.82" fill="#a81e44"/>
<circle cx="81.22" cy="279.77" r="0.82" fill="#a81e44"/>
<circle cx="81.6" cy="263.84" r="0.82" fill="#a81e44"/>
<rect x="86.07" y="277.83" width="1.0" height="53.3" fill="#a81e44" fill-opacity="0.85"/>
<circle cx="86.57" cy="281.51" r="0.82" fill="#a81e44"/>
<circle cx="86.99" cy="310.25" r="0.82" fill="#a81e44"/>
<circle cx="86.53" cy="318.27" r="0.82" fill="#a81e44"/>
<circle cx="86.85" cy="301.86" r="0.82" fill="#a81e44"/>
<circle cx="86.73" cy="289.67" r="0.82" fill="#a81e44"/>
<circle cx="86.38" cy="311.94" r="0.82" fill="#a81e44"/>
<circle cx="86.95" cy="322.58" r="0.82" fill="#a81e44"/>
<circle cx="86.84" cy="294.68" r="0.82" fill="#a81e44"/>
<circle cx="86.5" cy="321.79" r="0.82" fill="#a81e44"/>
<circle cx="86.66" cy="288.55" r="0.82" fill="#a81e44"/>
<circle cx="86.53" cy="324.19" r="0.82" fill="#a81e44"/>
<circle cx="86.28" cy="282.4" r="0.82" fill="#a81e44"/>
<circle cx="86.35" cy="320.58" r="0.82" fill="#a81e44"/>
<circle cx="86.95" cy="292.41" r="0.82" fill="#a81e44"/>
<circle cx="86.19" cy="322.62" r="0.82" fill="#a81e44"/>
<circle cx="86.38" cy="317.5" r="0.82" fill="#a81e44"/>
<circle cx="86.2" cy="302.38" r="0.82" fill="#a81e44"/>
<circle cx="86.23" cy="313.07" r="0.82" fill="#a81e44"/>
<circle cx="86.82" cy="277.44" r="0.82" fill="#a81e44"/>
<circle cx="87.08" cy="325.52" r="0.82" fill="#a81e44"/>
<circle cx="86.44" cy="325.53" r="0.82" fill="#a81e44"/>
<circle cx="86.89" cy="276.96" r="0.82" fill="#a81e44"/>
<circle cx="86.5" cy="290.76" r="0.82" fill="#a81e44"/>
<circle cx="86.72" cy="320.33" r="0.82" fill="#a81e44"/>
<circle cx="86.25" cy="325.25" r="0.82" fill="#a81e44"/>
<circle cx="86.06" cy="309.75" r="0.82" fill="#a81e44"/>
<circle cx="86.89" cy="309.16" r="0.82" fill="#a81e44"/>
<circle cx="86.57" cy="292.95" r="0.82" fill="#a81e44"/>
<circle cx="86.53" cy="296.31" r="0.82" fill="#a81e44"/>
<circle cx="86.68" cy="323.32" r="0.82" fill="#a81e44"/>
<circle cx="86.84" cy="308.85" r="0.82" fill="#a81e44"/>
<circle cx="86.49" cy="281.14" r="0.82" fill="#a81e44"/>
<circle cx="86.84" cy="299.53" r="0.82" fill="#a81e44"/>
<circle cx="86.27" cy="307.94" r="0.82" fill="#a81e44"/>
<circle cx="86.99" cy="291.37" r="0.82" fill="#a81e44"/>
<circle cx="86.79" cy="288.51" r="0.82" fill="#a81e44"/>
<circle cx="86.77" cy="284.2" r="0.82" fill="#a81e44"/>
<circle cx="86.52" cy="295.81" r="0.82" fill="#a81e44"/>
<circle cx="86.71" cy="313.9" r="0.82" fill="#a81e44"/>
<circle cx="86.48" cy="325.74" r="0.82" fill="#a81e44"/>
<circle cx="86.8" cy="288.05" r="0.82" fill="#a81e44"/>
<circle cx="86.3" cy="296.46" r="0.82" fill="#a81e44"/>
<circle cx="86.52" cy="307.81" r="0.82" fill="#a81e44"/>
<circle cx="86.47" cy="296.91" r="0.82" fill="#a81e44"/>
<circle cx="87.04" cy="293.95" r="0.82" fill="#a81e44"/>
<circle cx="86.74" cy="321.05" r="0.82" fill="#a81e44"/>
<circle cx="86.45" cy="288.28" r="0.82" fill="#a81e44"/>
<circle cx="87.09" cy="304.16" r="0.82" fill="#a81e44"/>
<circle cx="86.62" cy="329.03" r="0.82" fill="#a81e44"/>
<circle cx="86.88" cy="322.27" r="0.82" fill="#a81e44"/>
<circle cx="86.59" cy="279.34" r="0.82" fill="#a81e44"/>
<circle cx="86.65" cy="325.56" r="0.82" fill="#a81e44"/>
<circle cx="86.81" cy="301.34" r="0.82" fill="#a81e44"/>
<circle cx="86.72" cy="302.93" r="0.82" fill="#a81e44"/>
<circle cx="86.59" cy="285.49" r="0.82" fill="#a81e44"/>
<circle cx="87.06" cy="308.54" r="0.82" fill="#a81e44"/>
<circle cx="86.77" cy="319.56" r="0.82" fill="#a81e44"/>
<circle cx="86.86" cy="309.52" r="0.82" fill="#a81e44"/>
<circle cx="87.1" cy="324.39" r="0.82" fill="#a81e44"/>
<circle cx="86.08" cy="311.56" r="0.82" fill="#a81e44"/>
<circle cx="86.46" cy="316.02" r="0.82" fill="#a81e44"/>
<circle cx="86.48" cy="330.4" r="0.82" fill="#a81e44"/>
<circle cx="86.79" cy="307.98" r="0.82" fill="#a81e44"/>
<circle cx="86.31" cy="311.74" r="0.82" fill="#a81e44"/>
<circle cx="86.84" cy="318.77" r="0.82" fill="#a81e44"/>
<circle cx="86.6" cy="279.38" r="0.82" fill="#a81e44"/>
<circle cx="86.9" cy="319.08" r="0.82" fill="#a81e44"/>
<circle cx="86.25" cy="309.55" r="0.82" fill="#a81e44"/>
<circle cx="86.87" cy="324.01" r="0.82" fill="#a81e44"/>
<circle cx="86.72" cy="286.56" r="0.82" fill="#a81e44"/>
<circle cx="86.64" cy="305.3" r="0.82" fill="#a81e44"/>
<circle cx="87.08" cy="318.69" r="0.82" fill="#a81e44"/>
<circle cx="86.72" cy="311.69" r="0.82" fill="#a81e44"/>
<circle cx="86.92" cy="286.05" r="0.82" fill="#a81e44"/>
<circle cx="86.34" cy="305.36" r="0.82" fill="#a81e44"/>
<circle cx="86.16" cy="300.94" r="0.82" fill="#a81e44"/>
<circle cx="86.41" cy="285.23" r="0.82" fill="#a81e44"/>
<circle cx="86.31" cy="284.29" r="0.82" fill="#a81e44"/>
<circle cx="86.3" cy="310.42" r="0.82" fill="#a81e44"/>
<circle cx="86.22" cy="307.67" r="0.82" fill="#a81e44"/>
<circle cx="86.81" cy="330.98" r="0.82" fill="#a81e44"/>
<circle cx="86.29" cy="315.65" r="0.82" fill="#a81e44"/>
<circle cx="86.55" cy="314.51" r="0.82" fill="#a81e44"/>
<circle cx="86.72" cy="307.54" r="0.82" fill="#a81e44"/>
<rect x="88.67" y="281.39" width="1.0" height="49.74" fill="#1f4a6e" fill-opacity="0.85"/>
<circle cx="89.02" cy="297.25" r="0.82" fill="#1f4a6e"/>
<circle cx="89.56" cy="283.41" r="0.82" fill="#1f4a6e"/>
<circle cx="89.53" cy="328.2" r="0.82" fill="#1f4a6e"/>
<circle cx="89.48" cy="284.58" r="0.82" fill="#1f4a6e"/>
<circle cx="89.53" cy="323.91" r="0.82" fill="#1f4a6e"/>
<circle cx="88.64" cy="298.59" r="0.82" fill="#1f4a6e"/>
<circle cx="89.67" cy="330.54" r="0.82" fill="#1f4a6e"/>
<circle cx="88.9" cy="297.42" r="0.82" fill="#1f4a6e"/>
<circle cx="88.78" cy="325.91" r="0.82" fill="#1f4a6e"/>
<circle cx="89.47" cy="319.12" r="0.82" fill="#1f4a6e"/>
<circle cx="88.79" cy="313.33" r="0.82" fill="#1f4a6e"/>
<circle cx="89.49" cy="284.67" r="0.82" fill="#1f4a6e"/>
<circle cx="89.6" cy="322.5" r="0.82" fill="#1f4a6e"/>
<circle cx="89.48" cy="299.87" r="0.82" fill="#1f4a6e"/>
<circle cx="89.6" cy="296.78" r="0.82" fill="#1f4a6e"/>
<circle cx="89.54" cy="290.63" r="0.82" fill="#1f4a6e"/>
<circle cx="89.38" cy="320.99" r="0.82" fill="#1f4a6e"/>
<circle cx="89.44" cy="303.85" r="0.82" fill="#1f4a6e"/>
<circle cx="89.59" cy="308.59" r="0.82" fill="#1f4a6e"/>
<circle cx="88.91" cy="302.61" r="0.82" fill="#1f4a6e"/>
<circle cx="88.77" cy="319.1" r="0.82" fill="#1f4a6e"/>
<circle cx="88.68" cy="305.79" r="0.82" fill="#1f4a6e"/>
<circle cx="88.78" cy="307.13" r="0.82" fill="#1f4a6e"/>
<circle cx="89.17" cy="305.88" r="0.82" fill="#1f4a6e"/>
<circle cx="89.57" cy="303.4" r="0.82" fill="#1f4a6e"/>
<circle cx="89.54" cy="330.79" r="0.82" fill="#1f4a6e"/>
<circle cx="89.24" cy="307.08" r="0.82" fill="#1f4a6e"/>
<circle cx="89.54" cy="296.94" r="0.82" fill="#1f4a6e"/>
<circle cx="89.08" cy="311.86" r="0.82" fill="#1f4a6e"/>
<circle cx="88.7" cy="281.77" r="0.82" fill="#1f4a6e"/>
<circle cx="89.32" cy="298.39" r="0.82" fill="#1f4a6e"/>
<circle cx="89.29" cy="329.66" r="0.82" fill="#1f4a6e"/>
<circle cx="89.64" cy="296.05" r="0.82" fill="#1f4a6e"/>
<circle cx="89.7" cy="314.15" r="0.82" fill="#1f4a6e"/>
<circle cx="89.15" cy="304.89" r="0.82" fill="#1f4a6e"/>
<circle cx="88.66" cy="285.01" r="0.82" fill="#1f4a6e"/>
<circle cx="89.31" cy="294.22" r="0.82" fill="#1f4a6e"/>
<circle cx="89.57" cy="313.73" r="0.82" fill="#1f4a6e"/>
<circle cx="89.14" cy="312.31" r="0.82" fill="#1f4a6e"/>
<circle cx="89.47" cy="304.12" r="0.82" fill="#1f4a6e"/>
<rect x="93.5" y="275.46" width="1.0" height="53.22" fill="#1f4a6e" fill-opacity="0.85"/>
<circle cx="93.93" cy="317.08" r="0.82" fill="#1f4a6e"/>
<circle cx="94.06" cy="305.43" r="0.82" fill="#1f4a6e"/>
<circle cx="93.77" cy="283.17" r="0.82" fill="#1f4a6e"/>
<circle cx="93.89" cy="283.11" r="0.82" fill="#1f4a6e"/>
<circle cx="93.75" cy="300.95" r="0.82" fill="#1f4a6e"/>
<circle cx="94.52" cy="300.8" r="0.82" fill="#1f4a6e"/>
<circle cx="94.32" cy="292.64" r="0.82" fill="#1f4a6e"/>
<circle cx="93.8" cy="310.46" r="0.82" fill="#1f4a6e"/>
<circle cx="94.1" cy="312.21" r="0.82" fill="#1f4a6e"/>
<circle cx="94.31" cy="293.73" r="0.82" fill="#1f4a6e"/>
<circle cx="94.24" cy="326.48" r="0.82" fill="#1f4a6e"/>
<circle cx="94.05" cy="279.92" r="0.82" fill="#1f4a6e"/>
<circle cx="93.78" cy="325.95" r="0.82" fill="#1f4a6e"/>
<circle cx="93.66" cy="328.34" r="0.82" fill="#1f4a6e"/>
<circle cx="94.12" cy="277.95" r="0.82" fill="#1f4a6e"/>
<circle cx="94.32" cy="292.45" r="0.82" fill="#1f4a6e"/>
<circle cx="94.12" cy="278.59" r="0.82" fill="#1f4a6e"/>
<circle cx="94.14" cy="294.73" r="0.82" fill="#1f4a6e"/>
<circle cx="94.11" cy="290.34" r="0.82" fill="#1f4a6e"/>
<circle cx="93.68" cy="291.19" r="0.82" fill="#1f4a6e"/>
<circle cx="93.95" cy="291.96" r="0.82" fill="#1f4a6e"/>
<circle cx="93.56" cy="286.69" r="0.82" fill="#1f4a6e"/>
<circle cx="93.49" cy="318.7" r="0.82" fill="#1f4a6e"/>
<circle cx="94.46" cy="286.04" r="0.82" fill="#1f4a6e"/>
<circle cx="93.86" cy="292.58" r="0.82" fill="#1f4a6e"/>
<circle cx="94.32" cy="283.39" r="0.82" fill="#1f4a6e"/>
<circle cx="93.73" cy="297.73" r="0.82" fill="#1f4a6e"/>
<circle cx="93.91" cy="312.05" r="0.82" fill="#1f4a6e"/>
<circle cx="93.92" cy="311.15" r="0.82" fill="#1f4a6e"/>
<circle cx="94.48" cy="293.35" r="0.82" fill="#1f4a6e"/>
<circle cx="94.07" cy="325.68" r="0.82" fill="#1f4a6e"/>
<circle cx="93.58" cy="326.51" r="0.82" fill="#1f4a6e"/>
<circle cx="94.08" cy="284.07" r="0.82" fill="#1f4a6e"/>
<circle cx="93.94" cy="278.11" r="0.82" fill="#1f4a6e"/>
<circle cx="93.88" cy="327.9" r="0.82" fill="#1f4a6e"/>
<circle cx="94.48" cy="296.09" r="0.82" fill="#1f4a6e"/>
<circle cx="93.97" cy="274.68" r="0.82" fill="#1f4a6e"/>
<circle cx="93.56" cy="305.98" r="0.82" fill="#1f4a6e"/>
<circle cx="93.68" cy="293.2" r="0.82" fill="#1f4a6e"/>
<circle cx="93.47" cy="320.33" r="0.82" fill="#1f4a6e"/>
<circle cx="94.2" cy="328.42" r="0.82" fill="#1f4a6e"/>
<circle cx="94.51" cy="321.98" r="0.82" fill="#1f4a6e"/>
<circle cx="94.41" cy="323.83" r="0.82" fill="#1f4a6e"/>
<circle cx="93.47" cy="321.58" r="0.82" fill="#1f4a6e"/>
<circle cx="93.72" cy="289.08" r="0.82" fill="#1f4a6e"/>
<circle cx="93.66" cy="288.29" r="0.82" fill="#1f4a6e"/>
<circle cx="94.3" cy="325.92" r="0.82" fill="#1f4a6e"/>
<circle cx="94.39" cy="289.4" r="0.82" fill="#1f4a6e"/>
<rect x="90.9" y="275.46" width="1.0" height="53.22" fill="#a81e44" fill-opacity="0.85"/>
<circle cx="90.94" cy="288.51" r="0.82" fill="#a81e44"/>
<circle cx="91.63" cy="294.07" r="0.82" fill="#a81e44"/>
<circle cx="91.88" cy="303.32" r="0.82" fill="#a81e44"/>
<circle cx="91.91" cy="314.7" r="0.82" fill="#a81e44"/>
<circle cx="90.86" cy="289.19" r="0.82" fill="#a81e44"/>
<circle cx="91.57" cy="327.87" r="0.82" fill="#a81e44"/>
<circle cx="90.94" cy="283.68" r="0.82" fill="#a81e44"/>
<circle cx="91.65" cy="311.56" r="0.82" fill="#a81e44"/>
<circle cx="91.8" cy="319.54" r="0.82" fill="#a81e44"/>
<circle cx="90.92" cy="301.91" r="0.82" fill="#a81e44"/>
<circle cx="91.48" cy="308.45" r="0.82" fill="#a81e44"/>
<circle cx="91.59" cy="304.53" r="0.82" fill="#a81e44"/>
<circle cx="91.73" cy="320.7" r="0.82" fill="#a81e44"/>
<circle cx="91.56" cy="308.68" r="0.82" fill="#a81e44"/>
<circle cx="91.31" cy="294.01" r="0.82" fill="#a81e44"/>
<circle cx="91.71" cy="307.44" r="0.82" fill="#a81e44"/>
<circle cx="91.71" cy="276.66" r="0.82" fill="#a81e44"/>
<circle cx="91.17" cy="297.47" r="0.82" fill="#a81e44"/>
<circle cx="91.92" cy="325.34" r="0.82" fill="#a81e44"/>
<circle cx="91.76" cy="289.96" r="0.82" fill="#a81e44"/>
<circle cx="91.52" cy="310.4" r="0.82" fill="#a81e44"/>
<circle cx="91.76" cy="274.87" r="0.82" fill="#a81e44"/>
<circle cx="91.19" cy="295.59" r="0.82" fill="#a81e44"/>
<circle cx="91.83" cy="305.09" r="0.82" fill="#a81e44"/>
<circle cx="91.6" cy="307.94" r="0.82" fill="#a81e44"/>
<circle cx="91.84" cy="295.55" r="0.82" fill="#a81e44"/>
<circle cx="91.16" cy="284.22" r="0.82" fill="#a81e44"/>
<circle cx="91.14" cy="328.59" r="0.82" fill="#a81e44"/>
<circle cx="91.5" cy="305.42" r="0.82" fill="#a81e44"/>
<circle cx="91.83" cy="283.76" r="0.82" fill="#a81e44"/>
<circle cx="91.77" cy="326.35" r="0.82" fill="#a81e44"/>
<circle cx="91.8" cy="283.99" r="0.82" fill="#a81e44"/>
<circle cx="91.15" cy="297.19" r="0.82" fill="#a81e44"/>
<circle cx="91.74" cy="281.82" r="0.82" fill="#a81e44"/>
<circle cx="91.86" cy="290.99" r="0.82" fill="#a81e44"/>
<circle cx="90.94" cy="309.59" r="0.82" fill="#a81e44"/>
<circle cx="91.73" cy="298.2" r="0.82" fill="#a81e44"/>
<circle cx="91.68" cy="317.65" r="0.82" fill="#a81e44"/>
<circle cx="91.11" cy="277.38" r="0.82" fill="#a81e44"/>
<circle cx="91.6" cy="295.27" r="0.82" fill="#a81e44"/>
<circle cx="91.08" cy="303.06" r="0.82" fill="#a81e44"/>
<circle cx="91.68" cy="314.66" r="0.82" fill="#a81e44"/>
<circle cx="91.36" cy="285.1" r="0.82" fill="#a81e44"/>
<circle cx="91.74" cy="323.85" r="0.82" fill="#a81e44"/>
<circle cx="91.11" cy="286.17" r="0.82" fill="#a81e44"/>
<circle cx="91.84" cy="296.77" r="0.82" fill="#a81e44"/>
<circle cx="91.42" cy="279.95" r="0.82" fill="#a81e44"/>
<circle cx="91.5" cy="302.44" r="0.82" fill="#a81e44"/>
<circle cx="91.06" cy="318.27" r="0.82" fill="#a81e44"/>
<circle cx="91.62" cy="318.73" r="0.82" fill="#a81e44"/>
<circle cx="91.47" cy="308.71" r="0.82" fill="#a81e44"/>
<circle cx="91.42" cy="306.52" r="0.82" fill="#a81e44"/>
<circle cx="90.9" cy="320.48" r="0.82" fill="#a81e44"/>
<circle cx="91.32" cy="221.01" r="0.82" fill="#a81e44"/>
<circle cx="91.55" cy="269.47" r="0.82" fill="#a81e44"/>
<circle cx="91.02" cy="242.8" r="0.82" fill="#a81e44"/>
<circle cx="91.23" cy="250.24" r="0.82" fill="#a81e44"/>
<circle cx="90.87" cy="253.29" r="0.82" fill="#a81e44"/>
<circle cx="91.94" cy="272.31" r="0.82" fill="#a81e44"/>
<circle cx="91.38" cy="239.72" r="0.82" fill="#a81e44"/>
<circle cx="91.14" cy="251.42" r="0.82" fill="#a81e44"/>
<circle cx="91.32" cy="243.12" r="0.82" fill="#a81e44"/>
<circle cx="91.69" cy="236.57" r="0.82" fill="#a81e44"/>
<circle cx="94.51" cy="247.58" r="0.82" fill="#1f4a6e"/>
<circle cx="93.49" cy="265.55" r="0.82" fill="#1f4a6e"/>
<circle cx="93.65" cy="267.23" r="0.82" fill="#1f4a6e"/>
<circle cx="93.51" cy="270.96" r="0.82" fill="#1f4a6e"/>
<circle cx="94.41" cy="255.89" r="0.82" fill="#1f4a6e"/>
<circle cx="94.49" cy="259.05" r="0.82" fill="#1f4a6e"/>
<circle cx="93.52" cy="244.68" r="0.82" fill="#1f4a6e"/>
<rect x="95.73" y="276.65" width="1.0" height="53.26" fill="#a81e44" fill-opacity="0.85"/>
<circle cx="96.12" cy="296.98" r="0.82" fill="#a81e44"/>
<circle cx="96.74" cy="323.3" r="0.82" fill="#a81e44"/>
<circle cx="96.3" cy="315.75" r="0.82" fill="#a81e44"/>
<circle cx="96.73" cy="294.63" r="0.82" fill="#a81e44"/>
<circle cx="96.11" cy="293.03" r="0.82" fill="#a81e44"/>
<circle cx="95.86" cy="305.22" r="0.82" fill="#a81e44"/>
<circle cx="96.77" cy="276.73" r="0.82" fill="#a81e44"/>
<circle cx="95.72" cy="317.7" r="0.82" fill="#a81e44"/>
<circle cx="96.07" cy="315.82" r="0.82" fill="#a81e44"/>
<circle cx="96.68" cy="280.2" r="0.82" fill="#a81e44"/>
<circle cx="95.73" cy="283.81" r="0.82" fill="#a81e44"/>
<circle cx="96.46" cy="286.61" r="0.82" fill="#a81e44"/>
<circle cx="96.76" cy="294.3" r="0.82" fill="#a81e44"/>
<circle cx="95.84" cy="326.84" r="0.82" fill="#a81e44"/>
<circle cx="96.71" cy="288.34" r="0.82" fill="#a81e44"/>
<circle cx="96.01" cy="292.64" r="0.82" fill="#a81e44"/>
<circle cx="96.51" cy="297.34" r="0.82" fill="#a81e44"/>
<circle cx="96.04" cy="324.1" r="0.82" fill="#a81e44"/>
<circle cx="95.82" cy="315.76" r="0.82" fill="#a81e44"/>
<circle cx="95.87" cy="303.41" r="0.82" fill="#a81e44"/>
<circle cx="95.84" cy="316.78" r="0.82" fill="#a81e44"/>
<circle cx="95.69" cy="292.6" r="0.82" fill="#a81e44"/>
<circle cx="95.89" cy="290.42" r="0.82" fill="#a81e44"/>
<circle cx="96.7" cy="327.92" r="0.82" fill="#a81e44"/>
<circle cx="96.71" cy="317.76" r="0.82" fill="#a81e44"/>
<circle cx="96.66" cy="282.18" r="0.82" fill="#a81e44"/>
<circle cx="96.17" cy="322.21" r="0.82" fill="#a81e44"/>
<circle cx="96.7" cy="324.57" r="0.82" fill="#a81e44"/>
<circle cx="96.37" cy="283.53" r="0.82" fill="#a81e44"/>
<circle cx="96.05" cy="305" r="0.82" fill="#a81e44"/>
<circle cx="96.21" cy="284.59" r="0.82" fill="#a81e44"/>
<circle cx="95.84" cy="295.32" r="0.82" fill="#a81e44"/>
<circle cx="95.74" cy="317.7" r="0.82" fill="#a81e44"/>
<circle cx="96.29" cy="290.61" r="0.82" fill="#a81e44"/>
<circle cx="96.64" cy="321.94" r="0.82" fill="#a81e44"/>
<circle cx="96.13" cy="315.24" r="0.82" fill="#a81e44"/>
<circle cx="95.98" cy="321.33" r="0.82" fill="#a81e44"/>
<circle cx="96.05" cy="283.68" r="0.82" fill="#a81e44"/>
<circle cx="96.22" cy="320.67" r="0.82" fill="#a81e44"/>
<circle cx="96.67" cy="312.39" r="0.82" fill="#a81e44"/>
<circle cx="96.76" cy="323.62" r="0.82" fill="#a81e44"/>
<circle cx="96.66" cy="326.78" r="0.82" fill="#a81e44"/>
<circle cx="95.91" cy="293.11" r="0.82" fill="#a81e44"/>
<circle cx="95.99" cy="303.62" r="0.82" fill="#a81e44"/>
<circle cx="95.9" cy="315.71" r="0.82" fill="#a81e44"/>
<circle cx="96.77" cy="309.85" r="0.82" fill="#a81e44"/>
<circle cx="96.7" cy="274.95" r="0.82" fill="#a81e44"/>
<circle cx="96" cy="324.53" r="0.82" fill="#a81e44"/>
<circle cx="95.74" cy="280.56" r="0.82" fill="#a81e44"/>
<circle cx="96" cy="289.91" r="0.82" fill="#a81e44"/>
<circle cx="95.7" cy="276.03" r="0.82" fill="#a81e44"/>
<circle cx="96.05" cy="285.47" r="0.82" fill="#a81e44"/>
<circle cx="95.68" cy="322.19" r="0.82" fill="#a81e44"/>
<circle cx="96.26" cy="284.08" r="0.82" fill="#a81e44"/>
<circle cx="96.16" cy="319.68" r="0.82" fill="#a81e44"/>
<circle cx="95.92" cy="279.69" r="0.82" fill="#a81e44"/>
<circle cx="95.83" cy="298.45" r="0.82" fill="#a81e44"/>
<circle cx="96.53" cy="319.99" r="0.82" fill="#a81e44"/>
<circle cx="95.9" cy="290.73" r="0.82" fill="#a81e44"/>
<circle cx="95.78" cy="325.54" r="0.82" fill="#a81e44"/>
<circle cx="96.23" cy="296.4" r="0.82" fill="#a81e44"/>
<circle cx="95.91" cy="314.83" r="0.82" fill="#a81e44"/>
<circle cx="96.46" cy="296.19" r="0.82" fill="#a81e44"/>
<circle cx="96.32" cy="285.22" r="0.82" fill="#a81e44"/>
<circle cx="95.75" cy="318.77" r="0.82" fill="#a81e44"/>
<circle cx="96.13" cy="289.56" r="0.82" fill="#a81e44"/>
<circle cx="95.74" cy="290.17" r="0.82" fill="#a81e44"/>
<circle cx="96.05" cy="285.27" r="0.82" fill="#a81e44"/>
<circle cx="96.63" cy="283.55" r="0.82" fill="#a81e44"/>
<circle cx="95.7" cy="302.76" r="0.82" fill="#a81e44"/>
<circle cx="96.2" cy="279.79" r="0.82" fill="#a81e44"/>
<circle cx="98.57" cy="282.96" r="0.82" fill="#1f4a6e"/>
<circle cx="99.19" cy="319.89" r="0.82" fill="#1f4a6e"/>
<circle cx="98.46" cy="310.14" r="0.82" fill="#1f4a6e"/>
<circle cx="98.93" cy="309.92" r="0.82" fill="#1f4a6e"/>
<circle cx="98.85" cy="329.66" r="0.82" fill="#1f4a6e"/>
<circle cx="98.85" cy="305.91" r="0.82" fill="#1f4a6e"/>
<circle cx="99.07" cy="323.4" r="0.82" fill="#1f4a6e"/>
<circle cx="99.23" cy="285.95" r="0.82" fill="#1f4a6e"/>
<circle cx="99.06" cy="312.63" r="0.82" fill="#1f4a6e"/>
<circle cx="99.11" cy="309.37" r="0.82" fill="#1f4a6e"/>
<circle cx="99.24" cy="326.61" r="0.82" fill="#1f4a6e"/>
<circle cx="98.82" cy="278.55" r="0.82" fill="#1f4a6e"/>
<circle cx="98.86" cy="302.27" r="0.82" fill="#1f4a6e"/>
<circle cx="98.3" cy="300.98" r="0.82" fill="#1f4a6e"/>
<circle cx="98.53" cy="277.83" r="0.82" fill="#1f4a6e"/>
<circle cx="98.39" cy="320.09" r="0.82" fill="#1f4a6e"/>
<circle cx="99.18" cy="316.42" r="0.82" fill="#1f4a6e"/>
<circle cx="98.39" cy="328.29" r="0.82" fill="#1f4a6e"/>
<circle cx="98.49" cy="292.28" r="0.82" fill="#1f4a6e"/>
<circle cx="98.94" cy="328.95" r="0.82" fill="#1f4a6e"/>
<circle cx="98.86" cy="298.87" r="0.82" fill="#1f4a6e"/>
<circle cx="98.39" cy="292.08" r="0.82" fill="#1f4a6e"/>
<circle cx="99.07" cy="283.1" r="0.82" fill="#1f4a6e"/>
<circle cx="98.42" cy="327.47" r="0.82" fill="#1f4a6e"/>
<circle cx="98.83" cy="303.33" r="0.82" fill="#1f4a6e"/>
<circle cx="98.41" cy="314.85" r="0.82" fill="#1f4a6e"/>
<circle cx="98.43" cy="308.07" r="0.82" fill="#1f4a6e"/>
<circle cx="99.23" cy="298.05" r="0.82" fill="#1f4a6e"/>
<circle cx="98.91" cy="321.98" r="0.82" fill="#1f4a6e"/>
<circle cx="98.46" cy="289.71" r="0.82" fill="#1f4a6e"/>
<circle cx="99.31" cy="285.44" r="0.82" fill="#1f4a6e"/>
<circle cx="98.74" cy="308.98" r="0.82" fill="#1f4a6e"/>
<circle cx="98.86" cy="284.7" r="0.82" fill="#1f4a6e"/>
<circle cx="99.32" cy="308.61" r="0.82" fill="#1f4a6e"/>
<circle cx="98.65" cy="288.08" r="0.82" fill="#1f4a6e"/>
<circle cx="98.65" cy="316.97" r="0.82" fill="#1f4a6e"/>
<circle cx="99.36" cy="306.46" r="0.82" fill="#1f4a6e"/>
<circle cx="99.28" cy="286.6" r="0.82" fill="#1f4a6e"/>
<circle cx="99.21" cy="286.03" r="0.82" fill="#1f4a6e"/>
<rect x="100.56" y="271.9" width="1.0" height="58.01" fill="#a81e44" fill-opacity="0.85"/>
<circle cx="101.08" cy="326.7" r="0.82" fill="#a81e44"/>
<circle cx="101.54" cy="272.48" r="0.82" fill="#a81e44"/>
<circle cx="100.97" cy="314.96" r="0.82" fill="#a81e44"/>
<circle cx="100.91" cy="291.98" r="0.82" fill="#a81e44"/>
<circle cx="100.59" cy="298.08" r="0.82" fill="#a81e44"/>
<circle cx="101.07" cy="303.94" r="0.82" fill="#a81e44"/>
<circle cx="100.66" cy="328.66" r="0.82" fill="#a81e44"/>
<circle cx="101.36" cy="271.77" r="0.82" fill="#a81e44"/>
<circle cx="101.21" cy="273.74" r="0.82" fill="#a81e44"/>
<circle cx="101.48" cy="281.39" r="0.82" fill="#a81e44"/>
<circle cx="100.55" cy="276.87" r="0.82" fill="#a81e44"/>
<circle cx="100.8" cy="291.44" r="0.82" fill="#a81e44"/>
<circle cx="100.81" cy="289.23" r="0.82" fill="#a81e44"/>
<circle cx="101.53" cy="297.4" r="0.82" fill="#a81e44"/>
<circle cx="100.79" cy="292.66" r="0.82" fill="#a81e44"/>
<circle cx="100.99" cy="298.71" r="0.82" fill="#a81e44"/>
<circle cx="100.83" cy="272.9" r="0.82" fill="#a81e44"/>
<circle cx="101.22" cy="311.6" r="0.82" fill="#a81e44"/>
<circle cx="101.16" cy="322.69" r="0.82" fill="#a81e44"/>
<circle cx="101.08" cy="272.59" r="0.82" fill="#a81e44"/>
<circle cx="101.02" cy="313.81" r="0.82" fill="#a81e44"/>
<circle cx="100.67" cy="297.9" r="0.82" fill="#a81e44"/>
<circle cx="100.65" cy="322.48" r="0.82" fill="#a81e44"/>
<circle cx="100.96" cy="312.3" r="0.82" fill="#a81e44"/>
<circle cx="100.78" cy="312.62" r="0.82" fill="#a81e44"/>
<circle cx="101.11" cy="324.64" r="0.82" fill="#a81e44"/>
<circle cx="101.18" cy="279.56" r="0.82" fill="#a81e44"/>
<circle cx="101.23" cy="295.72" r="0.82" fill="#a81e44"/>
<circle cx="101.29" cy="317.84" r="0.82" fill="#a81e44"/>
<circle cx="101.11" cy="302.28" r="0.82" fill="#a81e44"/>
<circle cx="101.03" cy="293.17" r="0.82" fill="#a81e44"/>
<circle cx="100.78" cy="311.29" r="0.82" fill="#a81e44"/>
<circle cx="101.07" cy="316.62" r="0.82" fill="#a81e44"/>
<circle cx="101.15" cy="306.93" r="0.82" fill="#a81e44"/>
<circle cx="100.9" cy="329.19" r="0.82" fill="#a81e44"/>
<circle cx="100.77" cy="278.24" r="0.82" fill="#a81e44"/>
<circle cx="101.05" cy="296.53" r="0.82" fill="#a81e44"/>
<circle cx="101.6" cy="312.83" r="0.82" fill="#a81e44"/>
<circle cx="101.36" cy="312.19" r="0.82" fill="#a81e44"/>
<circle cx="100.58" cy="320.4" r="0.82" fill="#a81e44"/>
<circle cx="100.99" cy="277.67" r="0.82" fill="#a81e44"/>
<circle cx="100.94" cy="326.19" r="0.82" fill="#a81e44"/>
<circle cx="101.32" cy="303.53" r="0.82" fill="#a81e44"/>
<circle cx="100.76" cy="323.36" r="0.82" fill="#a81e44"/>
<circle cx="101.32" cy="272.39" r="0.82" fill="#a81e44"/>
<circle cx="100.88" cy="320.64" r="0.82" fill="#a81e44"/>
<circle cx="101.25" cy="308.78" r="0.82" fill="#a81e44"/>
<circle cx="101.44" cy="292.96" r="0.82" fill="#a81e44"/>
<circle cx="101.08" cy="280.67" r="0.82" fill="#a81e44"/>
<circle cx="101.33" cy="285.62" r="0.82" fill="#a81e44"/>
<circle cx="101.03" cy="284.36" r="0.82" fill="#a81e44"/>
<circle cx="101.29" cy="282.85" r="0.82" fill="#a81e44"/>
<circle cx="100.65" cy="275.07" r="0.82" fill="#a81e44"/>
<circle cx="100.51" cy="277.7" r="0.82" fill="#a81e44"/>
<circle cx="101.15" cy="284" r="0.82" fill="#a81e44"/>
<circle cx="101.57" cy="300.06" r="0.82" fill="#a81e44"/>
<circle cx="100.97" cy="295.62" r="0.82" fill="#a81e44"/>
<circle cx="101.47" cy="282.92" r="0.82" fill="#a81e44"/>
<circle cx="100.93" cy="293.5" r="0.82" fill="#a81e44"/>
<circle cx="101.01" cy="302.79" r="0.82" fill="#a81e44"/>
<circle cx="100.83" cy="286.56" r="0.82" fill="#a81e44"/>
<circle cx="101.12" cy="306.48" r="0.82" fill="#a81e44"/>
<circle cx="100.86" cy="306.85" r="0.82" fill="#a81e44"/>
<circle cx="101.44" cy="282.72" r="0.82" fill="#a81e44"/>
<circle cx="101" cy="299.96" r="0.82" fill="#a81e44"/>
<circle cx="100.84" cy="318.86" r="0.82" fill="#a81e44"/>
<circle cx="101.14" cy="321.21" r="0.82" fill="#a81e44"/>
<circle cx="100.61" cy="295.04" r="0.82" fill="#a81e44"/>
<circle cx="100.87" cy="274.74" r="0.82" fill="#a81e44"/>
<circle cx="101.43" cy="279.34" r="0.82" fill="#a81e44"/>
<circle cx="100.73" cy="272.43" r="0.82" fill="#a81e44"/>
<circle cx="101.51" cy="304.34" r="0.82" fill="#a81e44"/>
<circle cx="100.56" cy="329.26" r="0.82" fill="#a81e44"/>
<circle cx="101.06" cy="296.04" r="0.82" fill="#a81e44"/>
<circle cx="101.36" cy="274.73" r="0.82" fill="#a81e44"/>
<circle cx="101.61" cy="297.62" r="0.82" fill="#a81e44"/>
<circle cx="101.08" cy="298.88" r="0.82" fill="#a81e44"/>
<circle cx="100.94" cy="288.83" r="0.82" fill="#a81e44"/>
<circle cx="101.16" cy="308.46" r="0.82" fill="#a81e44"/>
<circle cx="101.55" cy="308.86" r="0.82" fill="#a81e44"/>
<circle cx="101.09" cy="289.35" r="0.82" fill="#a81e44"/>
<circle cx="100.92" cy="323.97" r="0.82" fill="#a81e44"/>
<circle cx="101.13" cy="305.87" r="0.82" fill="#a81e44"/>
<circle cx="101.48" cy="295.49" r="0.82" fill="#a81e44"/>
<circle cx="101.05" cy="272.08" r="0.82" fill="#a81e44"/>
<circle cx="101.2" cy="303.52" r="0.82" fill="#a81e44"/>
<circle cx="100.89" cy="270.19" r="0.82" fill="#a81e44"/>
<circle cx="101.41" cy="298.12" r="0.82" fill="#a81e44"/>
<circle cx="100.86" cy="319.67" r="0.82" fill="#a81e44"/>
<circle cx="104.02" cy="274.81" r="0.82" fill="#1f4a6e"/>
<circle cx="103.23" cy="300.46" r="0.82" fill="#1f4a6e"/>
<circle cx="103.87" cy="279.43" r="0.82" fill="#1f4a6e"/>
<circle cx="104.2" cy="283.5" r="0.82" fill="#1f4a6e"/>
<circle cx="103.57" cy="279.78" r="0.82" fill="#1f4a6e"/>
<circle cx="103.43" cy="320.07" r="0.82" fill="#1f4a6e"/>
<circle cx="103.67" cy="300.51" r="0.82" fill="#1f4a6e"/>
<circle cx="103.31" cy="318.33" r="0.82" fill="#1f4a6e"/>
<circle cx="103.77" cy="293.99" r="0.82" fill="#1f4a6e"/>
<circle cx="104.2" cy="309.24" r="0.82" fill="#1f4a6e"/>
<circle cx="103.16" cy="293.64" r="0.82" fill="#1f4a6e"/>
<circle cx="103.98" cy="306.03" r="0.82" fill="#1f4a6e"/>
<circle cx="103.87" cy="311.79" r="0.82" fill="#1f4a6e"/>
<circle cx="103.44" cy="328.47" r="0.82" fill="#1f4a6e"/>
<circle cx="103.75" cy="282.32" r="0.82" fill="#1f4a6e"/>
<circle cx="103.33" cy="291.9" r="0.82" fill="#1f4a6e"/>
<circle cx="103.72" cy="301.27" r="0.82" fill="#1f4a6e"/>
<circle cx="103.82" cy="314.04" r="0.82" fill="#1f4a6e"/>
<circle cx="104.21" cy="299.42" r="0.82" fill="#1f4a6e"/>
<circle cx="103.56" cy="297.05" r="0.82" fill="#1f4a6e"/>
<circle cx="103.28" cy="321.99" r="0.82" fill="#1f4a6e"/>
<circle cx="103.23" cy="286.87" r="0.82" fill="#1f4a6e"/>
<circle cx="103.3" cy="323.17" r="0.82" fill="#1f4a6e"/>
<circle cx="104.02" cy="299.92" r="0.82" fill="#1f4a6e"/>
<circle cx="104" cy="294.93" r="0.82" fill="#1f4a6e"/>
<circle cx="103.12" cy="325.26" r="0.82" fill="#1f4a6e"/>
<circle cx="103.47" cy="286.26" r="0.82" fill="#1f4a6e"/>
<circle cx="103.5" cy="289.29" r="0.82" fill="#1f4a6e"/>
<rect x="105.34" y="227.13" width="1.2" height="102.77" fill="#c2305a"/>
<circle cx="105.56" cy="312.49" r="0.7" fill="#a81e44"/>
<circle cx="106.46" cy="319.68" r="0.7" fill="#a81e44"/>
<circle cx="105.68" cy="270.06" r="0.7" fill="#a81e44"/>
<circle cx="105.73" cy="283.67" r="0.7" fill="#a81e44"/>
<circle cx="106.44" cy="324.29" r="0.7" fill="#a81e44"/>
<circle cx="106.53" cy="270.02" r="0.7" fill="#a81e44"/>
<circle cx="106.06" cy="284.72" r="0.7" fill="#a81e44"/>
<circle cx="105.25" cy="304.28" r="0.7" fill="#a81e44"/>
<circle cx="106.39" cy="234.24" r="0.7" fill="#a81e44"/>
<circle cx="106.33" cy="258.99" r="0.82" fill="#a81e44"/>
<circle cx="105.67" cy="235.69" r="0.82" fill="#a81e44"/>
<circle cx="106.4" cy="245.61" r="0.82" fill="#a81e44"/>
<circle cx="106.38" cy="250.59" r="0.82" fill="#a81e44"/>
<circle cx="105.77" cy="262.33" r="0.82" fill="#a81e44"/>
<circle cx="105.58" cy="240.22" r="0.82" fill="#a81e44"/>
<circle cx="106.3" cy="259.25" r="0.82" fill="#a81e44"/>
<circle cx="106.21" cy="251.1" r="0.82" fill="#a81e44"/>
<circle cx="105.53" cy="262.31" r="0.82" fill="#a81e44"/>
<circle cx="105.55" cy="256.96" r="0.82" fill="#a81e44"/>
<circle cx="105.66" cy="275.26" r="0.82" fill="#a81e44"/>
<circle cx="105.47" cy="298.84" r="0.82" fill="#a81e44"/>
<circle cx="105.76" cy="300.44" r="0.82" fill="#a81e44"/>
<circle cx="105.41" cy="307.94" r="0.82" fill="#a81e44"/>
<circle cx="106.25" cy="324.04" r="0.82" fill="#a81e44"/>
<circle cx="105.61" cy="310.93" r="0.82" fill="#a81e44"/>
<circle cx="105.65" cy="320.13" r="0.82" fill="#a81e44"/>
<circle cx="105.38" cy="317.49" r="0.82" fill="#a81e44"/>
<circle cx="105.72" cy="292.93" r="0.82" fill="#a81e44"/>
<circle cx="106.12" cy="322.16" r="0.82" fill="#a81e44"/>
<circle cx="105.64" cy="325.8" r="0.82" fill="#a81e44"/>
<circle cx="105.48" cy="283.11" r="0.82" fill="#a81e44"/>
<circle cx="106.26" cy="305.64" r="0.82" fill="#a81e44"/>
<circle cx="105.52" cy="284.84" r="0.82" fill="#a81e44"/>
<circle cx="106.13" cy="310.84" r="0.82" fill="#a81e44"/>
<circle cx="106.39" cy="309.46" r="0.82" fill="#a81e44"/>
<circle cx="106.39" cy="319.17" r="0.82" fill="#a81e44"/>
<circle cx="105.59" cy="302.1" r="0.82" fill="#a81e44"/>
<circle cx="105.48" cy="305.1" r="0.82" fill="#a81e44"/>
<circle cx="105.63" cy="290.5" r="0.82" fill="#a81e44"/>
<circle cx="105.99" cy="279.4" r="0.82" fill="#a81e44"/>
<circle cx="105.61" cy="309.97" r="0.82" fill="#a81e44"/>
<rect x="110.22" y="275.46" width="1.0" height="55.67" fill="#a81e44" fill-opacity="0.85"/>
<circle cx="110.4" cy="296.16" r="0.82" fill="#a81e44"/>
<circle cx="110.31" cy="280.96" r="0.82" fill="#a81e44"/>
<circle cx="110.77" cy="301.63" r="0.82" fill="#a81e44"/>
<circle cx="111.02" cy="315.58" r="0.82" fill="#a81e44"/>
<circle cx="110.89" cy="309" r="0.82" fill="#a81e44"/>
<circle cx="110.51" cy="298.49" r="0.82" fill="#a81e44"/>
<circle cx="110.26" cy="308.71" r="0.82" fill="#a81e44"/>
<circle cx="111.11" cy="320.95" r="0.82" fill="#a81e44"/>
<circle cx="110.9" cy="312.67" r="0.82" fill="#a81e44"/>
<circle cx="110.79" cy="324.86" r="0.82" fill="#a81e44"/>
<circle cx="110.72" cy="310.34" r="0.82" fill="#a81e44"/>
<circle cx="110.24" cy="314.05" r="0.82" fill="#a81e44"/>
<circle cx="110.42" cy="313.23" r="0.82" fill="#a81e44"/>
<circle cx="110.96" cy="323.88" r="0.82" fill="#a81e44"/>
<circle cx="110.61" cy="314.89" r="0.82" fill="#a81e44"/>
<circle cx="111.02" cy="278.86" r="0.82" fill="#a81e44"/>
<circle cx="111.12" cy="280.37" r="0.82" fill="#a81e44"/>
<circle cx="110.47" cy="323.53" r="0.82" fill="#a81e44"/>
<circle cx="110.92" cy="329.43" r="0.82" fill="#a81e44"/>
<circle cx="110.56" cy="292.97" r="0.82" fill="#a81e44"/>
<circle cx="110.89" cy="307.4" r="0.82" fill="#a81e44"/>
<circle cx="110.44" cy="290.92" r="0.82" fill="#a81e44"/>
<circle cx="110.56" cy="282.44" r="0.82" fill="#a81e44"/>
<circle cx="110.37" cy="294.97" r="0.82" fill="#a81e44"/>
<circle cx="111.17" cy="324.5" r="0.82" fill="#a81e44"/>
<circle cx="110.95" cy="288.92" r="0.82" fill="#a81e44"/>
<circle cx="110.21" cy="328.8" r="0.82" fill="#a81e44"/>
<circle cx="110.39" cy="321.81" r="0.82" fill="#a81e44"/>
<circle cx="110.59" cy="313.7" r="0.82" fill="#a81e44"/>
<circle cx="110.51" cy="328.87" r="0.82" fill="#a81e44"/>
<circle cx="110.37" cy="294.42" r="0.82" fill="#a81e44"/>
<circle cx="110.8" cy="282.86" r="0.82" fill="#a81e44"/>
<circle cx="110.45" cy="289.92" r="0.82" fill="#a81e44"/>
<circle cx="110.92" cy="306.12" r="0.82" fill="#a81e44"/>
<circle cx="110.17" cy="311.06" r="0.82" fill="#a81e44"/>
<circle cx="111.02" cy="283.15" r="0.82" fill="#a81e44"/>
<circle cx="110.22" cy="314.66" r="0.82" fill="#a81e44"/>
<circle cx="110.84" cy="282.01" r="0.82" fill="#a81e44"/>
<circle cx="110.44" cy="328.41" r="0.82" fill="#a81e44"/>
<circle cx="111.04" cy="324.74" r="0.82" fill="#a81e44"/>
<circle cx="111.18" cy="319.05" r="0.82" fill="#a81e44"/>
<circle cx="110.26" cy="288.03" r="0.82" fill="#a81e44"/>
<circle cx="110.6" cy="291.18" r="0.82" fill="#a81e44"/>
<circle cx="111.08" cy="288.14" r="0.82" fill="#a81e44"/>
<circle cx="110.27" cy="314.96" r="0.82" fill="#a81e44"/>
<circle cx="110.64" cy="276.71" r="0.82" fill="#a81e44"/>
<circle cx="110.93" cy="277.64" r="0.82" fill="#a81e44"/>
<circle cx="111.08" cy="288.66" r="0.82" fill="#a81e44"/>
<circle cx="110.67" cy="295.01" r="0.82" fill="#a81e44"/>
<circle cx="110.94" cy="328.01" r="0.82" fill="#a81e44"/>
<circle cx="110.73" cy="306.5" r="0.82" fill="#a81e44"/>
<circle cx="110.31" cy="277.76" r="0.82" fill="#a81e44"/>
<circle cx="110.22" cy="287.32" r="0.82" fill="#a81e44"/>
<circle cx="111.06" cy="290.72" r="0.82" fill="#a81e44"/>
<circle cx="110.77" cy="316.11" r="0.82" fill="#a81e44"/>
<circle cx="110.87" cy="275.38" r="0.82" fill="#a81e44"/>
<circle cx="110.44" cy="299.85" r="0.82" fill="#a81e44"/>
<circle cx="110.56" cy="327.71" r="0.82" fill="#a81e44"/>
<circle cx="110.39" cy="307.46" r="0.82" fill="#a81e44"/>
<circle cx="110.32" cy="313.27" r="0.82" fill="#a81e44"/>
<circle cx="110.91" cy="290.48" r="0.82" fill="#a81e44"/>
<circle cx="110.44" cy="317.45" r="0.82" fill="#a81e44"/>
<circle cx="110.66" cy="301.49" r="0.82" fill="#a81e44"/>
<circle cx="110.56" cy="277.31" r="0.82" fill="#a81e44"/>
<circle cx="111.14" cy="313.91" r="0.82" fill="#a81e44"/>
<circle cx="110.79" cy="322.97" r="0.82" fill="#a81e44"/>
<circle cx="111.07" cy="311.95" r="0.82" fill="#a81e44"/>
<circle cx="111.01" cy="299.6" r="0.82" fill="#a81e44"/>
<circle cx="110.9" cy="321.4" r="0.82" fill="#a81e44"/>
<circle cx="110.68" cy="296.7" r="0.82" fill="#a81e44"/>
<circle cx="111.08" cy="287.07" r="0.82" fill="#a81e44"/>
<circle cx="110.49" cy="324.55" r="0.82" fill="#a81e44"/>
<circle cx="110.4" cy="310.4" r="0.82" fill="#a81e44"/>
<circle cx="110.48" cy="327.66" r="0.82" fill="#a81e44"/>
<circle cx="110.94" cy="319.79" r="0.82" fill="#a81e44"/>
<circle cx="110.29" cy="305.37" r="0.82" fill="#a81e44"/>
<circle cx="110.69" cy="312.47" r="0.82" fill="#a81e44"/>
<circle cx="110.35" cy="310.26" r="0.82" fill="#a81e44"/>
<circle cx="110.18" cy="327" r="0.82" fill="#a81e44"/>
<circle cx="111" cy="274.08" r="0.82" fill="#a81e44"/>
<circle cx="110.96" cy="326.3" r="0.82" fill="#a81e44"/>
<circle cx="110.79" cy="274.76" r="0.82" fill="#a81e44"/>
<circle cx="110.71" cy="324.87" r="0.82" fill="#a81e44"/>
<circle cx="110.38" cy="306.16" r="0.82" fill="#a81e44"/>
<rect x="112.82" y="275.46" width="1.0" height="55.67" fill="#1f4a6e" fill-opacity="0.85"/>
<circle cx="112.78" cy="299.9" r="0.82" fill="#1f4a6e"/>
<circle cx="113.48" cy="278.25" r="0.82" fill="#1f4a6e"/>
<circle cx="113.8" cy="295.03" r="0.82" fill="#1f4a6e"/>
<circle cx="113.05" cy="293.6" r="0.82" fill="#1f4a6e"/>
<circle cx="112.92" cy="316.98" r="0.82" fill="#1f4a6e"/>
<circle cx="113.62" cy="329.54" r="0.82" fill="#1f4a6e"/>
<circle cx="113.1" cy="282.85" r="0.82" fill="#1f4a6e"/>
<circle cx="113.47" cy="320.45" r="0.82" fill="#1f4a6e"/>
<circle cx="113.79" cy="282.5" r="0.82" fill="#1f4a6e"/>
<circle cx="113.63" cy="321.44" r="0.82" fill="#1f4a6e"/>
<circle cx="113.59" cy="283.38" r="0.82" fill="#1f4a6e"/>
<circle cx="112.97" cy="312.34" r="0.82" fill="#1f4a6e"/>
<circle cx="113.12" cy="283.67" r="0.82" fill="#1f4a6e"/>
<circle cx="113.38" cy="309.94" r="0.82" fill="#1f4a6e"/>
<circle cx="113.68" cy="309.89" r="0.82" fill="#1f4a6e"/>
<circle cx="112.82" cy="317.36" r="0.82" fill="#1f4a6e"/>
<circle cx="113.46" cy="298.53" r="0.82" fill="#1f4a6e"/>
<circle cx="113.55" cy="283.99" r="0.82" fill="#1f4a6e"/>
<circle cx="113.81" cy="279.08" r="0.82" fill="#1f4a6e"/>
<circle cx="113.32" cy="302.7" r="0.82" fill="#1f4a6e"/>
<circle cx="113.1" cy="322.07" r="0.82" fill="#1f4a6e"/>
<circle cx="112.86" cy="297.71" r="0.82" fill="#1f4a6e"/>
<circle cx="112.95" cy="291.57" r="0.82" fill="#1f4a6e"/>
<circle cx="113.84" cy="305.64" r="0.82" fill="#1f4a6e"/>
<circle cx="112.81" cy="325.97" r="0.82" fill="#1f4a6e"/>
<circle cx="112.98" cy="305.86" r="0.82" fill="#1f4a6e"/>
<circle cx="112.77" cy="289.56" r="0.82" fill="#1f4a6e"/>
<circle cx="113.71" cy="282.78" r="0.82" fill="#1f4a6e"/>
<circle cx="113.24" cy="285.88" r="0.82" fill="#1f4a6e"/>
<circle cx="113.5" cy="314.84" r="0.82" fill="#1f4a6e"/>
<circle cx="113.23" cy="301.54" r="0.82" fill="#1f4a6e"/>
<circle cx="113.25" cy="311.65" r="0.82" fill="#1f4a6e"/>
<circle cx="113.68" cy="292.83" r="0.82" fill="#1f4a6e"/>
<circle cx="112.95" cy="279.15" r="0.82" fill="#1f4a6e"/>
<circle cx="113.26" cy="314.12" r="0.82" fill="#1f4a6e"/>
<circle cx="110.55" cy="247.43" r="0.82" fill="#a81e44"/>
<circle cx="110.26" cy="264.54" r="0.82" fill="#a81e44"/>
<circle cx="110.68" cy="258.58" r="0.82" fill="#a81e44"/>
<circle cx="111.17" cy="228.47" r="0.82" fill="#a81e44"/>
<circle cx="111.24" cy="233.39" r="0.82" fill="#a81e44"/>
<circle cx="110.85" cy="228.91" r="0.82" fill="#a81e44"/>
<circle cx="110.24" cy="235.91" r="0.82" fill="#a81e44"/>
<rect x="115.05" y="275.46" width="1.0" height="55.67" fill="#a81e44" fill-opacity="0.85"/>
<circle cx="115.67" cy="292.23" r="0.82" fill="#a81e44"/>
<circle cx="115.63" cy="314.05" r="0.82" fill="#a81e44"/>
<circle cx="115.53" cy="276.34" r="0.82" fill="#a81e44"/>
<circle cx="115.33" cy="293.9" r="0.82" fill="#a81e44"/>
<circle cx="115.97" cy="311.38" r="0.82" fill="#a81e44"/>
<circle cx="115.21" cy="329.53" r="0.82" fill="#a81e44"/>
<circle cx="115.49" cy="292.1" r="0.82" fill="#a81e44"/>
<circle cx="115.73" cy="326.23" r="0.82" fill="#a81e44"/>
<circle cx="115.64" cy="309.74" r="0.82" fill="#a81e44"/>
<circle cx="115.58" cy="307.19" r="0.82" fill="#a81e44"/>
<circle cx="115.44" cy="298.65" r="0.82" fill="#a81e44"/>
<circle cx="115.2" cy="324.56" r="0.82" fill="#a81e44"/>
<circle cx="115.6" cy="279.95" r="0.82" fill="#a81e44"/>
<circle cx="115.95" cy="324.67" r="0.82" fill="#a81e44"/>
<circle cx="115.1" cy="316.55" r="0.82" fill="#a81e44"/>
<circle cx="115.28" cy="300.61" r="0.82" fill="#a81e44"/>
<circle cx="115.61" cy="302.99" r="0.82" fill="#a81e44"/>
<circle cx="115.63" cy="318.1" r="0.82" fill="#a81e44"/>
<circle cx="115.56" cy="324.63" r="0.82" fill="#a81e44"/>
<circle cx="115.09" cy="297.29" r="0.82" fill="#a81e44"/>
<circle cx="115.08" cy="307.67" r="0.82" fill="#a81e44"/>
<circle cx="115.95" cy="305.85" r="0.82" fill="#a81e44"/>
<circle cx="115.79" cy="299.47" r="0.82" fill="#a81e44"/>
<circle cx="115.13" cy="287.6" r="0.82" fill="#a81e44"/>
<circle cx="115.79" cy="274.16" r="0.82" fill="#a81e44"/>
<circle cx="115.91" cy="325.26" r="0.82" fill="#a81e44"/>
<circle cx="115.19" cy="308.59" r="0.82" fill="#a81e44"/>
<circle cx="115.62" cy="275.92" r="0.82" fill="#a81e44"/>
<circle cx="115.15" cy="286.56" r="0.82" fill="#a81e44"/>
<circle cx="115.06" cy="286.5" r="0.82" fill="#a81e44"/>
<circle cx="115.41" cy="317.51" r="0.82" fill="#a81e44"/>
<circle cx="115.65" cy="330.26" r="0.82" fill="#a81e44"/>
<circle cx="115.33" cy="318.87" r="0.82" fill="#a81e44"/>
<circle cx="115.47" cy="290.45" r="0.82" fill="#a81e44"/>
<circle cx="115.68" cy="280.03" r="0.82" fill="#a81e44"/>
<circle cx="115.62" cy="280.98" r="0.82" fill="#a81e44"/>
<circle cx="115.96" cy="278.37" r="0.82" fill="#a81e44"/>
<circle cx="115.82" cy="321.47" r="0.82" fill="#a81e44"/>
<circle cx="115.84" cy="311.5" r="0.82" fill="#a81e44"/>
<circle cx="115.91" cy="292" r="0.82" fill="#a81e44"/>
<circle cx="115.41" cy="324.07" r="0.82" fill="#a81e44"/>
<circle cx="116.04" cy="288.73" r="0.82" fill="#a81e44"/>
<circle cx="115.05" cy="289.62" r="0.82" fill="#a81e44"/>
<circle cx="115.11" cy="296.41" r="0.82" fill="#a81e44"/>
<circle cx="115.88" cy="299.57" r="0.82" fill="#a81e44"/>
<circle cx="116.02" cy="324.63" r="0.82" fill="#a81e44"/>
<circle cx="115.28" cy="292.3" r="0.82" fill="#a81e44"/>
<circle cx="115.49" cy="320.02" r="0.82" fill="#a81e44"/>
<circle cx="115.64" cy="282.93" r="0.82" fill="#a81e44"/>
<circle cx="115.02" cy="324.6" r="0.82" fill="#a81e44"/>
<circle cx="115.88" cy="324.78" r="0.82" fill="#a81e44"/>
<circle cx="115.61" cy="320.48" r="0.82" fill="#a81e44"/>
<circle cx="115.76" cy="314.45" r="0.82" fill="#a81e44"/>
<circle cx="115.16" cy="309.23" r="0.82" fill="#a81e44"/>
<circle cx="115.59" cy="280.79" r="0.82" fill="#a81e44"/>
<circle cx="115.89" cy="291.48" r="0.82" fill="#a81e44"/>
<circle cx="115.02" cy="276.57" r="0.82" fill="#a81e44"/>
<circle cx="115.17" cy="311.44" r="0.82" fill="#a81e44"/>
<circle cx="115.96" cy="302.28" r="0.82" fill="#a81e44"/>
<circle cx="115.04" cy="285.1" r="0.82" fill="#a81e44"/>
<circle cx="115.9" cy="320.65" r="0.82" fill="#a81e44"/>
<circle cx="115.43" cy="292.05" r="0.82" fill="#a81e44"/>
<circle cx="115.17" cy="303.77" r="0.82" fill="#a81e44"/>
<circle cx="115.43" cy="282.53" r="0.82" fill="#a81e44"/>
<circle cx="115.67" cy="280.93" r="0.82" fill="#a81e44"/>
<circle cx="115.36" cy="326.77" r="0.82" fill="#a81e44"/>
<circle cx="115.98" cy="318.69" r="0.82" fill="#a81e44"/>
<circle cx="115.05" cy="297.25" r="0.82" fill="#a81e44"/>
<circle cx="115.4" cy="321.37" r="0.82" fill="#a81e44"/>
<circle cx="115.63" cy="304.23" r="0.82" fill="#a81e44"/>
<circle cx="115.39" cy="308.82" r="0.82" fill="#a81e44"/>
<circle cx="115.64" cy="330.79" r="0.82" fill="#a81e44"/>
<circle cx="115.02" cy="311.94" r="0.82" fill="#a81e44"/>
<circle cx="116.09" cy="304.71" r="0.82" fill="#a81e44"/>
<circle cx="115.16" cy="328.52" r="0.82" fill="#a81e44"/>
<circle cx="115.3" cy="292.55" r="0.82" fill="#a81e44"/>
<rect x="117.65" y="275.46" width="1.0" height="55.67" fill="#1f4a6e" fill-opacity="0.85"/>
<circle cx="118.15" cy="315.41" r="0.82" fill="#1f4a6e"/>
<circle cx="118.23" cy="316.06" r="0.82" fill="#1f4a6e"/>
<circle cx="118.65" cy="300.76" r="0.82" fill="#1f4a6e"/>
<circle cx="117.64" cy="274.07" r="0.82" fill="#1f4a6e"/>
<circle cx="118.45" cy="298.89" r="0.82" fill="#1f4a6e"/>
<circle cx="118.45" cy="280.96" r="0.82" fill="#1f4a6e"/>
<circle cx="118.3" cy="294.72" r="0.82" fill="#1f4a6e"/>
<circle cx="117.91" cy="310.26" r="0.82" fill="#1f4a6e"/>
<circle cx="118.56" cy="285.4" r="0.82" fill="#1f4a6e"/>
<circle cx="118.35" cy="277.15" r="0.82" fill="#1f4a6e"/>
<circle cx="118.44" cy="313.65" r="0.82" fill="#1f4a6e"/>
<circle cx="118.16" cy="288.6" r="0.82" fill="#1f4a6e"/>
<circle cx="117.99" cy="294.6" r="0.82" fill="#1f4a6e"/>
<circle cx="118.05" cy="299.46" r="0.82" fill="#1f4a6e"/>
<circle cx="117.97" cy="327.65" r="0.82" fill="#1f4a6e"/>
<circle cx="118.69" cy="312.54" r="0.82" fill="#1f4a6e"/>
<circle cx="118" cy="303.44" r="0.82" fill="#1f4a6e"/>
<circle cx="117.86" cy="317.13" r="0.82" fill="#1f4a6e"/>
<circle cx="117.75" cy="311.05" r="0.82" fill="#1f4a6e"/>
<circle cx="118.56" cy="330.71" r="0.82" fill="#1f4a6e"/>
<circle cx="118.09" cy="305.07" r="0.82" fill="#1f4a6e"/>
<circle cx="117.93" cy="298.43" r="0.82" fill="#1f4a6e"/>
<circle cx="117.67" cy="321.42" r="0.82" fill="#1f4a6e"/>
<circle cx="117.94" cy="313.79" r="0.82" fill="#1f4a6e"/>
<circle cx="118.21" cy="289.34" r="0.82" fill="#1f4a6e"/>
<circle cx="117.97" cy="277.22" r="0.82" fill="#1f4a6e"/>
<circle cx="118.24" cy="278.15" r="0.82" fill="#1f4a6e"/>
<circle cx="117.8" cy="326.53" r="0.82" fill="#1f4a6e"/>
<circle cx="118.69" cy="297.75" r="0.82" fill="#1f4a6e"/>
<circle cx="118.45" cy="310.6" r="0.82" fill="#1f4a6e"/>
<circle cx="118.56" cy="306.5" r="0.82" fill="#1f4a6e"/>
<circle cx="118.13" cy="327.23" r="0.82" fill="#1f4a6e"/>
<circle cx="117.9" cy="279.43" r="0.82" fill="#1f4a6e"/>
<circle cx="117.63" cy="316.32" r="0.82" fill="#1f4a6e"/>
<circle cx="117.89" cy="321.67" r="0.82" fill="#1f4a6e"/>
<rect x="119.83" y="280.97" width="1.2" height="29.36" fill="#c2305a"/>
<circle cx="119.99" cy="289.65" r="0.7" fill="#a81e44"/>
<circle cx="119.96" cy="298.6" r="0.7" fill="#a81e44"/>
<circle cx="120.78" cy="317.62" r="0.82" fill="#a81e44"/>
<circle cx="120.05" cy="316.79" r="0.82" fill="#a81e44"/>
<circle cx="120.89" cy="315.21" r="0.82" fill="#a81e44"/>
<circle cx="119.92" cy="317.65" r="0.82" fill="#a81e44"/>
<circle cx="120.79" cy="313.83" r="0.82" fill="#a81e44"/>
<circle cx="119.98" cy="322.42" r="0.82" fill="#a81e44"/>
<circle cx="120.42" cy="325.23" r="0.82" fill="#a81e44"/>
<circle cx="120.53" cy="312.62" r="0.82" fill="#a81e44"/>
<rect x="124.66" y="233.25" width="1.2" height="92.99" fill="#c2305a"/>
<circle cx="124.81" cy="240.42" r="0.7" fill="#a81e44"/>
<circle cx="125.56" cy="295.85" r="0.7" fill="#a81e44"/>
<circle cx="125.08" cy="265.89" r="0.7" fill="#a81e44"/>
<circle cx="124.98" cy="263.1" r="0.7" fill="#a81e44"/>
<circle cx="125.09" cy="320.89" r="0.7" fill="#a81e44"/>
<circle cx="125.39" cy="322.01" r="0.7" fill="#a81e44"/>
<circle cx="125.2" cy="295.13" r="0.7" fill="#a81e44"/>
<circle cx="124.87" cy="270.64" r="0.7" fill="#a81e44"/>
<circle cx="124.67" cy="252.95" r="0.82" fill="#a81e44"/>
<circle cx="125.28" cy="235.99" r="0.82" fill="#a81e44"/>
<circle cx="124.72" cy="233.71" r="0.82" fill="#a81e44"/>
<circle cx="125.46" cy="247.42" r="0.82" fill="#a81e44"/>
<circle cx="124.76" cy="257.87" r="0.82" fill="#a81e44"/>
<circle cx="124.82" cy="264.22" r="0.82" fill="#a81e44"/>
<circle cx="124.76" cy="324.56" r="0.82" fill="#a81e44"/>
<circle cx="125.13" cy="324.16" r="0.82" fill="#a81e44"/>
<circle cx="125.31" cy="326.52" r="0.82" fill="#a81e44"/>
<circle cx="130.21" cy="298.11" r="0.82" fill="#a81e44"/>
<circle cx="129.85" cy="297.08" r="0.82" fill="#a81e44"/>
<circle cx="129.77" cy="294.01" r="0.82" fill="#a81e44"/>
<circle cx="130.33" cy="294.66" r="0.82" fill="#a81e44"/>
<circle cx="129.83" cy="293.24" r="0.82" fill="#a81e44"/>
<circle cx="130.57" cy="293.31" r="0.82" fill="#a81e44"/>
<circle cx="129.8" cy="300.35" r="0.82" fill="#a81e44"/>
<circle cx="130.53" cy="298.8" r="0.82" fill="#a81e44"/>
<circle cx="129.5" cy="307.43" r="0.82" fill="#a81e44"/>
<circle cx="130.21" cy="299.85" r="0.82" fill="#a81e44"/>
<circle cx="129.89" cy="293.28" r="0.82" fill="#a81e44"/>
<circle cx="129.74" cy="288.54" r="0.82" fill="#a81e44"/>
<circle cx="129.59" cy="293.67" r="0.82" fill="#a81e44"/>
<circle cx="129.64" cy="309.71" r="0.82" fill="#a81e44"/>
<circle cx="130.04" cy="309" r="0.82" fill="#a81e44"/>
<circle cx="129.69" cy="298.1" r="0.82" fill="#a81e44"/>
<circle cx="129.89" cy="289.63" r="0.82" fill="#a81e44"/>
<circle cx="129.69" cy="307.04" r="0.82" fill="#a81e44"/>
<circle cx="130.5" cy="294.08" r="0.82" fill="#a81e44"/>
<circle cx="129.52" cy="306.76" r="0.82" fill="#a81e44"/>
<circle cx="129.76" cy="293.19" r="0.82" fill="#a81e44"/>
<circle cx="130.04" cy="288.7" r="0.82" fill="#a81e44"/>
<rect x="134.32" y="277.3" width="1.2" height="50.16" fill="#c2305a"/>
<circle cx="134.65" cy="295.55" r="0.7" fill="#a81e44"/>
<circle cx="134.81" cy="287.3" r="0.7" fill="#a81e44"/>
<circle cx="135.43" cy="311.21" r="0.7" fill="#a81e44"/>
<circle cx="135.2" cy="322.05" r="0.7" fill="#a81e44"/>
<circle cx="134.96" cy="216.12" r="0.82" fill="#a81e44"/>
<rect x="139.15" y="289.53" width="1.2" height="37.93" fill="#c2305a"/>
<circle cx="140.21" cy="312.22" r="0.7" fill="#a81e44"/>
<circle cx="139.79" cy="325.18" r="0.7" fill="#a81e44"/>
<circle cx="140.29" cy="311.91" r="0.7" fill="#a81e44"/>
<circle cx="139.84" cy="323.04" r="0.82" fill="#a81e44"/>
<circle cx="139.43" cy="329.21" r="0.82" fill="#a81e44"/>
<rect x="144.03" y="271.9" width="1.0" height="59.23" fill="#a81e44" fill-opacity="0.85"/>
<circle cx="144.46" cy="315.08" r="0.82" fill="#a81e44"/>
<circle cx="144.2" cy="316.97" r="0.82" fill="#a81e44"/>
<circle cx="144.69" cy="284.69" r="0.82" fill="#a81e44"/>
<circle cx="145.07" cy="312.87" r="0.82" fill="#a81e44"/>
<circle cx="144.61" cy="317.88" r="0.82" fill="#a81e44"/>
<circle cx="144.93" cy="321.54" r="0.82" fill="#a81e44"/>
<circle cx="144.27" cy="277.95" r="0.82" fill="#a81e44"/>
<circle cx="144.89" cy="285.15" r="0.82" fill="#a81e44"/>
<circle cx="144.34" cy="313.84" r="0.82" fill="#a81e44"/>
<circle cx="144.96" cy="301.43" r="0.82" fill="#a81e44"/>
<circle cx="144.73" cy="321.24" r="0.82" fill="#a81e44"/>
<circle cx="144.48" cy="294.57" r="0.82" fill="#a81e44"/>
<circle cx="144.95" cy="295.7" r="0.82" fill="#a81e44"/>
<circle cx="144.95" cy="318.29" r="0.82" fill="#a81e44"/>
<circle cx="144.84" cy="309.08" r="0.82" fill="#a81e44"/>
<circle cx="144.18" cy="278.31" r="0.82" fill="#a81e44"/>
<circle cx="145.07" cy="278.28" r="0.82" fill="#a81e44"/>
<circle cx="144.01" cy="312.92" r="0.82" fill="#a81e44"/>
<circle cx="145.05" cy="324.3" r="0.82" fill="#a81e44"/>
<circle cx="144.98" cy="330.55" r="0.82" fill="#a81e44"/>
<circle cx="144.79" cy="321.9" r="0.82" fill="#a81e44"/>
<circle cx="144.17" cy="325.16" r="0.82" fill="#a81e44"/>
<circle cx="144.08" cy="289.36" r="0.82" fill="#a81e44"/>
<circle cx="144.99" cy="310.36" r="0.82" fill="#a81e44"/>
<circle cx="144.95" cy="287.31" r="0.82" fill="#a81e44"/>
<circle cx="144.02" cy="271.2" r="0.82" fill="#a81e44"/>
<circle cx="144.85" cy="316.78" r="0.82" fill="#a81e44"/>
<circle cx="144.02" cy="288.95" r="0.82" fill="#a81e44"/>
<circle cx="144.23" cy="300.25" r="0.82" fill="#a81e44"/>
<circle cx="144.1" cy="304.79" r="0.82" fill="#a81e44"/>
<circle cx="145.07" cy="329.91" r="0.82" fill="#a81e44"/>
<circle cx="144.95" cy="311.77" r="0.82" fill="#a81e44"/>
<circle cx="144.52" cy="323.76" r="0.82" fill="#a81e44"/>
<circle cx="144.45" cy="322.82" r="0.82" fill="#a81e44"/>
<circle cx="144.73" cy="320.18" r="0.82" fill="#a81e44"/>
<circle cx="144.79" cy="322.08" r="0.82" fill="#a81e44"/>
<circle cx="144.1" cy="300.5" r="0.82" fill="#a81e44"/>
<circle cx="144.53" cy="309.5" r="0.82" fill="#a81e44"/>
<circle cx="144.36" cy="274.93" r="0.82" fill="#a81e44"/>
<circle cx="145.04" cy="317.97" r="0.82" fill="#a81e44"/>
<circle cx="144.78" cy="277.1" r="0.82" fill="#a81e44"/>
<circle cx="144.17" cy="314.43" r="0.82" fill="#a81e44"/>
<circle cx="144.06" cy="314.94" r="0.82" fill="#a81e44"/>
<circle cx="144.54" cy="328.49" r="0.82" fill="#a81e44"/>
<circle cx="144.59" cy="306.16" r="0.82" fill="#a81e44"/>
<circle cx="143.99" cy="308.95" r="0.82" fill="#a81e44"/>
<circle cx="144.7" cy="289.03" r="0.82" fill="#a81e44"/>
<circle cx="144.58" cy="297.85" r="0.82" fill="#a81e44"/>
<circle cx="145.06" cy="288.9" r="0.82" fill="#a81e44"/>
<circle cx="144.77" cy="277.66" r="0.82" fill="#a81e44"/>
<circle cx="144.33" cy="306.7" r="0.82" fill="#a81e44"/>
<circle cx="145.05" cy="305.49" r="0.82" fill="#a81e44"/>
<circle cx="144.4" cy="307.45" r="0.82" fill="#a81e44"/>
<circle cx="144.14" cy="306.05" r="0.82" fill="#a81e44"/>
<circle cx="143.99" cy="270.06" r="0.82" fill="#a81e44"/>
<circle cx="145" cy="293.95" r="0.82" fill="#a81e44"/>
<circle cx="144.65" cy="315.55" r="0.82" fill="#a81e44"/>
<circle cx="144.24" cy="308.07" r="0.82" fill="#a81e44"/>
<circle cx="144.11" cy="318.99" r="0.82" fill="#a81e44"/>
<circle cx="144.84" cy="279.56" r="0.82" fill="#a81e44"/>
<circle cx="144.03" cy="275.55" r="0.82" fill="#a81e44"/>
<circle cx="144.34" cy="288.66" r="0.82" fill="#a81e44"/>
<circle cx="144.58" cy="291.6" r="0.82" fill="#a81e44"/>
<circle cx="145.05" cy="311.82" r="0.82" fill="#a81e44"/>
<circle cx="144.8" cy="331.07" r="0.82" fill="#a81e44"/>
<circle cx="144.54" cy="278.92" r="0.82" fill="#a81e44"/>
<circle cx="145.07" cy="294.9" r="0.82" fill="#a81e44"/>
<circle cx="144.67" cy="316.79" r="0.82" fill="#a81e44"/>
<circle cx="144.4" cy="285.66" r="0.82" fill="#a81e44"/>
<circle cx="144.41" cy="287.56" r="0.82" fill="#a81e44"/>
<circle cx="144.65" cy="298.94" r="0.82" fill="#a81e44"/>
<circle cx="144.33" cy="289.7" r="0.82" fill="#a81e44"/>
<circle cx="144.58" cy="292.66" r="0.82" fill="#a81e44"/>
<circle cx="144.65" cy="317.47" r="0.82" fill="#a81e44"/>
<circle cx="144.98" cy="314.92" r="0.82" fill="#a81e44"/>
<circle cx="144.77" cy="302.18" r="0.82" fill="#a81e44"/>
<circle cx="144.5" cy="299.19" r="0.82" fill="#a81e44"/>
<circle cx="144.14" cy="317.6" r="0.82" fill="#a81e44"/>
<circle cx="144.56" cy="274.4" r="0.82" fill="#a81e44"/>
<circle cx="144.56" cy="299.08" r="0.82" fill="#a81e44"/>
<circle cx="144.24" cy="281.37" r="0.82" fill="#a81e44"/>
<circle cx="144.88" cy="320.59" r="0.82" fill="#a81e44"/>
<circle cx="144.68" cy="302.97" r="0.82" fill="#a81e44"/>
<circle cx="144.96" cy="280.51" r="0.82" fill="#a81e44"/>
<circle cx="144.03" cy="278.04" r="0.82" fill="#a81e44"/>
<circle cx="144.9" cy="307.81" r="0.82" fill="#a81e44"/>
<circle cx="144.12" cy="281.1" r="0.82" fill="#a81e44"/>
<circle cx="144.26" cy="321.72" r="0.82" fill="#a81e44"/>
<circle cx="144.37" cy="324.84" r="0.82" fill="#a81e44"/>
<rect x="146.63" y="275.46" width="1.0" height="55.67" fill="#1f4a6e" fill-opacity="0.85"/>
<circle cx="147.15" cy="284.94" r="0.82" fill="#1f4a6e"/>
<circle cx="146.68" cy="305.09" r="0.82" fill="#1f4a6e"/>
<circle cx="147.68" cy="308.38" r="0.82" fill="#1f4a6e"/>
<circle cx="147.07" cy="291.16" r="0.82" fill="#1f4a6e"/>
<circle cx="147.46" cy="303.62" r="0.82" fill="#1f4a6e"/>
<circle cx="146.74" cy="287.49" r="0.82" fill="#1f4a6e"/>
<circle cx="146.98" cy="292.02" r="0.82" fill="#1f4a6e"/>
<circle cx="146.84" cy="301.19" r="0.82" fill="#1f4a6e"/>
<circle cx="146.95" cy="309.81" r="0.82" fill="#1f4a6e"/>
<circle cx="146.6" cy="309.21" r="0.82" fill="#1f4a6e"/>
<circle cx="147.21" cy="319.58" r="0.82" fill="#1f4a6e"/>
<circle cx="146.78" cy="327.81" r="0.82" fill="#1f4a6e"/>
<circle cx="146.88" cy="289.83" r="0.82" fill="#1f4a6e"/>
<circle cx="146.85" cy="312.5" r="0.82" fill="#1f4a6e"/>
<circle cx="146.68" cy="283.16" r="0.82" fill="#1f4a6e"/>
<circle cx="147.52" cy="294.55" r="0.82" fill="#1f4a6e"/>
<circle cx="147.05" cy="319.53" r="0.82" fill="#1f4a6e"/>
<circle cx="147.26" cy="285.57" r="0.82" fill="#1f4a6e"/>
<circle cx="146.63" cy="309.76" r="0.82" fill="#1f4a6e"/>
<circle cx="146.98" cy="305.68" r="0.82" fill="#1f4a6e"/>
<circle cx="146.9" cy="290.16" r="0.82" fill="#1f4a6e"/>
<circle cx="147.29" cy="307.67" r="0.82" fill="#1f4a6e"/>
<circle cx="146.97" cy="284.5" r="0.82" fill="#1f4a6e"/>
<circle cx="147.22" cy="308.97" r="0.82" fill="#1f4a6e"/>
<circle cx="146.79" cy="277.95" r="0.82" fill="#1f4a6e"/>
<circle cx="147.36" cy="275.27" r="0.82" fill="#1f4a6e"/>
<circle cx="147.31" cy="309.72" r="0.82" fill="#1f4a6e"/>
<circle cx="146.66" cy="312.18" r="0.82" fill="#1f4a6e"/>
<circle cx="147" cy="287.65" r="0.82" fill="#1f4a6e"/>
<circle cx="147.13" cy="300.89" r="0.82" fill="#1f4a6e"/>
<circle cx="147.41" cy="279.3" r="0.82" fill="#1f4a6e"/>
<circle cx="147.23" cy="329.66" r="0.82" fill="#1f4a6e"/>
<circle cx="147.09" cy="304.53" r="0.82" fill="#1f4a6e"/>
<circle cx="147.04" cy="282.85" r="0.82" fill="#1f4a6e"/>
<circle cx="147.56" cy="303.9" r="0.82" fill="#1f4a6e"/>
<rect x="148.81" y="269.95" width="1.2" height="61.18" fill="#c2305a"/>
<circle cx="149.35" cy="304.22" r="0.7" fill="#a81e44"/>
<circle cx="149.81" cy="299.82" r="0.7" fill="#a81e44"/>
<circle cx="149.7" cy="290.12" r="0.7" fill="#a81e44"/>
<circle cx="148.72" cy="306.56" r="0.7" fill="#a81e44"/>
<circle cx="149.44" cy="289.54" r="0.7" fill="#a81e44"/>
<circle cx="149.66" cy="236.92" r="0.82" fill="#a81e44"/>
<circle cx="149.05" cy="267.99" r="0.82" fill="#a81e44"/>
<circle cx="149.71" cy="269.94" r="0.82" fill="#a81e44"/>
<circle cx="148.91" cy="268.77" r="0.82" fill="#a81e44"/>
<circle cx="149.43" cy="237.68" r="0.82" fill="#a81e44"/>
<circle cx="149.56" cy="271" r="0.82" fill="#a81e44"/>
<circle cx="149.34" cy="239.7" r="0.82" fill="#a81e44"/>
<circle cx="149.57" cy="271.01" r="0.82" fill="#a81e44"/>
<circle cx="149.45" cy="253.68" r="0.82" fill="#a81e44"/>
<circle cx="149.71" cy="226" r="0.82" fill="#a81e44"/>
<circle cx="151.57" cy="312.99" r="0.82" fill="#1f4a6e"/>
<circle cx="151.98" cy="324.18" r="0.82" fill="#1f4a6e"/>
<circle cx="152.5" cy="331" r="0.82" fill="#1f4a6e"/>
<circle cx="151.7" cy="325.42" r="0.82" fill="#1f4a6e"/>
<circle cx="151.69" cy="324.62" r="0.82" fill="#1f4a6e"/>
<circle cx="152.02" cy="313.27" r="0.82" fill="#1f4a6e"/>
<circle cx="151.87" cy="320.5" r="0.82" fill="#1f4a6e"/>
<circle cx="151.74" cy="330.07" r="0.82" fill="#1f4a6e"/>
<circle cx="152.29" cy="313.1" r="0.82" fill="#1f4a6e"/>
<circle cx="151.69" cy="313.31" r="0.82" fill="#1f4a6e"/>
<circle cx="151.47" cy="326.93" r="0.82" fill="#1f4a6e"/>
<rect x="153.64" y="269.95" width="1.2" height="61.18" fill="#c2305a"/>
<circle cx="154.01" cy="298.29" r="0.7" fill="#a81e44"/>
<circle cx="154.17" cy="302.73" r="0.7" fill="#a81e44"/>
<circle cx="154" cy="295.42" r="0.7" fill="#a81e44"/>
<circle cx="153.77" cy="282.1" r="0.7" fill="#a81e44"/>
<circle cx="154.27" cy="274.89" r="0.7" fill="#a81e44"/>
<circle cx="153.99" cy="325.87" r="0.82" fill="#a81e44"/>
<circle cx="154.09" cy="299.33" r="0.82" fill="#a81e44"/>
<circle cx="154" cy="297.58" r="0.82" fill="#a81e44"/>
<circle cx="154.52" cy="313.62" r="0.82" fill="#a81e44"/>
<circle cx="154.42" cy="312.63" r="0.82" fill="#a81e44"/>
<circle cx="154.29" cy="284.5" r="0.82" fill="#a81e44"/>
<circle cx="154.67" cy="303.65" r="0.82" fill="#a81e44"/>
<circle cx="154.61" cy="304.19" r="0.82" fill="#a81e44"/>
<circle cx="154.12" cy="325.5" r="0.82" fill="#a81e44"/>
<circle cx="153.69" cy="293.49" r="0.82" fill="#a81e44"/>
<circle cx="153.72" cy="281.19" r="0.82" fill="#a81e44"/>
<circle cx="153.84" cy="295.85" r="0.82" fill="#a81e44"/>
<circle cx="154.26" cy="277.9" r="0.82" fill="#a81e44"/>
<circle cx="154.19" cy="284.6" r="0.82" fill="#a81e44"/>
<circle cx="154.38" cy="291.58" r="0.82" fill="#a81e44"/>
<circle cx="153.87" cy="312.45" r="0.82" fill="#a81e44"/>
<rect x="158.47" y="289.53" width="1.2" height="37.93" fill="#c2305a"/>
<circle cx="158.52" cy="295.66" r="0.7" fill="#a81e44"/>
<circle cx="158.61" cy="292.65" r="0.7" fill="#a81e44"/>
<circle cx="158.45" cy="323.63" r="0.7" fill="#a81e44"/>
<rect x="161.07" y="277.3" width="1.2" height="50.16" fill="#2f5f88"/>
<circle cx="162.25" cy="288.12" r="0.7" fill="#1f4a6e"/>
<circle cx="161.84" cy="306.66" r="0.7" fill="#1f4a6e"/>
<circle cx="162.19" cy="314.54" r="0.7" fill="#1f4a6e"/>
<circle cx="161.14" cy="293.05" r="0.7" fill="#1f4a6e"/>
<circle cx="164.07" cy="323" r="0.82" fill="#a81e44"/>
<circle cx="164.22" cy="323.53" r="0.82" fill="#a81e44"/>
<circle cx="163.56" cy="314.59" r="0.82" fill="#a81e44"/>
<circle cx="163.65" cy="304.36" r="0.82" fill="#a81e44"/>
<circle cx="163.47" cy="305.12" r="0.82" fill="#a81e44"/>
<circle cx="163.66" cy="292.66" r="0.82" fill="#a81e44"/>
<circle cx="163.47" cy="295.16" r="0.82" fill="#a81e44"/>
<circle cx="164.38" cy="296.65" r="0.82" fill="#a81e44"/>
<circle cx="163.34" cy="311.12" r="0.82" fill="#a81e44"/>
<circle cx="164" cy="311.53" r="0.82" fill="#a81e44"/>
<circle cx="163.9" cy="317.09" r="0.82" fill="#a81e44"/>
<circle cx="163.81" cy="321.69" r="0.82" fill="#a81e44"/>
<circle cx="163.77" cy="299.17" r="0.82" fill="#a81e44"/>
<circle cx="163.43" cy="300.92" r="0.82" fill="#a81e44"/>
<circle cx="163.43" cy="295.62" r="0.82" fill="#a81e44"/>
<circle cx="164.4" cy="292.25" r="0.82" fill="#a81e44"/>
<circle cx="163.88" cy="291.68" r="0.82" fill="#a81e44"/>
<circle cx="163.68" cy="314.7" r="0.82" fill="#a81e44"/>
<circle cx="163.85" cy="298.39" r="0.82" fill="#a81e44"/>
<circle cx="163.4" cy="292.02" r="0.82" fill="#a81e44"/>
<circle cx="164.25" cy="307.81" r="0.82" fill="#a81e44"/>
<circle cx="163.89" cy="303.8" r="0.82" fill="#a81e44"/>
<circle cx="163.45" cy="321.87" r="0.82" fill="#a81e44"/>
<circle cx="164.28" cy="315.39" r="0.82" fill="#a81e44"/>
<circle cx="163.55" cy="295.02" r="0.82" fill="#a81e44"/>
<circle cx="163.34" cy="292.21" r="0.82" fill="#a81e44"/>
<circle cx="164.36" cy="303.77" r="0.82" fill="#a81e44"/>
<circle cx="164.34" cy="312.8" r="0.82" fill="#a81e44"/>
<rect x="168.13" y="272.4" width="1.2" height="58.73" fill="#c2305a"/>
<circle cx="168.05" cy="292.57" r="0.7" fill="#a81e44"/>
<circle cx="168.61" cy="311.57" r="0.7" fill="#a81e44"/>
<circle cx="169.02" cy="316.6" r="0.7" fill="#a81e44"/>
<circle cx="169.08" cy="320.63" r="0.7" fill="#a81e44"/>
<circle cx="168.08" cy="313.61" r="0.7" fill="#a81e44"/>
<circle cx="168.44" cy="230.8" r="0.82" fill="#a81e44"/>
<circle cx="169" cy="298.31" r="0.82" fill="#a81e44"/>
<circle cx="168.64" cy="295.89" r="0.82" fill="#a81e44"/>
<circle cx="168.69" cy="326.83" r="0.82" fill="#a81e44"/>
<circle cx="168.84" cy="323.33" r="0.82" fill="#a81e44"/>
<circle cx="168.77" cy="321.42" r="0.82" fill="#a81e44"/>
<circle cx="168.54" cy="309.25" r="0.82" fill="#a81e44"/>
<circle cx="168.31" cy="292.17" r="0.82" fill="#a81e44"/>
<circle cx="169.17" cy="319.34" r="0.82" fill="#a81e44"/>
<circle cx="169.06" cy="310.42" r="0.82" fill="#a81e44"/>
<circle cx="168.66" cy="280.59" r="0.82" fill="#a81e44"/>
<circle cx="168.23" cy="320.48" r="0.82" fill="#a81e44"/>
<circle cx="168.26" cy="280.28" r="0.82" fill="#a81e44"/>
<circle cx="168.72" cy="301.37" r="0.82" fill="#a81e44"/>
<circle cx="168.64" cy="322.21" r="0.82" fill="#a81e44"/>
<circle cx="173.55" cy="322.3" r="0.82" fill="#a81e44"/>
<circle cx="173.36" cy="303.85" r="0.82" fill="#a81e44"/>
<circle cx="173.4" cy="320.49" r="0.82" fill="#a81e44"/>
<circle cx="173.1" cy="320.18" r="0.82" fill="#a81e44"/>
<circle cx="173.92" cy="318.22" r="0.82" fill="#a81e44"/>
<circle cx="173.94" cy="304.12" r="0.82" fill="#a81e44"/>
<circle cx="174" cy="330.32" r="0.82" fill="#a81e44"/>
<circle cx="173.83" cy="304.84" r="0.82" fill="#a81e44"/>
<circle cx="173.72" cy="300.42" r="0.82" fill="#a81e44"/>
<circle cx="173.79" cy="318.79" r="0.82" fill="#a81e44"/>
<circle cx="173.25" cy="322.86" r="0.82" fill="#a81e44"/>
<circle cx="173.39" cy="329.46" r="0.82" fill="#a81e44"/>
<circle cx="173.28" cy="303.24" r="0.82" fill="#a81e44"/>
<circle cx="173.05" cy="283.19" r="0.82" fill="#a81e44"/>
<circle cx="173.22" cy="299.99" r="0.82" fill="#a81e44"/>
<circle cx="173.82" cy="299.08" r="0.82" fill="#a81e44"/>
<circle cx="173.03" cy="292.86" r="0.82" fill="#a81e44"/>
<circle cx="173.62" cy="317.9" r="0.82" fill="#a81e44"/>
<circle cx="173.01" cy="278.21" r="0.82" fill="#a81e44"/>
<circle cx="173.72" cy="297.85" r="0.82" fill="#a81e44"/>
<circle cx="173.34" cy="287.27" r="0.82" fill="#a81e44"/>
<circle cx="173.47" cy="287.49" r="0.82" fill="#a81e44"/>
<circle cx="172.97" cy="281.56" r="0.82" fill="#a81e44"/>
<circle cx="173.41" cy="280.51" r="0.82" fill="#a81e44"/>
<circle cx="173.06" cy="309.21" r="0.82" fill="#a81e44"/>
<circle cx="173.77" cy="317.95" r="0.82" fill="#a81e44"/>
<circle cx="173.13" cy="294.59" r="0.82" fill="#a81e44"/>
<circle cx="173.11" cy="312.59" r="0.82" fill="#a81e44"/>
<circle cx="173.2" cy="320.46" r="0.82" fill="#a81e44"/>
<circle cx="174.03" cy="313.31" r="0.82" fill="#a81e44"/>
<circle cx="173.83" cy="277.44" r="0.82" fill="#a81e44"/>
<circle cx="173.51" cy="305.3" r="0.82" fill="#a81e44"/>
<circle cx="173.96" cy="289.18" r="0.82" fill="#a81e44"/>
<rect x="172.96" y="298.1" width="1.2" height="33.03" fill="#c2305a"/>
<circle cx="173.7" cy="306.31" r="0.7" fill="#a81e44"/>
<circle cx="173.69" cy="324.55" r="0.7" fill="#a81e44"/>
<circle cx="173.91" cy="303.19" r="0.7" fill="#a81e44"/>
<rect x="175.56" y="310.33" width="1.2" height="7.34" fill="#2f5f88"/>
<rect x="177.79" y="269.95" width="1.2" height="58.73" fill="#c2305a"/>
<circle cx="178.64" cy="323.26" r="0.7" fill="#a81e44"/>
<circle cx="177.87" cy="308.17" r="0.7" fill="#a81e44"/>
<circle cx="178.58" cy="271.97" r="0.7" fill="#a81e44"/>
<circle cx="177.83" cy="284.9" r="0.7" fill="#a81e44"/>
<circle cx="178.95" cy="280.03" r="0.7" fill="#a81e44"/>
<circle cx="178.61" cy="237.09" r="0.82" fill="#a81e44"/>
<circle cx="178.67" cy="240.01" r="0.82" fill="#a81e44"/>
<circle cx="178.27" cy="249.79" r="0.82" fill="#a81e44"/>
<circle cx="178.65" cy="240.31" r="0.82" fill="#a81e44"/>
<circle cx="178.12" cy="238.47" r="0.82" fill="#a81e44"/>
<circle cx="178.37" cy="234.83" r="0.82" fill="#a81e44"/>
<circle cx="177.92" cy="235.43" r="0.82" fill="#a81e44"/>
<circle cx="178.66" cy="234.52" r="0.82" fill="#a81e44"/>
<rect x="180.39" y="221.01" width="1.2" height="104" fill="#2f5f88"/>
<circle cx="181.41" cy="298.8" r="0.7" fill="#1f4a6e"/>
<circle cx="180.52" cy="300.88" r="0.7" fill="#1f4a6e"/>
<circle cx="180.57" cy="277.39" r="0.7" fill="#1f4a6e"/>
<circle cx="181.51" cy="273.78" r="0.7" fill="#1f4a6e"/>
<circle cx="181.23" cy="253.74" r="0.7" fill="#1f4a6e"/>
<circle cx="181.34" cy="284.24" r="0.7" fill="#1f4a6e"/>
<circle cx="181.2" cy="242.47" r="0.7" fill="#1f4a6e"/>
<circle cx="181.4" cy="227.08" r="0.7" fill="#1f4a6e"/>
<circle cx="180.36" cy="282.76" r="0.7" fill="#1f4a6e"/>
<circle cx="181.41" cy="257.16" r="0.7" fill="#1f4a6e"/>
<path d="M180.98 220.21L181.73 221.56L180.23 221.56Z" fill="#1f4a6e"/>
<rect x="182.62" y="269.95" width="1.2" height="52.61" fill="#c2305a"/>
<circle cx="183.58" cy="278.57" r="0.7" fill="#a81e44"/>
<circle cx="183.15" cy="322.33" r="0.7" fill="#a81e44"/>
<circle cx="182.62" cy="321.7" r="0.7" fill="#a81e44"/>
<circle cx="183.06" cy="279.82" r="0.7" fill="#a81e44"/>
<circle cx="183.11" cy="290.75" r="0.7" fill="#a81e44"/>
<circle cx="182.86" cy="255.18" r="0.82" fill="#a81e44"/>
<circle cx="183.55" cy="254.37" r="0.82" fill="#a81e44"/>
<circle cx="182.94" cy="242.68" r="0.82" fill="#a81e44"/>
<circle cx="182.92" cy="266.08" r="0.82" fill="#a81e44"/>
<circle cx="183.11" cy="239.07" r="0.82" fill="#a81e44"/>
<circle cx="183.51" cy="240.84" r="0.82" fill="#a81e44"/>
<circle cx="183.37" cy="264.64" r="0.82" fill="#a81e44"/>
<circle cx="183.53" cy="268.13" r="0.82" fill="#a81e44"/>
<circle cx="182.92" cy="261.85" r="0.82" fill="#a81e44"/>
<circle cx="183.02" cy="227.77" r="0.82" fill="#a81e44"/>
<circle cx="183.6" cy="329.21" r="0.82" fill="#a81e44"/>
<circle cx="183.6" cy="325.9" r="0.82" fill="#a81e44"/>
<circle cx="183.17" cy="327.75" r="0.82" fill="#a81e44"/>
<rect x="190.1" y="302.76" width="1.0" height="28.37" fill="#1f4a6e" fill-opacity="0.85"/>
<circle cx="190.61" cy="303.06" r="0.82" fill="#1f4a6e"/>
<circle cx="190.26" cy="302.1" r="0.82" fill="#1f4a6e"/>
<circle cx="190.23" cy="306.74" r="0.82" fill="#1f4a6e"/>
<circle cx="190.05" cy="315.65" r="0.82" fill="#1f4a6e"/>
<circle cx="191.09" cy="325.98" r="0.82" fill="#1f4a6e"/>
<circle cx="190.94" cy="317.78" r="0.82" fill="#1f4a6e"/>
<circle cx="190.44" cy="323.76" r="0.82" fill="#1f4a6e"/>
<circle cx="190.66" cy="328.17" r="0.82" fill="#1f4a6e"/>
<circle cx="190.62" cy="305.81" r="0.82" fill="#1f4a6e"/>
<circle cx="191.07" cy="320.07" r="0.82" fill="#1f4a6e"/>
<circle cx="190.78" cy="304.88" r="0.82" fill="#1f4a6e"/>
<circle cx="190.74" cy="328.9" r="0.82" fill="#1f4a6e"/>
<circle cx="191.1" cy="318.09" r="0.82" fill="#1f4a6e"/>
<circle cx="190.78" cy="320.5" r="0.82" fill="#1f4a6e"/>
<circle cx="190.46" cy="312.57" r="0.82" fill="#1f4a6e"/>
<circle cx="190.79" cy="315.8" r="0.82" fill="#1f4a6e"/>
<circle cx="190.6" cy="304.49" r="0.82" fill="#1f4a6e"/>
<circle cx="191.12" cy="320.45" r="0.82" fill="#1f4a6e"/>
<circle cx="190.97" cy="329.46" r="0.82" fill="#1f4a6e"/>
<circle cx="190.66" cy="311.06" r="0.82" fill="#1f4a6e"/>
<circle cx="190.88" cy="317.98" r="0.82" fill="#1f4a6e"/>
<circle cx="190.85" cy="304.96" r="0.82" fill="#1f4a6e"/>
<circle cx="190.09" cy="309.11" r="0.82" fill="#1f4a6e"/>
<circle cx="190.2" cy="321.58" r="0.82" fill="#1f4a6e"/>
<circle cx="191.03" cy="303.15" r="0.82" fill="#1f4a6e"/>
<circle cx="190.7" cy="326.89" r="0.82" fill="#1f4a6e"/>
<circle cx="190.1" cy="314.19" r="0.82" fill="#1f4a6e"/>
<circle cx="190.87" cy="319.61" r="0.82" fill="#1f4a6e"/>
<circle cx="190.36" cy="312.29" r="0.82" fill="#1f4a6e"/>
<circle cx="190.37" cy="308.74" r="0.82" fill="#1f4a6e"/>
<circle cx="190.51" cy="315.15" r="0.82" fill="#1f4a6e"/>
<circle cx="190.76" cy="302.41" r="0.82" fill="#1f4a6e"/>
<circle cx="190.79" cy="307.49" r="0.82" fill="#1f4a6e"/>
<circle cx="191.11" cy="319.96" r="0.82" fill="#1f4a6e"/>
<circle cx="190.81" cy="310.29" r="0.82" fill="#1f4a6e"/>
<circle cx="190.23" cy="322.98" r="0.82" fill="#1f4a6e"/>
<circle cx="190.96" cy="314.24" r="0.82" fill="#1f4a6e"/>
<circle cx="190.43" cy="307.82" r="0.82" fill="#1f4a6e"/>
<circle cx="190.62" cy="327.02" r="0.82" fill="#1f4a6e"/>
<circle cx="190.23" cy="305.37" r="0.82" fill="#1f4a6e"/>
<circle cx="190.24" cy="309.45" r="0.82" fill="#1f4a6e"/>
<circle cx="190.11" cy="321.97" r="0.82" fill="#1f4a6e"/>
<circle cx="190.47" cy="322.39" r="0.82" fill="#1f4a6e"/>
<circle cx="191.11" cy="302.74" r="0.82" fill="#1f4a6e"/>
<circle cx="187.79" cy="329.53" r="0.82" fill="#a81e44"/>
<circle cx="187.67" cy="323.05" r="0.82" fill="#a81e44"/>
<circle cx="187.93" cy="328.38" r="0.82" fill="#a81e44"/>
<rect x="192.28" y="291.98" width="1.2" height="39.15" fill="#c2305a"/>
<circle cx="192.49" cy="326.88" r="0.7" fill="#a81e44"/>
<circle cx="192.67" cy="315.7" r="0.7" fill="#a81e44"/>
<circle cx="192.5" cy="293.4" r="0.7" fill="#a81e44"/>
<circle cx="193.28" cy="278" r="0.82" fill="#a81e44"/>
<circle cx="193.2" cy="261.13" r="0.82" fill="#a81e44"/>
<circle cx="193.14" cy="248.33" r="0.82" fill="#a81e44"/>
<circle cx="192.45" cy="270.41" r="0.82" fill="#a81e44"/>
<circle cx="192.8" cy="240.11" r="0.82" fill="#a81e44"/>
<circle cx="193.02" cy="253.69" r="0.82" fill="#a81e44"/>
<circle cx="192.58" cy="240.41" r="0.82" fill="#a81e44"/>
<circle cx="193.29" cy="267.12" r="0.82" fill="#a81e44"/>
<circle cx="192.6" cy="255.71" r="0.82" fill="#a81e44"/>
<circle cx="192.57" cy="248.8" r="0.82" fill="#a81e44"/>
<circle cx="192.33" cy="239.13" r="0.82" fill="#a81e44"/>
<circle cx="192.9" cy="235.34" r="0.82" fill="#a81e44"/>
<circle cx="193.31" cy="267.75" r="0.82" fill="#a81e44"/>
<circle cx="192.55" cy="273.79" r="0.82" fill="#a81e44"/>
<rect x="194.88" y="290.75" width="1.2" height="40.38" fill="#2f5f88"/>
<circle cx="195.5" cy="328.31" r="0.7" fill="#1f4a6e"/>
<circle cx="195.68" cy="300.7" r="0.7" fill="#1f4a6e"/>
<circle cx="195.86" cy="314.47" r="0.7" fill="#1f4a6e"/>
<circle cx="197.45" cy="325.28" r="0.82" fill="#a81e44"/>
<circle cx="198.17" cy="308.96" r="0.82" fill="#a81e44"/>
<circle cx="197.87" cy="309.29" r="0.82" fill="#a81e44"/>
<circle cx="197.54" cy="304.99" r="0.82" fill="#a81e44"/>
<circle cx="197.93" cy="299.92" r="0.82" fill="#a81e44"/>
<circle cx="197.54" cy="318.23" r="0.82" fill="#a81e44"/>
<circle cx="197.49" cy="304.04" r="0.82" fill="#a81e44"/>
<circle cx="198.07" cy="323" r="0.82" fill="#a81e44"/>
<circle cx="197.68" cy="312.42" r="0.82" fill="#a81e44"/>
<circle cx="198.1" cy="308.21" r="0.82" fill="#a81e44"/>
<circle cx="197.48" cy="324.6" r="0.82" fill="#a81e44"/>
<circle cx="197.56" cy="326.67" r="0.82" fill="#a81e44"/>
<circle cx="198.05" cy="313.32" r="0.82" fill="#a81e44"/>
<circle cx="197.75" cy="308.26" r="0.82" fill="#a81e44"/>
<circle cx="197.74" cy="316.33" r="0.82" fill="#a81e44"/>
<circle cx="198.04" cy="320.31" r="0.82" fill="#a81e44"/>
<circle cx="202.86" cy="290.09" r="0.82" fill="#a81e44"/>
<circle cx="202.68" cy="321.28" r="0.82" fill="#a81e44"/>
<circle cx="202.49" cy="291.78" r="0.82" fill="#a81e44"/>
<circle cx="202.93" cy="284.72" r="0.82" fill="#a81e44"/>
<circle cx="202.84" cy="292.32" r="0.82" fill="#a81e44"/>
<circle cx="202.91" cy="296.93" r="0.82" fill="#a81e44"/>
<circle cx="202.71" cy="322.26" r="0.82" fill="#a81e44"/>
<circle cx="202.61" cy="294.24" r="0.82" fill="#a81e44"/>
<circle cx="202.01" cy="315.22" r="0.82" fill="#a81e44"/>
<circle cx="202.85" cy="299.15" r="0.82" fill="#a81e44"/>
<circle cx="202.17" cy="315.32" r="0.82" fill="#a81e44"/>
<circle cx="202.04" cy="317.73" r="0.82" fill="#a81e44"/>
<circle cx="203.01" cy="295.6" r="0.82" fill="#a81e44"/>
<circle cx="202.34" cy="289.43" r="0.82" fill="#a81e44"/>
<circle cx="202.02" cy="294.45" r="0.82" fill="#a81e44"/>
<circle cx="202.3" cy="287.64" r="0.82" fill="#a81e44"/>
<circle cx="202.63" cy="328.51" r="0.82" fill="#a81e44"/>
<circle cx="202.24" cy="321.89" r="0.82" fill="#a81e44"/>
<circle cx="202.43" cy="325.79" r="0.82" fill="#a81e44"/>
<circle cx="202.83" cy="301.53" r="0.82" fill="#a81e44"/>
<circle cx="202.85" cy="326.74" r="0.82" fill="#a81e44"/>
<circle cx="202.19" cy="323.27" r="0.82" fill="#a81e44"/>
<circle cx="202.31" cy="297.88" r="0.82" fill="#a81e44"/>
<circle cx="202.57" cy="312.48" r="0.82" fill="#a81e44"/>
<circle cx="202.81" cy="318.02" r="0.82" fill="#a81e44"/>
<circle cx="202.86" cy="318.45" r="0.82" fill="#a81e44"/>
<circle cx="202.53" cy="289.1" r="0.82" fill="#a81e44"/>
<circle cx="202.8" cy="327.19" r="0.82" fill="#a81e44"/>
<rect x="201.94" y="320.12" width="1.2" height="11.01" fill="#c2305a"/>
<circle cx="202.5" cy="330.82" r="0.7" fill="#a81e44"/>
<rect x="204.54" y="307.88" width="1.2" height="20.8" fill="#2f5f88"/>
<circle cx="204.48" cy="319.87" r="0.7" fill="#1f4a6e"/>
<circle cx="207.57" cy="281" r="0.82" fill="#a81e44"/>
<circle cx="207.21" cy="282.05" r="0.82" fill="#a81e44"/>
<circle cx="207.42" cy="283.74" r="0.82" fill="#a81e44"/>
<circle cx="207.72" cy="290.39" r="0.82" fill="#a81e44"/>
<circle cx="207.65" cy="272.5" r="0.82" fill="#a81e44"/>
<circle cx="207.13" cy="273.3" r="0.82" fill="#a81e44"/>
<circle cx="206.85" cy="272.72" r="0.82" fill="#a81e44"/>
<circle cx="206.92" cy="284.54" r="0.82" fill="#a81e44"/>
<rect x="206.77" y="295.65" width="1.2" height="35.48" fill="#c2305a"/>
<circle cx="207.58" cy="315.02" r="0.7" fill="#a81e44"/>
<circle cx="207.26" cy="305.99" r="0.7" fill="#a81e44"/>
<circle cx="206.89" cy="319.01" r="0.7" fill="#a81e44"/>
<rect x="209.37" y="279.74" width="1.2" height="51.39" fill="#2f5f88"/>
<circle cx="209.62" cy="310.43" r="0.7" fill="#1f4a6e"/>
<circle cx="210.25" cy="321.15" r="0.7" fill="#1f4a6e"/>
<circle cx="209.83" cy="304.6" r="0.7" fill="#1f4a6e"/>
<circle cx="210.21" cy="320.97" r="0.7" fill="#1f4a6e"/>
<circle cx="209.66" cy="328" r="0.82" fill="#1f4a6e"/>
<circle cx="210.14" cy="322.22" r="0.82" fill="#1f4a6e"/>
<circle cx="210.19" cy="315.65" r="0.82" fill="#1f4a6e"/>
<circle cx="210.38" cy="316.05" r="0.82" fill="#1f4a6e"/>
<circle cx="210.16" cy="319.64" r="0.82" fill="#1f4a6e"/>
<circle cx="209.6" cy="330.13" r="0.82" fill="#1f4a6e"/>
<circle cx="210.32" cy="330.92" r="0.82" fill="#1f4a6e"/>
<circle cx="210.06" cy="319.65" r="0.82" fill="#1f4a6e"/>
<circle cx="209.76" cy="326.93" r="0.82" fill="#1f4a6e"/>
<circle cx="210.07" cy="328.53" r="0.82" fill="#1f4a6e"/>
<circle cx="209.71" cy="315.36" r="0.82" fill="#1f4a6e"/>
<circle cx="209.56" cy="330.43" r="0.82" fill="#1f4a6e"/>
<circle cx="210.36" cy="325.48" r="0.82" fill="#1f4a6e"/>
<circle cx="209.87" cy="318.33" r="0.82" fill="#1f4a6e"/>
<circle cx="209.49" cy="329.5" r="0.82" fill="#1f4a6e"/>
<circle cx="210.23" cy="328.68" r="0.82" fill="#1f4a6e"/>
<circle cx="210.46" cy="323.63" r="0.82" fill="#1f4a6e"/>
<circle cx="210.24" cy="316.63" r="0.82" fill="#1f4a6e"/>
<circle cx="210.27" cy="323.55" r="0.82" fill="#1f4a6e"/>
<circle cx="209.49" cy="329.09" r="0.82" fill="#1f4a6e"/>
<circle cx="209.93" cy="322.17" r="0.82" fill="#1f4a6e"/>
<circle cx="209.65" cy="327.8" r="0.82" fill="#1f4a6e"/>
<circle cx="210.37" cy="330.79" r="0.82" fill="#1f4a6e"/>
<circle cx="210.41" cy="319.83" r="0.82" fill="#1f4a6e"/>
<circle cx="209.85" cy="315.53" r="0.82" fill="#1f4a6e"/>
<circle cx="209.79" cy="319.48" r="0.82" fill="#1f4a6e"/>
<circle cx="210.3" cy="318.22" r="0.82" fill="#1f4a6e"/>
<circle cx="209.38" cy="329" r="0.82" fill="#1f4a6e"/>
<circle cx="210.01" cy="327.73" r="0.82" fill="#1f4a6e"/>
<circle cx="209.38" cy="325.1" r="0.82" fill="#1f4a6e"/>
<circle cx="210.23" cy="317.92" r="0.82" fill="#1f4a6e"/>
<circle cx="209.42" cy="323.75" r="0.82" fill="#1f4a6e"/>
<circle cx="209.96" cy="316.99" r="0.82" fill="#1f4a6e"/>
<circle cx="209.73" cy="330" r="0.82" fill="#1f4a6e"/>
<circle cx="210.34" cy="321.2" r="0.82" fill="#1f4a6e"/>
<circle cx="210.07" cy="323.42" r="0.82" fill="#1f4a6e"/>
<circle cx="209.64" cy="327.86" r="0.82" fill="#1f4a6e"/>
<circle cx="209.79" cy="316.72" r="0.82" fill="#1f4a6e"/>
<circle cx="210.02" cy="329.48" r="0.82" fill="#1f4a6e"/>
<rect x="211.6" y="273.62" width="1.2" height="57.5" fill="#c2305a"/>
<circle cx="211.73" cy="323.87" r="0.7" fill="#a81e44"/>
<circle cx="212.27" cy="304.88" r="0.7" fill="#a81e44"/>
<circle cx="212.44" cy="294.53" r="0.7" fill="#a81e44"/>
<circle cx="211.54" cy="305.85" r="0.7" fill="#a81e44"/>
<circle cx="211.53" cy="289.47" r="0.7" fill="#a81e44"/>
<rect x="214.2" y="325.01" width="1.2" height="6.12" fill="#2f5f88"/>
<circle cx="216.87" cy="309.1" r="0.82" fill="#a81e44"/>
<circle cx="217.22" cy="300.69" r="0.82" fill="#a81e44"/>
<circle cx="217.14" cy="318.71" r="0.82" fill="#a81e44"/>
<circle cx="216.95" cy="299.89" r="0.82" fill="#a81e44"/>
<circle cx="217.43" cy="322.78" r="0.82" fill="#a81e44"/>
<circle cx="216.5" cy="303.76" r="0.82" fill="#a81e44"/>
<circle cx="217.52" cy="318.76" r="0.82" fill="#a81e44"/>
<circle cx="216.86" cy="319.17" r="0.82" fill="#a81e44"/>
<circle cx="217.34" cy="295.9" r="0.82" fill="#a81e44"/>
<circle cx="217.25" cy="302.31" r="0.82" fill="#a81e44"/>
<circle cx="216.53" cy="327.09" r="0.82" fill="#a81e44"/>
<circle cx="217.31" cy="288.08" r="0.82" fill="#a81e44"/>
<circle cx="216.48" cy="327.1" r="0.82" fill="#a81e44"/>
<circle cx="217.45" cy="318.68" r="0.82" fill="#a81e44"/>
<circle cx="217.17" cy="319.55" r="0.82" fill="#a81e44"/>
<circle cx="217.13" cy="289.98" r="0.82" fill="#a81e44"/>
<circle cx="216.72" cy="290.44" r="0.82" fill="#a81e44"/>
<circle cx="216.45" cy="322.3" r="0.82" fill="#a81e44"/>
<circle cx="216.54" cy="297.19" r="0.82" fill="#a81e44"/>
<circle cx="217.21" cy="288.2" r="0.82" fill="#a81e44"/>
<circle cx="217.32" cy="320.91" r="0.82" fill="#a81e44"/>
<circle cx="216.99" cy="321.91" r="0.82" fill="#a81e44"/>
<circle cx="217.3" cy="324.28" r="0.82" fill="#a81e44"/>
<circle cx="217.44" cy="291.67" r="0.82" fill="#a81e44"/>
<circle cx="217.37" cy="328.59" r="0.82" fill="#a81e44"/>
<circle cx="217.33" cy="305.56" r="0.82" fill="#a81e44"/>
<circle cx="217.11" cy="307.78" r="0.82" fill="#a81e44"/>
<circle cx="217.31" cy="303.95" r="0.82" fill="#a81e44"/>
<circle cx="219.31" cy="322.56" r="0.82" fill="#1f4a6e"/>
<rect x="221.26" y="269.95" width="1.2" height="61.18" fill="#c2305a"/>
<circle cx="221.52" cy="297.76" r="0.7" fill="#a81e44"/>
<circle cx="221.12" cy="306.85" r="0.7" fill="#a81e44"/>
<circle cx="221.14" cy="285.55" r="0.7" fill="#a81e44"/>
<circle cx="222.25" cy="280.37" r="0.7" fill="#a81e44"/>
<circle cx="221.28" cy="303.11" r="0.7" fill="#a81e44"/>
<circle cx="221.49" cy="254.05" r="0.82" fill="#a81e44"/>
<circle cx="221.38" cy="259.46" r="0.82" fill="#a81e44"/>
<circle cx="221.86" cy="246.06" r="0.82" fill="#a81e44"/>
<circle cx="221.36" cy="261.33" r="0.82" fill="#a81e44"/>
<circle cx="222.19" cy="252.09" r="0.82" fill="#a81e44"/>
<circle cx="221.37" cy="249.2" r="0.82" fill="#a81e44"/>
<circle cx="221.59" cy="260.96" r="0.82" fill="#a81e44"/>
<circle cx="226.25" cy="328.33" r="0.82" fill="#a81e44"/>
<circle cx="227.17" cy="328.9" r="0.82" fill="#a81e44"/>
<circle cx="226.1" cy="328.31" r="0.82" fill="#a81e44"/>
<rect x="230.92" y="300.54" width="1.2" height="31.81" fill="#c2305a"/>
<circle cx="230.93" cy="329.97" r="0.7" fill="#a81e44"/>
<circle cx="231.61" cy="310.33" r="0.7" fill="#a81e44"/>
<circle cx="231.41" cy="315.81" r="0.7" fill="#a81e44"/>
<circle cx="231.59" cy="292.07" r="0.82" fill="#a81e44"/>
<circle cx="231.93" cy="287.05" r="0.82" fill="#a81e44"/>
<circle cx="231.8" cy="285.3" r="0.82" fill="#a81e44"/>
<circle cx="231.84" cy="281.55" r="0.82" fill="#a81e44"/>
<circle cx="230.95" cy="285.64" r="0.82" fill="#a81e44"/>
<circle cx="231.85" cy="286.38" r="0.82" fill="#a81e44"/>
<circle cx="231.89" cy="291.58" r="0.82" fill="#a81e44"/>
<circle cx="231.96" cy="296.8" r="0.82" fill="#a81e44"/>
<circle cx="231.7" cy="291.35" r="0.82" fill="#a81e44"/>
<circle cx="231.25" cy="295.29" r="0.82" fill="#a81e44"/>
<circle cx="231.28" cy="293.29" r="0.82" fill="#a81e44"/>
<circle cx="231.41" cy="298.57" r="0.82" fill="#a81e44"/>
<circle cx="231.64" cy="280.14" r="0.82" fill="#a81e44"/>
<circle cx="231.76" cy="281.15" r="0.82" fill="#a81e44"/>
<rect x="233.52" y="300.54" width="1.2" height="31.81" fill="#2f5f88"/>
<circle cx="234.76" cy="305.73" r="0.7" fill="#1f4a6e"/>
<circle cx="233.75" cy="308.41" r="0.7" fill="#1f4a6e"/>
<circle cx="233.95" cy="324.41" r="0.7" fill="#1f4a6e"/>
<circle cx="233.91" cy="272.4" r="0.82" fill="#1f4a6e"/>
<rect x="235.75" y="306.66" width="1.2" height="25.69" fill="#c2305a"/>
<circle cx="236.89" cy="309.58" r="0.7" fill="#a81e44"/>
<circle cx="236.68" cy="323.91" r="0.7" fill="#a81e44"/>
<rect x="240.58" y="307.88" width="1.2" height="23.25" fill="#c2305a"/>
<circle cx="241.68" cy="313.11" r="0.7" fill="#a81e44"/>
<circle cx="241.17" cy="312.66" r="0.7" fill="#a81e44"/>
<circle cx="241.49" cy="328.69" r="0.82" fill="#a81e44"/>
<circle cx="241.27" cy="323.84" r="0.82" fill="#a81e44"/>
<circle cx="241.17" cy="322.6" r="0.82" fill="#a81e44"/>
<circle cx="240.76" cy="308.68" r="0.82" fill="#a81e44"/>
<circle cx="241.29" cy="318.79" r="0.82" fill="#a81e44"/>
<circle cx="241.61" cy="318.61" r="0.82" fill="#a81e44"/>
<circle cx="241.59" cy="321.66" r="0.82" fill="#a81e44"/>
<circle cx="241.64" cy="315.09" r="0.82" fill="#a81e44"/>
<circle cx="245.64" cy="331.91" r="0.82" fill="#a81e44"/>
<circle cx="246.41" cy="330.95" r="0.82" fill="#a81e44"/>
<circle cx="245.7" cy="332.29" r="0.82" fill="#a81e44"/>
<circle cx="253.93" cy="323.6" r="0.82" fill="#1f4a6e"/>
<circle cx="253.32" cy="330.2" r="0.82" fill="#1f4a6e"/>
<circle cx="253.6" cy="323.95" r="0.82" fill="#1f4a6e"/>
<circle cx="253.67" cy="323.23" r="0.82" fill="#1f4a6e"/>
<circle cx="253.12" cy="329.31" r="0.82" fill="#1f4a6e"/>
<circle cx="253.6" cy="332.01" r="0.82" fill="#1f4a6e"/>
<circle cx="253.13" cy="329.79" r="0.82" fill="#1f4a6e"/>
<circle cx="253.55" cy="320.55" r="0.82" fill="#1f4a6e"/>
<circle cx="250.96" cy="330.91" r="0.82" fill="#a81e44"/>
<circle cx="251" cy="330.89" r="0.82" fill="#a81e44"/>
<circle cx="250.31" cy="331.61" r="0.82" fill="#a81e44"/>
<line x1="44.4" y1="340" x2="44.4" y2="342.6" stroke="#222" stroke-width="0.7"/>
<text transform="translate(45.6,346.2) rotate(-90)" font-size="3.4" fill="#777" text-anchor="end">DNMT3A</text>
<line x1="49.23" y1="340" x2="49.23" y2="342.6" stroke="#222" stroke-width="0.7"/>
<text transform="translate(50.43,346.2) rotate(-90)" font-size="3.4" fill="#777" text-anchor="end">TET2</text>
<line x1="54.06" y1="340" x2="54.06" y2="342.6" stroke="#222" stroke-width="0.7"/>
<text transform="translate(55.26,346.2) rotate(-90)" font-size="3.4" fill="#777" text-anchor="end">ASXL1</text>
<line x1="58.89" y1="340" x2="58.89" y2="342.6" stroke="#222" stroke-width="0.7"/>
<text transform="translate(60.09,346.2) rotate(-90)" font-size="3.4" fill="#777" text-anchor="end">DDX41</text>
<line x1="63.72" y1="340" x2="63.72" y2="342.6" stroke="#222" stroke-width="0.7"/>
<text transform="translate(64.92,346.2) rotate(-90)" font-size="3.4" fill="#777" text-anchor="end">SRSF2</text>
<line x1="68.55" y1="340" x2="68.55" y2="342.6" stroke="#222" stroke-width="0.7"/>
<text transform="translate(69.75,346.2) rotate(-90)" font-size="3.4" fill="#777" text-anchor="end">BCORL1</text>
<line x1="73.38" y1="340" x2="73.38" y2="342.6" stroke="#222" stroke-width="0.7"/>
<text transform="translate(74.58,346.2) rotate(-90)" font-size="3.4" fill="#777" text-anchor="end">SF3B1</text>
<line x1="78.21" y1="340" x2="78.21" y2="342.6" stroke="#222" stroke-width="0.7"/>
<text transform="translate(79.41,346.2) rotate(-90)" font-size="3.4" fill="#777" text-anchor="end">TP53</text>
<line x1="83.04" y1="340" x2="83.04" y2="342.6" stroke="#222" stroke-width="0.7"/>
<text transform="translate(84.24,346.2) rotate(-90)" font-size="3.4" fill="#777" text-anchor="end">RUNX1</text>
<line x1="87.87" y1="340" x2="87.87" y2="342.6" stroke="#222" stroke-width="0.7"/>
<text transform="translate(89.07,346.2) rotate(-90)" font-size="3.4" fill="#777" text-anchor="end">U2AF1</text>
<line x1="92.7" y1="340" x2="92.7" y2="342.6" stroke="#222" stroke-width="0.7"/>
<text transform="translate(93.9,346.2) rotate(-90)" font-size="3.4" fill="#777" text-anchor="end">STAG2</text>
<line x1="97.53" y1="340" x2="97.53" y2="342.6" stroke="#222" stroke-width="0.7"/>
<text transform="translate(98.73,346.2) rotate(-90)" font-size="3.4" fill="#777" text-anchor="end">ZRSR2</text>
<line x1="102.36" y1="340" x2="102.36" y2="342.6" stroke="#222" stroke-width="0.7"/>
<text transform="translate(103.56,346.2) rotate(-90)" font-size="3.4" fill="#777" text-anchor="end">IDH2</text>
<line x1="107.19" y1="340" x2="107.19" y2="342.6" stroke="#222" stroke-width="0.7"/>
<text transform="translate(108.39,346.2) rotate(-90)" font-size="3.4" fill="#777" text-anchor="end">BCOR</text>
<line x1="112.02" y1="340" x2="112.02" y2="342.6" stroke="#222" stroke-width="0.7"/>
<text transform="translate(113.22,346.2) rotate(-90)" font-size="3.4" fill="#777" text-anchor="end">CEBPA</text>
<line x1="116.85" y1="340" x2="116.85" y2="342.6" stroke="#222" stroke-width="0.7"/>
<text transform="translate(118.05,346.2) rotate(-90)" font-size="3.4" fill="#777" text-anchor="end">NRAS</text>
<line x1="121.68" y1="340" x2="121.68" y2="342.6" stroke="#222" stroke-width="0.7"/>
<text transform="translate(122.88,346.2) rotate(-90)" font-size="3.4" fill="#777" text-anchor="end">PPM1D</text>
<line x1="126.51" y1="340" x2="126.51" y2="342.6" stroke="#222" stroke-width="0.7"/>
<text transform="translate(127.71,346.2) rotate(-90)" font-size="3.4" fill="#777" text-anchor="end">KRAS</text>
<line x1="131.34" y1="340" x2="131.34" y2="342.6" stroke="#222" stroke-width="0.7"/>
<text transform="translate(132.54,346.2) rotate(-90)" font-size="3.4" fill="#777" text-anchor="end">JAK2</text>
<line x1="136.17" y1="340" x2="136.17" y2="342.6" stroke="#222" stroke-width="0.7"/>
<text transform="translate(137.37,346.2) rotate(-90)" font-size="3.4" fill="#777" text-anchor="end">CHEK2</text>
<line x1="141" y1="340" x2="141" y2="342.6" stroke="#222" stroke-width="0.7"/>
<text transform="translate(142.2,346.2) rotate(-90)" font-size="3.4" fill="#777" text-anchor="end">IDH1</text>
<line x1="145.83" y1="340" x2="145.83" y2="342.6" stroke="#222" stroke-width="0.7"/>
<text transform="translate(147.03,346.2) rotate(-90)" font-size="3.4" fill="#777" text-anchor="end">CUX1</text>
<line x1="150.66" y1="340" x2="150.66" y2="342.6" stroke="#222" stroke-width="0.7"/>
<text transform="translate(151.86,346.2) rotate(-90)" font-size="3.4" fill="#777" text-anchor="end">BCORL1</text>
<line x1="155.49" y1="340" x2="155.49" y2="342.6" stroke="#222" stroke-width="0.7"/>
<text transform="translate(156.69,346.2) rotate(-90)" font-size="3.4" fill="#777" text-anchor="end">PHF6</text>
<line x1="160.32" y1="340" x2="160.32" y2="342.6" stroke="#222" stroke-width="0.7"/>
<text transform="translate(161.52,346.2) rotate(-90)" font-size="3.4" fill="#777" text-anchor="end">ATM</text>
<line x1="165.15" y1="340" x2="165.15" y2="342.6" stroke="#222" stroke-width="0.7"/>
<text transform="translate(166.35,346.2) rotate(-90)" font-size="3.4" fill="#777" text-anchor="end">SETBP1</text>
<line x1="169.98" y1="340" x2="169.98" y2="342.6" stroke="#222" stroke-width="0.7"/>
<text transform="translate(171.18,346.2) rotate(-90)" font-size="3.4" fill="#777" text-anchor="end">ETV6</text>
<line x1="174.81" y1="340" x2="174.81" y2="342.6" stroke="#222" stroke-width="0.7"/>
<text transform="translate(176.01,346.2) rotate(-90)" font-size="3.4" fill="#777" text-anchor="end">GNB1</text>
<line x1="179.64" y1="340" x2="179.64" y2="342.6" stroke="#222" stroke-width="0.7"/>
<text transform="translate(180.84,346.2) rotate(-90)" font-size="3.4" fill="#777" text-anchor="end">NPM1</text>
<line x1="184.47" y1="340" x2="184.47" y2="342.6" stroke="#222" stroke-width="0.7"/>
<text transform="translate(185.67,346.2) rotate(-90)" font-size="3.4" fill="#777" text-anchor="end">FLT3</text>
<line x1="189.3" y1="340" x2="189.3" y2="342.6" stroke="#222" stroke-width="0.7"/>
<text transform="translate(190.5,346.2) rotate(-90)" font-size="3.4" fill="#777" text-anchor="end">KMT2D</text>
<line x1="194.13" y1="340" x2="194.13" y2="342.6" stroke="#222" stroke-width="0.7"/>
<text transform="translate(195.33,346.2) rotate(-90)" font-size="3.4" fill="#777" text-anchor="end">WT1</text>
<line x1="198.96" y1="340" x2="198.96" y2="342.6" stroke="#222" stroke-width="0.7"/>
<text transform="translate(200.16,346.2) rotate(-90)" font-size="3.4" fill="#777" text-anchor="end">CSF3R</text>
<line x1="203.79" y1="340" x2="203.79" y2="342.6" stroke="#222" stroke-width="0.7"/>
<text transform="translate(204.99,346.2) rotate(-90)" font-size="3.4" fill="#777" text-anchor="end">PTPN11</text>
<line x1="208.62" y1="340" x2="208.62" y2="342.6" stroke="#222" stroke-width="0.7"/>
<text transform="translate(209.82,346.2) rotate(-90)" font-size="3.4" fill="#777" text-anchor="end">GATA2</text>
<line x1="213.45" y1="340" x2="213.45" y2="342.6" stroke="#222" stroke-width="0.7"/>
<text transform="translate(214.65,346.2) rotate(-90)" font-size="3.4" fill="#777" text-anchor="end">SMC3</text>
<line x1="218.28" y1="340" x2="218.28" y2="342.6" stroke="#222" stroke-width="0.7"/>
<text transform="translate(219.48,346.2) rotate(-90)" font-size="3.4" fill="#777" text-anchor="end">RAD21</text>
<line x1="223.11" y1="340" x2="223.11" y2="342.6" stroke="#222" stroke-width="0.7"/>
<text transform="translate(224.31,346.2) rotate(-90)" font-size="3.4" fill="#777" text-anchor="end">NF1</text>
<line x1="227.94" y1="340" x2="227.94" y2="342.6" stroke="#222" stroke-width="0.7"/>
<text transform="translate(229.14,346.2) rotate(-90)" font-size="3.4" fill="#777" text-anchor="end">CEBPA</text>
<line x1="232.77" y1="340" x2="232.77" y2="342.6" stroke="#222" stroke-width="0.7"/>
<text transform="translate(233.97,346.2) rotate(-90)" font-size="3.4" fill="#777" text-anchor="end">SH2B3</text>
<line x1="237.6" y1="340" x2="237.6" y2="342.6" stroke="#222" stroke-width="0.7"/>
<text transform="translate(238.8,346.2) rotate(-90)" font-size="3.4" fill="#777" text-anchor="end">GNAS</text>
<line x1="242.43" y1="340" x2="242.43" y2="342.6" stroke="#222" stroke-width="0.7"/>
<text transform="translate(243.63,346.2) rotate(-90)" font-size="3.4" fill="#777" text-anchor="end">KIT</text>
<line x1="247.26" y1="340" x2="247.26" y2="342.6" stroke="#222" stroke-width="0.7"/>
<text transform="translate(248.46,346.2) rotate(-90)" font-size="3.4" fill="#777" text-anchor="end">MPL</text>
<line x1="252.09" y1="340" x2="252.09" y2="342.6" stroke="#222" stroke-width="0.7"/>
<text transform="translate(253.29,346.2) rotate(-90)" font-size="3.4" fill="#777" text-anchor="end">BRAF</text>
<line x1="30.9" y1="334.8" x2="33.5" y2="334.8" stroke="#222" stroke-width="0.8"/>
<text x="27.3" y="336.9" font-size="5.9" fill="#333" stroke="#333" stroke-width="0.12" text-anchor="end">0.0</text>
<line x1="30.9" y1="310.33" x2="33.5" y2="310.33" stroke="#222" stroke-width="0.8"/>
<text x="27.3" y="312.43" font-size="5.9" fill="#333" stroke="#333" stroke-width="0.12" text-anchor="end">0.2</text>
<line x1="30.9" y1="285.86" x2="33.5" y2="285.86" stroke="#222" stroke-width="0.8"/>
<text x="27.3" y="287.96" font-size="5.9" fill="#333" stroke="#333" stroke-width="0.12" text-anchor="end">0.4</text>
<line x1="30.9" y1="261.39" x2="33.5" y2="261.39" stroke="#222" stroke-width="0.8"/>
<text x="27.3" y="263.49" font-size="5.9" fill="#333" stroke="#333" stroke-width="0.12" text-anchor="end">0.6</text>
<line x1="30.9" y1="236.92" x2="33.5" y2="236.92" stroke="#222" stroke-width="0.8"/>
<text x="27.3" y="239.02" font-size="5.9" fill="#333" stroke="#333" stroke-width="0.12" text-anchor="end">0.8</text>
<line x1="30.9" y1="212.45" x2="33.5" y2="212.45" stroke="#222" stroke-width="0.8"/>
<text x="27.3" y="214.55" font-size="5.9" fill="#333" stroke="#333" stroke-width="0.12" text-anchor="end">1.0</text>
<text transform="translate(11.6,270.5) rotate(-90)" font-size="6.4" fill="#222" stroke="#222" stroke-width="0.22" text-anchor="middle" textLength="35" lengthAdjust="spacingAndGlyphs">Maximum VAF</text>
<rect x="283.3" y="201" width="227.39999999999998" height="139" fill="none" stroke="#222" stroke-width="0.9"/>
<line x1="291.6" y1="209" x2="291.6" y2="335.5" stroke="#dedede" stroke-width="0.85"/>
<line x1="296.81" y1="209" x2="296.81" y2="335.5" stroke="#dedede" stroke-width="0.85"/>
<line x1="302.02" y1="209" x2="302.02" y2="335.5" stroke="#dedede" stroke-width="0.85"/>
<line x1="307.23" y1="209" x2="307.23" y2="335.5" stroke="#dedede" stroke-width="0.85"/>
<line x1="312.44" y1="209" x2="312.44" y2="335.5" stroke="#dedede" stroke-width="0.85"/>
<line x1="317.65" y1="209" x2="317.65" y2="335.5" stroke="#dedede" stroke-width="0.85"/>
<line x1="322.86" y1="209" x2="322.86" y2="335.5" stroke="#dedede" stroke-width="0.85"/>
<line x1="328.07" y1="209" x2="328.07" y2="335.5" stroke="#dedede" stroke-width="0.85"/>
<line x1="333.28" y1="209" x2="333.28" y2="335.5" stroke="#dedede" stroke-width="0.85"/>
<line x1="338.49" y1="209" x2="338.49" y2="335.5" stroke="#dedede" stroke-width="0.85"/>
<line x1="343.7" y1="209" x2="343.7" y2="335.5" stroke="#dedede" stroke-width="0.85"/>
<line x1="348.91" y1="209" x2="348.91" y2="335.5" stroke="#dedede" stroke-width="0.85"/>
<line x1="354.12" y1="209" x2="354.12" y2="335.5" stroke="#dedede" stroke-width="0.85"/>
<line x1="359.33" y1="209" x2="359.33" y2="335.5" stroke="#dedede" stroke-width="0.85"/>
<line x1="364.54" y1="209" x2="364.54" y2="335.5" stroke="#dedede" stroke-width="0.85"/>
<line x1="369.75" y1="209" x2="369.75" y2="335.5" stroke="#dedede" stroke-width="0.85"/>
<line x1="374.96" y1="209" x2="374.96" y2="335.5" stroke="#dedede" stroke-width="0.85"/>
<line x1="380.17" y1="209" x2="380.17" y2="335.5" stroke="#dedede" stroke-width="0.85"/>
<line x1="385.38" y1="209" x2="385.38" y2="335.5" stroke="#dedede" stroke-width="0.85"/>
<line x1="390.59" y1="209" x2="390.59" y2="335.5" stroke="#dedede" stroke-width="0.85"/>
<line x1="395.8" y1="209" x2="395.8" y2="335.5" stroke="#dedede" stroke-width="0.85"/>
<line x1="401.01" y1="209" x2="401.01" y2="335.5" stroke="#dedede" stroke-width="0.85"/>
<line x1="406.22" y1="209" x2="406.22" y2="335.5" stroke="#dedede" stroke-width="0.85"/>
<line x1="411.43" y1="209" x2="411.43" y2="335.5" stroke="#dedede" stroke-width="0.85"/>
<line x1="416.64" y1="209" x2="416.64" y2="335.5" stroke="#dedede" stroke-width="0.85"/>
<line x1="421.85" y1="209" x2="421.85" y2="335.5" stroke="#dedede" stroke-width="0.85"/>
<line x1="427.06" y1="209" x2="427.06" y2="335.5" stroke="#dedede" stroke-width="0.85"/>
<line x1="432.27" y1="209" x2="432.27" y2="335.5" stroke="#dedede" stroke-width="0.85"/>
<line x1="437.48" y1="209" x2="437.48" y2="335.5" stroke="#dedede" stroke-width="0.85"/>
<line x1="442.69" y1="209" x2="442.69" y2="335.5" stroke="#dedede" stroke-width="0.85"/>
<line x1="447.9" y1="209" x2="447.9" y2="335.5" stroke="#dedede" stroke-width="0.85"/>
<line x1="453.11" y1="209" x2="453.11" y2="335.5" stroke="#dedede" stroke-width="0.85"/>
<line x1="458.32" y1="209" x2="458.32" y2="335.5" stroke="#dedede" stroke-width="0.85"/>
<line x1="463.53" y1="209" x2="463.53" y2="335.5" stroke="#dedede" stroke-width="0.85"/>
<line x1="468.74" y1="209" x2="468.74" y2="335.5" stroke="#dedede" stroke-width="0.85"/>
<line x1="473.95" y1="209" x2="473.95" y2="335.5" stroke="#dedede" stroke-width="0.85"/>
<line x1="479.16" y1="209" x2="479.16" y2="335.5" stroke="#dedede" stroke-width="0.85"/>
<line x1="484.37" y1="209" x2="484.37" y2="335.5" stroke="#dedede" stroke-width="0.85"/>
<line x1="489.58" y1="209" x2="489.58" y2="335.5" stroke="#dedede" stroke-width="0.85"/>
<line x1="494.79" y1="209" x2="494.79" y2="335.5" stroke="#dedede" stroke-width="0.85"/>
<line x1="500" y1="209" x2="500" y2="335.5" stroke="#dedede" stroke-width="0.85"/>
<line x1="505.21" y1="209" x2="505.21" y2="335.5" stroke="#dedede" stroke-width="0.85"/>
<rect x="292.25" y="228.36" width="1.2" height="66.07" fill="#c2305a"/>
<circle cx="292.12" cy="290" r="0.7" fill="#a81e44"/>
<circle cx="292.3" cy="270.54" r="0.7" fill="#a81e44"/>
<circle cx="292.79" cy="286.97" r="0.7" fill="#a81e44"/>
<circle cx="293.06" cy="230.37" r="0.7" fill="#a81e44"/>
<circle cx="293.18" cy="276.36" r="0.7" fill="#a81e44"/>
<circle cx="292.24" cy="282.67" r="0.7" fill="#a81e44"/>
<circle cx="292.7" cy="294.93" r="0.82" fill="#a81e44"/>
<circle cx="292.74" cy="251.91" r="0.82" fill="#a81e44"/>
<circle cx="292.35" cy="247.59" r="0.82" fill="#a81e44"/>
<circle cx="292.63" cy="224.88" r="0.82" fill="#a81e44"/>
<circle cx="292.28" cy="236.02" r="0.82" fill="#a81e44"/>
<circle cx="292.5" cy="236.41" r="0.82" fill="#a81e44"/>
<circle cx="293.13" cy="233.49" r="0.82" fill="#a81e44"/>
<circle cx="292.56" cy="254.01" r="0.82" fill="#a81e44"/>
<circle cx="292.46" cy="327.59" r="0.82" fill="#a81e44"/>
<circle cx="292.42" cy="227.93" r="0.82" fill="#a81e44"/>
<circle cx="292.9" cy="255.28" r="0.82" fill="#a81e44"/>
<circle cx="292.45" cy="255.06" r="0.82" fill="#a81e44"/>
<circle cx="292.36" cy="312.69" r="0.82" fill="#a81e44"/>
<circle cx="292.67" cy="219.27" r="0.82" fill="#a81e44"/>
<circle cx="292.88" cy="256.06" r="0.82" fill="#a81e44"/>
<circle cx="292.32" cy="303.83" r="0.82" fill="#a81e44"/>
<circle cx="293.19" cy="327.03" r="0.82" fill="#a81e44"/>
<circle cx="293.31" cy="314.2" r="0.82" fill="#a81e44"/>
<circle cx="293.04" cy="288.2" r="0.82" fill="#a81e44"/>
<circle cx="293.12" cy="313.28" r="0.82" fill="#a81e44"/>
<circle cx="292.65" cy="300.66" r="0.82" fill="#a81e44"/>
<circle cx="292.37" cy="270.45" r="0.82" fill="#a81e44"/>
<circle cx="293.13" cy="301.04" r="0.82" fill="#a81e44"/>
<circle cx="292.67" cy="296.92" r="0.82" fill="#a81e44"/>
<circle cx="292.5" cy="243.53" r="0.82" fill="#a81e44"/>
<circle cx="292.49" cy="307.09" r="0.82" fill="#a81e44"/>
<circle cx="292.65" cy="285.91" r="0.82" fill="#a81e44"/>
<circle cx="292.77" cy="257.27" r="0.82" fill="#a81e44"/>
<circle cx="292.31" cy="231.86" r="0.82" fill="#a81e44"/>
<circle cx="293.17" cy="254.79" r="0.82" fill="#a81e44"/>
<circle cx="292.28" cy="302.54" r="0.82" fill="#a81e44"/>
<circle cx="292.38" cy="279.88" r="0.82" fill="#a81e44"/>
<circle cx="293.03" cy="277.47" r="0.82" fill="#a81e44"/>
<circle cx="292.38" cy="318.25" r="0.82" fill="#a81e44"/>
<circle cx="292.44" cy="275.29" r="0.82" fill="#a81e44"/>
<circle cx="292.73" cy="302.99" r="0.82" fill="#a81e44"/>
<circle cx="292.32" cy="315.51" r="0.82" fill="#a81e44"/>
<circle cx="292.77" cy="288.47" r="0.82" fill="#a81e44"/>
<circle cx="292.86" cy="224.4" r="0.82" fill="#a81e44"/>
<rect x="294.85" y="228.36" width="1.2" height="45.27" fill="#2f5f88"/>
<circle cx="295.01" cy="270.39" r="0.7" fill="#1f4a6e"/>
<circle cx="295.49" cy="239.93" r="0.7" fill="#1f4a6e"/>
<circle cx="296.05" cy="234.23" r="0.7" fill="#1f4a6e"/>
<circle cx="294.85" cy="234.79" r="0.7" fill="#1f4a6e"/>
<circle cx="295.43" cy="220.15" r="0.82" fill="#1f4a6e"/>
<circle cx="295.04" cy="301.11" r="0.82" fill="#1f4a6e"/>
<circle cx="295.08" cy="229.24" r="0.82" fill="#1f4a6e"/>
<circle cx="295.14" cy="319.13" r="0.82" fill="#1f4a6e"/>
<circle cx="295.36" cy="222.4" r="0.82" fill="#1f4a6e"/>
<circle cx="294.93" cy="244.57" r="0.82" fill="#1f4a6e"/>
<circle cx="295.2" cy="276.58" r="0.82" fill="#1f4a6e"/>
<circle cx="295.58" cy="305.07" r="0.82" fill="#1f4a6e"/>
<circle cx="294.98" cy="287.14" r="0.82" fill="#1f4a6e"/>
<circle cx="295.38" cy="215.49" r="0.82" fill="#1f4a6e"/>
<circle cx="294.86" cy="307.98" r="0.82" fill="#1f4a6e"/>
<circle cx="295.42" cy="253.58" r="0.82" fill="#1f4a6e"/>
<circle cx="295.37" cy="325.87" r="0.82" fill="#1f4a6e"/>
<circle cx="295.44" cy="243.52" r="0.82" fill="#1f4a6e"/>
<circle cx="295.4" cy="301.76" r="0.82" fill="#1f4a6e"/>
<circle cx="295.57" cy="259.11" r="0.82" fill="#1f4a6e"/>
<circle cx="295.73" cy="312" r="0.82" fill="#1f4a6e"/>
<circle cx="295.66" cy="219.93" r="0.82" fill="#1f4a6e"/>
<circle cx="295.25" cy="230.08" r="0.82" fill="#1f4a6e"/>
<circle cx="295.05" cy="224.86" r="0.82" fill="#1f4a6e"/>
<circle cx="295.51" cy="302.59" r="0.82" fill="#1f4a6e"/>
<circle cx="294.94" cy="224.99" r="0.82" fill="#1f4a6e"/>
<circle cx="295.12" cy="213.67" r="0.82" fill="#1f4a6e"/>
<circle cx="297.61" cy="280.25" r="0.82" fill="#a81e44"/>
<circle cx="298.28" cy="284.79" r="0.82" fill="#a81e44"/>
<circle cx="298.49" cy="277.6" r="0.82" fill="#a81e44"/>
<circle cx="298.21" cy="280.93" r="0.82" fill="#a81e44"/>
<circle cx="298.5" cy="288.08" r="0.82" fill="#a81e44"/>
<circle cx="297.98" cy="284.03" r="0.82" fill="#a81e44"/>
<circle cx="298.5" cy="278.92" r="0.82" fill="#a81e44"/>
<circle cx="298.55" cy="279.28" r="0.82" fill="#a81e44"/>
<circle cx="297.7" cy="276.91" r="0.82" fill="#a81e44"/>
<circle cx="297.68" cy="273" r="0.82" fill="#a81e44"/>
<circle cx="297.96" cy="269.96" r="0.82" fill="#a81e44"/>
<circle cx="298.52" cy="284.15" r="0.82" fill="#a81e44"/>
<circle cx="297.91" cy="282.4" r="0.82" fill="#a81e44"/>
<circle cx="298.2" cy="282.01" r="0.82" fill="#a81e44"/>
<circle cx="297.87" cy="287.89" r="0.82" fill="#a81e44"/>
<circle cx="298.37" cy="322.14" r="0.82" fill="#a81e44"/>
<circle cx="298.13" cy="328.68" r="0.82" fill="#a81e44"/>
<circle cx="297.96" cy="318.27" r="0.82" fill="#a81e44"/>
<circle cx="298.24" cy="306" r="0.82" fill="#a81e44"/>
<circle cx="297.72" cy="323.12" r="0.82" fill="#a81e44"/>
<circle cx="298.52" cy="323.82" r="0.82" fill="#a81e44"/>
<circle cx="297.61" cy="322.66" r="0.82" fill="#a81e44"/>
<circle cx="298.1" cy="307.6" r="0.82" fill="#a81e44"/>
<circle cx="297.52" cy="292.89" r="0.82" fill="#a81e44"/>
<circle cx="297.64" cy="319.22" r="0.82" fill="#a81e44"/>
<circle cx="297.96" cy="305.04" r="0.82" fill="#a81e44"/>
<circle cx="298.44" cy="312.17" r="0.82" fill="#a81e44"/>
<circle cx="298.41" cy="301.97" r="0.82" fill="#a81e44"/>
<circle cx="297.76" cy="290.05" r="0.82" fill="#a81e44"/>
<circle cx="297.91" cy="290.65" r="0.82" fill="#a81e44"/>
<circle cx="298.47" cy="326.6" r="0.82" fill="#a81e44"/>
<rect x="300.06" y="277.3" width="1.2" height="53.83" fill="#2f5f88"/>
<circle cx="299.93" cy="325.53" r="0.7" fill="#1f4a6e"/>
<circle cx="300.31" cy="315.54" r="0.7" fill="#1f4a6e"/>
<circle cx="301.13" cy="279.08" r="0.7" fill="#1f4a6e"/>
<circle cx="300.65" cy="308.51" r="0.7" fill="#1f4a6e"/>
<circle cx="301.04" cy="285.43" r="0.7" fill="#1f4a6e"/>
<rect x="302.67" y="223.46" width="1.2" height="64.85" fill="#c2305a"/>
<circle cx="303.24" cy="245.94" r="0.7" fill="#a81e44"/>
<circle cx="302.86" cy="280.75" r="0.7" fill="#a81e44"/>
<circle cx="303.34" cy="245.63" r="0.7" fill="#a81e44"/>
<circle cx="303.78" cy="236.36" r="0.7" fill="#a81e44"/>
<circle cx="302.79" cy="225.9" r="0.7" fill="#a81e44"/>
<circle cx="303.78" cy="283.38" r="0.7" fill="#a81e44"/>
<rect x="305.27" y="212.45" width="1.2" height="104" fill="#2f5f88"/>
<circle cx="305.37" cy="257.14" r="0.7" fill="#1f4a6e"/>
<circle cx="305.48" cy="244.47" r="0.7" fill="#1f4a6e"/>
<circle cx="305.63" cy="291.85" r="0.7" fill="#1f4a6e"/>
<circle cx="306.07" cy="261.97" r="0.7" fill="#1f4a6e"/>
<circle cx="306.16" cy="308.81" r="0.7" fill="#1f4a6e"/>
<circle cx="305.78" cy="251.53" r="0.7" fill="#1f4a6e"/>
<circle cx="306.24" cy="246.55" r="0.7" fill="#1f4a6e"/>
<circle cx="305.79" cy="315.45" r="0.7" fill="#1f4a6e"/>
<circle cx="306.11" cy="245.94" r="0.7" fill="#1f4a6e"/>
<circle cx="302.87" cy="237.97" r="0.82" fill="#a81e44"/>
<circle cx="303.53" cy="220.85" r="0.82" fill="#a81e44"/>
<circle cx="303.14" cy="260.8" r="0.82" fill="#a81e44"/>
<circle cx="302.9" cy="220.89" r="0.82" fill="#a81e44"/>
<circle cx="303.73" cy="251.1" r="0.82" fill="#a81e44"/>
<circle cx="302.93" cy="224.07" r="0.82" fill="#a81e44"/>
<circle cx="305.67" cy="229.54" r="0.82" fill="#1f4a6e"/>
<circle cx="306.11" cy="233.86" r="0.82" fill="#1f4a6e"/>
<circle cx="305.51" cy="265.98" r="0.82" fill="#1f4a6e"/>
<circle cx="305.56" cy="260.74" r="0.82" fill="#1f4a6e"/>
<circle cx="305.42" cy="271.49" r="0.82" fill="#1f4a6e"/>
<circle cx="305.73" cy="249.28" r="0.82" fill="#1f4a6e"/>
<circle cx="305.91" cy="268.96" r="0.82" fill="#1f4a6e"/>
<circle cx="303.3" cy="290.63" r="0.82" fill="#a81e44"/>
<circle cx="303.44" cy="314.32" r="0.82" fill="#a81e44"/>
<circle cx="302.86" cy="311.03" r="0.82" fill="#a81e44"/>
<circle cx="302.69" cy="309.23" r="0.82" fill="#a81e44"/>
<circle cx="302.85" cy="301.39" r="0.82" fill="#a81e44"/>
<circle cx="303.73" cy="313.76" r="0.82" fill="#a81e44"/>
<circle cx="303.59" cy="297.72" r="0.82" fill="#a81e44"/>
<circle cx="303.37" cy="302.76" r="0.82" fill="#a81e44"/>
<circle cx="303.73" cy="300.22" r="0.82" fill="#a81e44"/>
<circle cx="303.51" cy="320.76" r="0.82" fill="#a81e44"/>
<circle cx="302.95" cy="316.54" r="0.82" fill="#a81e44"/>
<circle cx="303.33" cy="295.51" r="0.82" fill="#a81e44"/>
<circle cx="303.63" cy="294.38" r="0.82" fill="#a81e44"/>
<circle cx="302.89" cy="304.91" r="0.82" fill="#a81e44"/>
<rect x="307.93" y="217.31" width="1.0" height="113.82" fill="#a81e44" fill-opacity="0.85"/>
<circle cx="308.47" cy="329.37" r="0.82" fill="#a81e44"/>
<circle cx="308.18" cy="245.9" r="0.82" fill="#a81e44"/>
<circle cx="307.89" cy="322.9" r="0.82" fill="#a81e44"/>
<circle cx="308.65" cy="310.78" r="0.82" fill="#a81e44"/>
<circle cx="308.13" cy="330.67" r="0.82" fill="#a81e44"/>
<circle cx="308.66" cy="299.99" r="0.82" fill="#a81e44"/>
<circle cx="307.9" cy="215.18" r="0.82" fill="#a81e44"/>
<circle cx="308.91" cy="317.71" r="0.82" fill="#a81e44"/>
<circle cx="308.04" cy="217.2" r="0.82" fill="#a81e44"/>
<circle cx="308.45" cy="291.74" r="0.82" fill="#a81e44"/>
<circle cx="308.34" cy="293.52" r="0.82" fill="#a81e44"/>
<circle cx="308.16" cy="274.89" r="0.82" fill="#a81e44"/>
<circle cx="307.97" cy="324.67" r="0.82" fill="#a81e44"/>
<circle cx="307.98" cy="312.05" r="0.82" fill="#a81e44"/>
<circle cx="308.65" cy="257.83" r="0.82" fill="#a81e44"/>
<circle cx="308.75" cy="300.24" r="0.82" fill="#a81e44"/>
<circle cx="308.26" cy="245.53" r="0.82" fill="#a81e44"/>
<circle cx="308.09" cy="273.37" r="0.82" fill="#a81e44"/>
<circle cx="308.5" cy="222.02" r="0.82" fill="#a81e44"/>
<circle cx="308.05" cy="325.11" r="0.82" fill="#a81e44"/>
<circle cx="308.3" cy="249.78" r="0.82" fill="#a81e44"/>
<circle cx="308.13" cy="246.91" r="0.82" fill="#a81e44"/>
<circle cx="308.76" cy="237.5" r="0.82" fill="#a81e44"/>
<circle cx="308.52" cy="320.06" r="0.82" fill="#a81e44"/>
<circle cx="308.66" cy="308.66" r="0.82" fill="#a81e44"/>
<circle cx="308.75" cy="236.69" r="0.82" fill="#a81e44"/>
<circle cx="307.98" cy="303.97" r="0.82" fill="#a81e44"/>
<circle cx="308.5" cy="253.2" r="0.82" fill="#a81e44"/>
<circle cx="308.09" cy="314.9" r="0.82" fill="#a81e44"/>
<circle cx="308" cy="262.71" r="0.82" fill="#a81e44"/>
<circle cx="308.15" cy="256.67" r="0.82" fill="#a81e44"/>
<circle cx="308.35" cy="300.76" r="0.82" fill="#a81e44"/>
<circle cx="308.68" cy="268.51" r="0.82" fill="#a81e44"/>
<circle cx="308.68" cy="327.5" r="0.82" fill="#a81e44"/>
<circle cx="308.2" cy="305.17" r="0.82" fill="#a81e44"/>
<circle cx="308.64" cy="255.98" r="0.82" fill="#a81e44"/>
<circle cx="308.87" cy="258.93" r="0.82" fill="#a81e44"/>
<circle cx="308.22" cy="307.09" r="0.82" fill="#a81e44"/>
<circle cx="308.17" cy="253.31" r="0.82" fill="#a81e44"/>
<circle cx="308.13" cy="312.65" r="0.82" fill="#a81e44"/>
<circle cx="311.39" cy="232.98" r="0.82" fill="#1f4a6e"/>
<circle cx="311.53" cy="237.63" r="0.82" fill="#1f4a6e"/>
<circle cx="310.82" cy="231.03" r="0.82" fill="#1f4a6e"/>
<circle cx="311.27" cy="271.46" r="0.82" fill="#1f4a6e"/>
<circle cx="311.15" cy="293.4" r="0.82" fill="#1f4a6e"/>
<circle cx="310.53" cy="290.57" r="0.82" fill="#1f4a6e"/>
<circle cx="310.65" cy="254.72" r="0.82" fill="#1f4a6e"/>
<circle cx="311.45" cy="219.44" r="0.82" fill="#1f4a6e"/>
<circle cx="310.7" cy="259.11" r="0.82" fill="#1f4a6e"/>
<circle cx="311.04" cy="288" r="0.82" fill="#1f4a6e"/>
<circle cx="310.88" cy="254.09" r="0.82" fill="#1f4a6e"/>
<circle cx="311.06" cy="237.62" r="0.82" fill="#1f4a6e"/>
<circle cx="310.6" cy="232.63" r="0.82" fill="#1f4a6e"/>
<circle cx="310.91" cy="292.18" r="0.82" fill="#1f4a6e"/>
<rect x="307.93" y="271.9" width="1.0" height="59.23" fill="#a81e44" fill-opacity="0.85"/>
<circle cx="308.16" cy="301.55" r="0.82" fill="#a81e44"/>
<circle cx="308.12" cy="290.23" r="0.82" fill="#a81e44"/>
<circle cx="308.4" cy="311.66" r="0.82" fill="#a81e44"/>
<circle cx="308.73" cy="287.55" r="0.82" fill="#a81e44"/>
<circle cx="308.37" cy="308.39" r="0.82" fill="#a81e44"/>
<circle cx="308.91" cy="274.39" r="0.82" fill="#a81e44"/>
<circle cx="308" cy="293.28" r="0.82" fill="#a81e44"/>
<circle cx="308.58" cy="303.25" r="0.82" fill="#a81e44"/>
<circle cx="307.92" cy="314.09" r="0.82" fill="#a81e44"/>
<circle cx="308.88" cy="271.11" r="0.82" fill="#a81e44"/>
<circle cx="308.39" cy="323.24" r="0.82" fill="#a81e44"/>
<circle cx="308.21" cy="293.24" r="0.82" fill="#a81e44"/>
<circle cx="308.71" cy="326.94" r="0.82" fill="#a81e44"/>
<circle cx="308.36" cy="283.98" r="0.82" fill="#a81e44"/>
<circle cx="308.31" cy="325.89" r="0.82" fill="#a81e44"/>
<circle cx="308.94" cy="325.38" r="0.82" fill="#a81e44"/>
<circle cx="308.2" cy="328" r="0.82" fill="#a81e44"/>
<circle cx="308.03" cy="284.15" r="0.82" fill="#a81e44"/>
<circle cx="307.96" cy="324.61" r="0.82" fill="#a81e44"/>
<circle cx="308.47" cy="321.1" r="0.82" fill="#a81e44"/>
<circle cx="308.07" cy="280.17" r="0.82" fill="#a81e44"/>
<circle cx="308.72" cy="320.5" r="0.82" fill="#a81e44"/>
<circle cx="308.25" cy="305.08" r="0.82" fill="#a81e44"/>
<circle cx="308.15" cy="323.59" r="0.82" fill="#a81e44"/>
<circle cx="308.01" cy="271.68" r="0.82" fill="#a81e44"/>
<circle cx="308.69" cy="315.25" r="0.82" fill="#a81e44"/>
<circle cx="308.87" cy="276.58" r="0.82" fill="#a81e44"/>
<circle cx="308.93" cy="302.21" r="0.82" fill="#a81e44"/>
<circle cx="308.2" cy="294.18" r="0.82" fill="#a81e44"/>
<circle cx="308.67" cy="302.67" r="0.82" fill="#a81e44"/>
<circle cx="308.02" cy="286.23" r="0.82" fill="#a81e44"/>
<circle cx="308.93" cy="319.28" r="0.82" fill="#a81e44"/>
<circle cx="308.77" cy="324.58" r="0.82" fill="#a81e44"/>
<circle cx="308.15" cy="310.4" r="0.82" fill="#a81e44"/>
<circle cx="308.4" cy="315.52" r="0.82" fill="#a81e44"/>
<circle cx="308.04" cy="270.53" r="0.82" fill="#a81e44"/>
<circle cx="308.23" cy="278.85" r="0.82" fill="#a81e44"/>
<circle cx="308.7" cy="320.56" r="0.82" fill="#a81e44"/>
<circle cx="308.09" cy="310.23" r="0.82" fill="#a81e44"/>
<circle cx="308.78" cy="305.53" r="0.82" fill="#a81e44"/>
<circle cx="308.51" cy="278.33" r="0.82" fill="#a81e44"/>
<circle cx="308.72" cy="330.49" r="0.82" fill="#a81e44"/>
<circle cx="308.87" cy="294.03" r="0.82" fill="#a81e44"/>
<circle cx="308.24" cy="272.89" r="0.82" fill="#a81e44"/>
<circle cx="308.78" cy="279.22" r="0.82" fill="#a81e44"/>
<circle cx="308.28" cy="314.86" r="0.82" fill="#a81e44"/>
<circle cx="308.27" cy="308.21" r="0.82" fill="#a81e44"/>
<circle cx="308" cy="307.99" r="0.82" fill="#a81e44"/>
<circle cx="308.88" cy="317.23" r="0.82" fill="#a81e44"/>
<circle cx="308.58" cy="306.01" r="0.82" fill="#a81e44"/>
<circle cx="308.71" cy="276.85" r="0.82" fill="#a81e44"/>
<circle cx="308.89" cy="316.18" r="0.82" fill="#a81e44"/>
<circle cx="308.97" cy="281.93" r="0.82" fill="#a81e44"/>
<circle cx="308.71" cy="286.59" r="0.82" fill="#a81e44"/>
<circle cx="308.16" cy="281.39" r="0.82" fill="#a81e44"/>
<circle cx="308.3" cy="291" r="0.82" fill="#a81e44"/>
<circle cx="308.03" cy="279.76" r="0.82" fill="#a81e44"/>
<circle cx="308.25" cy="298.15" r="0.82" fill="#a81e44"/>
<circle cx="308.26" cy="280.93" r="0.82" fill="#a81e44"/>
<circle cx="308.81" cy="279.51" r="0.82" fill="#a81e44"/>
<circle cx="308.03" cy="277.37" r="0.82" fill="#a81e44"/>
<circle cx="308.7" cy="273.73" r="0.82" fill="#a81e44"/>
<circle cx="308.6" cy="289.72" r="0.82" fill="#a81e44"/>
<circle cx="308.84" cy="328.19" r="0.82" fill="#a81e44"/>
<circle cx="308.38" cy="297.62" r="0.82" fill="#a81e44"/>
<circle cx="308.74" cy="310.37" r="0.82" fill="#a81e44"/>
<circle cx="308.84" cy="283.28" r="0.82" fill="#a81e44"/>
<circle cx="310.85" cy="292.07" r="0.82" fill="#1f4a6e"/>
<circle cx="310.59" cy="291.08" r="0.82" fill="#1f4a6e"/>
<circle cx="310.51" cy="288.89" r="0.82" fill="#1f4a6e"/>
<circle cx="310.73" cy="275.68" r="0.82" fill="#1f4a6e"/>
<circle cx="310.55" cy="296.11" r="0.82" fill="#1f4a6e"/>
<circle cx="310.7" cy="277.24" r="0.82" fill="#1f4a6e"/>
<circle cx="310.92" cy="285.09" r="0.82" fill="#1f4a6e"/>
<circle cx="311.53" cy="275.52" r="0.82" fill="#1f4a6e"/>
<circle cx="311.18" cy="289.37" r="0.82" fill="#1f4a6e"/>
<circle cx="311" cy="272.92" r="0.82" fill="#1f4a6e"/>
<circle cx="311.29" cy="272.78" r="0.82" fill="#1f4a6e"/>
<circle cx="311.44" cy="289.33" r="0.82" fill="#1f4a6e"/>
<circle cx="310.6" cy="281.96" r="0.82" fill="#1f4a6e"/>
<circle cx="311.39" cy="281.56" r="0.82" fill="#1f4a6e"/>
<circle cx="311.01" cy="283.5" r="0.82" fill="#1f4a6e"/>
<circle cx="311.45" cy="286.38" r="0.82" fill="#1f4a6e"/>
<circle cx="310.71" cy="279.37" r="0.82" fill="#1f4a6e"/>
<circle cx="310.88" cy="287.9" r="0.82" fill="#1f4a6e"/>
<circle cx="311.25" cy="271.12" r="0.82" fill="#1f4a6e"/>
<circle cx="311.49" cy="294.58" r="0.82" fill="#1f4a6e"/>
<circle cx="311.13" cy="297.11" r="0.82" fill="#1f4a6e"/>
<circle cx="311.27" cy="285.93" r="0.82" fill="#1f4a6e"/>
<rect x="313.09" y="269.95" width="1.2" height="31.81" fill="#c2305a"/>
<circle cx="313.07" cy="288.11" r="0.7" fill="#a81e44"/>
<circle cx="314.09" cy="285.11" r="0.7" fill="#a81e44"/>
<circle cx="313.44" cy="276.67" r="0.7" fill="#a81e44"/>
<circle cx="319.12" cy="296.05" r="0.82" fill="#a81e44"/>
<circle cx="318.54" cy="281.17" r="0.82" fill="#a81e44"/>
<circle cx="319.39" cy="279.08" r="0.82" fill="#a81e44"/>
<circle cx="318.72" cy="290.63" r="0.82" fill="#a81e44"/>
<circle cx="319.32" cy="283.53" r="0.82" fill="#a81e44"/>
<circle cx="318.63" cy="296.58" r="0.82" fill="#a81e44"/>
<circle cx="319.11" cy="293.31" r="0.82" fill="#a81e44"/>
<circle cx="318.9" cy="296.97" r="0.82" fill="#a81e44"/>
<circle cx="319.04" cy="288.91" r="0.82" fill="#a81e44"/>
<circle cx="319.35" cy="298.08" r="0.82" fill="#a81e44"/>
<circle cx="318.92" cy="276.07" r="0.82" fill="#a81e44"/>
<circle cx="318.5" cy="281.33" r="0.82" fill="#a81e44"/>
<circle cx="318.91" cy="278.38" r="0.82" fill="#a81e44"/>
<circle cx="319.26" cy="282.25" r="0.82" fill="#a81e44"/>
<circle cx="319.32" cy="292.47" r="0.82" fill="#a81e44"/>
<circle cx="318.33" cy="296.44" r="0.82" fill="#a81e44"/>
<circle cx="319.29" cy="288.86" r="0.82" fill="#a81e44"/>
<circle cx="319.35" cy="278.63" r="0.82" fill="#a81e44"/>
<circle cx="319.33" cy="288.64" r="0.82" fill="#a81e44"/>
<circle cx="318.46" cy="287.38" r="0.82" fill="#a81e44"/>
<circle cx="319.18" cy="285.55" r="0.82" fill="#a81e44"/>
<circle cx="318.96" cy="290.88" r="0.82" fill="#a81e44"/>
<rect x="320.9" y="307.88" width="1.2" height="23.25" fill="#2f5f88"/>
<circle cx="321.14" cy="325.11" r="0.7" fill="#1f4a6e"/>
<circle cx="321.47" cy="321.36" r="0.7" fill="#1f4a6e"/>
<rect x="323.51" y="274.85" width="1.2" height="45.27" fill="#c2305a"/>
<circle cx="323.49" cy="298.92" r="0.7" fill="#a81e44"/>
<circle cx="323.84" cy="319.86" r="0.7" fill="#a81e44"/>
<circle cx="324.41" cy="287.66" r="0.7" fill="#a81e44"/>
<circle cx="323.72" cy="309.39" r="0.7" fill="#a81e44"/>
<rect x="326.11" y="279.74" width="1.2" height="48.94" fill="#2f5f88"/>
<circle cx="326.21" cy="303.4" r="0.7" fill="#1f4a6e"/>
<circle cx="327.23" cy="299.18" r="0.7" fill="#1f4a6e"/>
<circle cx="326.78" cy="318.8" r="0.7" fill="#1f4a6e"/>
<circle cx="327.01" cy="293.41" r="0.7" fill="#1f4a6e"/>
<circle cx="324.19" cy="265.06" r="0.82" fill="#a81e44"/>
<rect x="331.32" y="217.34" width="1.2" height="86.87" fill="#2f5f88"/>
<circle cx="332.34" cy="280.54" r="0.7" fill="#1f4a6e"/>
<circle cx="331.24" cy="223.85" r="0.7" fill="#1f4a6e"/>
<circle cx="331.79" cy="222.2" r="0.7" fill="#1f4a6e"/>
<circle cx="331.27" cy="296.71" r="0.7" fill="#1f4a6e"/>
<circle cx="332.12" cy="234.99" r="0.7" fill="#1f4a6e"/>
<circle cx="331.81" cy="291.87" r="0.7" fill="#1f4a6e"/>
<circle cx="332.57" cy="248.73" r="0.7" fill="#1f4a6e"/>
<circle cx="332.24" cy="275.02" r="0.7" fill="#1f4a6e"/>
<circle cx="331.54" cy="227.5" r="0.82" fill="#1f4a6e"/>
<circle cx="331.77" cy="228.63" r="0.82" fill="#1f4a6e"/>
<circle cx="331.65" cy="222.48" r="0.82" fill="#1f4a6e"/>
<circle cx="331.56" cy="228.62" r="0.82" fill="#1f4a6e"/>
<rect x="328.72" y="269.95" width="1.2" height="57.5" fill="#c2305a"/>
<circle cx="328.84" cy="322.57" r="0.7" fill="#a81e44"/>
<circle cx="329.28" cy="309.3" r="0.7" fill="#a81e44"/>
<circle cx="329.24" cy="316.9" r="0.7" fill="#a81e44"/>
<circle cx="329.93" cy="302.17" r="0.7" fill="#a81e44"/>
<circle cx="329.89" cy="299.5" r="0.7" fill="#a81e44"/>
<circle cx="328.94" cy="252.28" r="0.82" fill="#a81e44"/>
<circle cx="328.88" cy="246.83" r="0.82" fill="#a81e44"/>
<circle cx="328.8" cy="265.97" r="0.82" fill="#a81e44"/>
<circle cx="329.78" cy="241.88" r="0.82" fill="#a81e44"/>
<circle cx="329.11" cy="255.36" r="0.82" fill="#a81e44"/>
<circle cx="329.11" cy="254.38" r="0.82" fill="#a81e44"/>
<rect x="333.98" y="275.46" width="1.0" height="55.67" fill="#a81e44" fill-opacity="0.85"/>
<circle cx="334.36" cy="291.41" r="0.82" fill="#a81e44"/>
<circle cx="334.88" cy="322.37" r="0.82" fill="#a81e44"/>
<circle cx="333.94" cy="298.2" r="0.82" fill="#a81e44"/>
<circle cx="334.73" cy="282.28" r="0.82" fill="#a81e44"/>
<circle cx="334.62" cy="310.75" r="0.82" fill="#a81e44"/>
<circle cx="334.37" cy="278.21" r="0.82" fill="#a81e44"/>
<circle cx="334.26" cy="306.26" r="0.82" fill="#a81e44"/>
<circle cx="334.66" cy="299.26" r="0.82" fill="#a81e44"/>
<circle cx="334.97" cy="288.86" r="0.82" fill="#a81e44"/>
<circle cx="334.33" cy="322.77" r="0.82" fill="#a81e44"/>
<circle cx="334.8" cy="282.16" r="0.82" fill="#a81e44"/>
<circle cx="334.67" cy="297.2" r="0.82" fill="#a81e44"/>
<circle cx="334.97" cy="311.57" r="0.82" fill="#a81e44"/>
<circle cx="334.37" cy="299.54" r="0.82" fill="#a81e44"/>
<circle cx="334.06" cy="320.64" r="0.82" fill="#a81e44"/>
<circle cx="334.81" cy="279.52" r="0.82" fill="#a81e44"/>
<circle cx="334.29" cy="329.59" r="0.82" fill="#a81e44"/>
<circle cx="334.48" cy="303.55" r="0.82" fill="#a81e44"/>
<circle cx="334.91" cy="310.23" r="0.82" fill="#a81e44"/>
<circle cx="334.52" cy="311.01" r="0.82" fill="#a81e44"/>
<circle cx="334.63" cy="277.69" r="0.82" fill="#a81e44"/>
<circle cx="334.3" cy="303.7" r="0.82" fill="#a81e44"/>
<circle cx="334.6" cy="308.87" r="0.82" fill="#a81e44"/>
<circle cx="334.22" cy="285.93" r="0.82" fill="#a81e44"/>
<circle cx="334.36" cy="309.82" r="0.82" fill="#a81e44"/>
<circle cx="334.93" cy="310.26" r="0.82" fill="#a81e44"/>
<circle cx="334.23" cy="300.14" r="0.82" fill="#a81e44"/>
<circle cx="334.83" cy="312.02" r="0.82" fill="#a81e44"/>
<circle cx="334.69" cy="321.92" r="0.82" fill="#a81e44"/>
<circle cx="334.14" cy="329.88" r="0.82" fill="#a81e44"/>
<circle cx="334.82" cy="327.71" r="0.82" fill="#a81e44"/>
<circle cx="334.18" cy="322.68" r="0.82" fill="#a81e44"/>
<circle cx="334.22" cy="327.82" r="0.82" fill="#a81e44"/>
<circle cx="334.72" cy="288.95" r="0.82" fill="#a81e44"/>
<circle cx="334.97" cy="278.78" r="0.82" fill="#a81e44"/>
<circle cx="334.94" cy="299.45" r="0.82" fill="#a81e44"/>
<circle cx="334.95" cy="325.98" r="0.82" fill="#a81e44"/>
<circle cx="334.14" cy="306.17" r="0.82" fill="#a81e44"/>
<circle cx="334.87" cy="288.11" r="0.82" fill="#a81e44"/>
<circle cx="334.03" cy="308.95" r="0.82" fill="#a81e44"/>
<circle cx="334.76" cy="280.93" r="0.82" fill="#a81e44"/>
<circle cx="335" cy="296.8" r="0.82" fill="#a81e44"/>
<circle cx="333.99" cy="328.94" r="0.82" fill="#a81e44"/>
<circle cx="333.95" cy="323.99" r="0.82" fill="#a81e44"/>
<circle cx="334.62" cy="290.4" r="0.82" fill="#a81e44"/>
<circle cx="334.11" cy="324.67" r="0.82" fill="#a81e44"/>
<circle cx="334.6" cy="320.73" r="0.82" fill="#a81e44"/>
<circle cx="335" cy="292.46" r="0.82" fill="#a81e44"/>
<circle cx="335.01" cy="310.39" r="0.82" fill="#a81e44"/>
<circle cx="334.36" cy="306.15" r="0.82" fill="#a81e44"/>
<circle cx="334.19" cy="316.56" r="0.82" fill="#a81e44"/>
<circle cx="335.02" cy="275.09" r="0.82" fill="#a81e44"/>
<circle cx="334.12" cy="290.54" r="0.82" fill="#a81e44"/>
<circle cx="334.1" cy="320.78" r="0.82" fill="#a81e44"/>
<circle cx="334.74" cy="310.94" r="0.82" fill="#a81e44"/>
<circle cx="334.51" cy="327.74" r="0.82" fill="#a81e44"/>
<circle cx="333.97" cy="291.99" r="0.82" fill="#a81e44"/>
<circle cx="334.8" cy="305.85" r="0.82" fill="#a81e44"/>
<circle cx="334.43" cy="298.03" r="0.82" fill="#a81e44"/>
<circle cx="334.59" cy="280.45" r="0.82" fill="#a81e44"/>
<circle cx="334.37" cy="311.75" r="0.82" fill="#a81e44"/>
<circle cx="334.88" cy="276.88" r="0.82" fill="#a81e44"/>
<circle cx="334.55" cy="278.52" r="0.82" fill="#a81e44"/>
<circle cx="334.12" cy="322.94" r="0.82" fill="#a81e44"/>
<circle cx="334.69" cy="309.09" r="0.82" fill="#a81e44"/>
<circle cx="334.81" cy="330.86" r="0.82" fill="#a81e44"/>
<circle cx="334.5" cy="285.93" r="0.82" fill="#a81e44"/>
<circle cx="334.81" cy="330.81" r="0.82" fill="#a81e44"/>
<circle cx="334.67" cy="307.32" r="0.82" fill="#a81e44"/>
<circle cx="334.73" cy="298.36" r="0.82" fill="#a81e44"/>
<circle cx="334.99" cy="307.62" r="0.82" fill="#a81e44"/>
<circle cx="334.95" cy="276.18" r="0.82" fill="#a81e44"/>
<circle cx="334.28" cy="295.75" r="0.82" fill="#a81e44"/>
<circle cx="334.23" cy="309.47" r="0.82" fill="#a81e44"/>
<circle cx="334.8" cy="279.16" r="0.82" fill="#a81e44"/>
<circle cx="334.83" cy="285.81" r="0.82" fill="#a81e44"/>
<rect x="336.58" y="275.46" width="1.0" height="55.67" fill="#1f4a6e" fill-opacity="0.85"/>
<circle cx="337.29" cy="274.16" r="0.82" fill="#1f4a6e"/>
<circle cx="337.36" cy="312.83" r="0.82" fill="#1f4a6e"/>
<circle cx="337.2" cy="316.05" r="0.82" fill="#1f4a6e"/>
<circle cx="337.47" cy="322.02" r="0.82" fill="#1f4a6e"/>
<circle cx="336.83" cy="303.02" r="0.82" fill="#1f4a6e"/>
<circle cx="336.62" cy="278.06" r="0.82" fill="#1f4a6e"/>
<circle cx="337.36" cy="277.64" r="0.82" fill="#1f4a6e"/>
<circle cx="337.37" cy="322.56" r="0.82" fill="#1f4a6e"/>
<circle cx="337.53" cy="298.16" r="0.82" fill="#1f4a6e"/>
<circle cx="337" cy="297.4" r="0.82" fill="#1f4a6e"/>
<circle cx="336.63" cy="277.46" r="0.82" fill="#1f4a6e"/>
<circle cx="336.64" cy="286.44" r="0.82" fill="#1f4a6e"/>
<circle cx="336.66" cy="315.22" r="0.82" fill="#1f4a6e"/>
<circle cx="337.02" cy="281.03" r="0.82" fill="#1f4a6e"/>
<circle cx="336.81" cy="289.36" r="0.82" fill="#1f4a6e"/>
<circle cx="337.24" cy="289.13" r="0.82" fill="#1f4a6e"/>
<circle cx="337.07" cy="325.52" r="0.82" fill="#1f4a6e"/>
<circle cx="336.77" cy="289.62" r="0.82" fill="#1f4a6e"/>
<circle cx="336.84" cy="293.5" r="0.82" fill="#1f4a6e"/>
<circle cx="337.54" cy="309.82" r="0.82" fill="#1f4a6e"/>
<circle cx="337.63" cy="276.9" r="0.82" fill="#1f4a6e"/>
<circle cx="337.16" cy="306.59" r="0.82" fill="#1f4a6e"/>
<circle cx="337.36" cy="284.64" r="0.82" fill="#1f4a6e"/>
<circle cx="337.48" cy="304.9" r="0.82" fill="#1f4a6e"/>
<circle cx="337.58" cy="308.06" r="0.82" fill="#1f4a6e"/>
<circle cx="336.66" cy="303.94" r="0.82" fill="#1f4a6e"/>
<circle cx="336.69" cy="288.05" r="0.82" fill="#1f4a6e"/>
<circle cx="336.59" cy="292.05" r="0.82" fill="#1f4a6e"/>
<circle cx="337.13" cy="274.3" r="0.82" fill="#1f4a6e"/>
<circle cx="336.67" cy="288.55" r="0.82" fill="#1f4a6e"/>
<circle cx="336.94" cy="294.51" r="0.82" fill="#1f4a6e"/>
<circle cx="337.43" cy="316.8" r="0.82" fill="#1f4a6e"/>
<circle cx="337.06" cy="329.22" r="0.82" fill="#1f4a6e"/>
<circle cx="337.47" cy="326.13" r="0.82" fill="#1f4a6e"/>
<circle cx="336.57" cy="279.76" r="0.82" fill="#1f4a6e"/>
<circle cx="337.05" cy="304.42" r="0.82" fill="#1f4a6e"/>
<circle cx="337.33" cy="289.8" r="0.82" fill="#1f4a6e"/>
<circle cx="337.56" cy="311.39" r="0.82" fill="#1f4a6e"/>
<circle cx="336.68" cy="320.47" r="0.82" fill="#1f4a6e"/>
<circle cx="336.66" cy="284.28" r="0.82" fill="#1f4a6e"/>
<circle cx="337.08" cy="320.44" r="0.82" fill="#1f4a6e"/>
<circle cx="336.71" cy="311.79" r="0.82" fill="#1f4a6e"/>
<circle cx="337.05" cy="277.66" r="0.82" fill="#1f4a6e"/>
<circle cx="336.81" cy="285.94" r="0.82" fill="#1f4a6e"/>
<circle cx="336.77" cy="278.65" r="0.82" fill="#1f4a6e"/>
<circle cx="337.2" cy="279.01" r="0.82" fill="#1f4a6e"/>
<circle cx="337.38" cy="275.29" r="0.82" fill="#1f4a6e"/>
<circle cx="337.12" cy="294.85" r="0.82" fill="#1f4a6e"/>
<circle cx="337.02" cy="281.97" r="0.82" fill="#1f4a6e"/>
<circle cx="337.54" cy="325.47" r="0.82" fill="#1f4a6e"/>
<circle cx="337.28" cy="284.8" r="0.82" fill="#1f4a6e"/>
<circle cx="336.79" cy="288.3" r="0.82" fill="#1f4a6e"/>
<circle cx="337.44" cy="304.49" r="0.82" fill="#1f4a6e"/>
<circle cx="337.55" cy="275.81" r="0.82" fill="#1f4a6e"/>
<circle cx="337.28" cy="321.9" r="0.82" fill="#1f4a6e"/>
<circle cx="336.98" cy="299.27" r="0.82" fill="#1f4a6e"/>
<rect x="341.79" y="273.09" width="1.0" height="55.6" fill="#1f4a6e" fill-opacity="0.85"/>
<circle cx="341.89" cy="319.04" r="0.82" fill="#1f4a6e"/>
<circle cx="342.28" cy="301.64" r="0.82" fill="#1f4a6e"/>
<circle cx="342.14" cy="313.28" r="0.82" fill="#1f4a6e"/>
<circle cx="342.58" cy="296.82" r="0.82" fill="#1f4a6e"/>
<circle cx="341.92" cy="294.79" r="0.82" fill="#1f4a6e"/>
<circle cx="342.14" cy="277.73" r="0.82" fill="#1f4a6e"/>
<circle cx="342.82" cy="273.49" r="0.82" fill="#1f4a6e"/>
<circle cx="342.38" cy="320.61" r="0.82" fill="#1f4a6e"/>
<circle cx="342.16" cy="273.09" r="0.82" fill="#1f4a6e"/>
<circle cx="342.09" cy="297.2" r="0.82" fill="#1f4a6e"/>
<circle cx="341.97" cy="327.03" r="0.82" fill="#1f4a6e"/>
<circle cx="342.05" cy="321.55" r="0.82" fill="#1f4a6e"/>
<circle cx="342.36" cy="292.48" r="0.82" fill="#1f4a6e"/>
<circle cx="342.49" cy="274.16" r="0.82" fill="#1f4a6e"/>
<circle cx="342.78" cy="307.85" r="0.82" fill="#1f4a6e"/>
<circle cx="342.34" cy="292.22" r="0.82" fill="#1f4a6e"/>
<circle cx="342.48" cy="279.08" r="0.82" fill="#1f4a6e"/>
<circle cx="342.41" cy="307.96" r="0.82" fill="#1f4a6e"/>
<circle cx="342.81" cy="311.41" r="0.82" fill="#1f4a6e"/>
<circle cx="342.81" cy="314.64" r="0.82" fill="#1f4a6e"/>
<circle cx="341.75" cy="324.98" r="0.82" fill="#1f4a6e"/>
<circle cx="341.97" cy="296.87" r="0.82" fill="#1f4a6e"/>
<circle cx="341.87" cy="299.5" r="0.82" fill="#1f4a6e"/>
<circle cx="342.48" cy="280.56" r="0.82" fill="#1f4a6e"/>
<circle cx="342.76" cy="289.34" r="0.82" fill="#1f4a6e"/>
<circle cx="342.49" cy="271.63" r="0.82" fill="#1f4a6e"/>
<circle cx="341.74" cy="287.67" r="0.82" fill="#1f4a6e"/>
<circle cx="342.21" cy="325.85" r="0.82" fill="#1f4a6e"/>
<circle cx="342.08" cy="272.96" r="0.82" fill="#1f4a6e"/>
<circle cx="341.75" cy="295.99" r="0.82" fill="#1f4a6e"/>
<circle cx="342.73" cy="304.78" r="0.82" fill="#1f4a6e"/>
<circle cx="342.65" cy="294.78" r="0.82" fill="#1f4a6e"/>
<circle cx="341.96" cy="327.93" r="0.82" fill="#1f4a6e"/>
<circle cx="342.66" cy="318.38" r="0.82" fill="#1f4a6e"/>
<circle cx="342.77" cy="322.84" r="0.82" fill="#1f4a6e"/>
<circle cx="342.71" cy="313.3" r="0.82" fill="#1f4a6e"/>
<circle cx="342.1" cy="299.04" r="0.82" fill="#1f4a6e"/>
<circle cx="342.19" cy="273.11" r="0.82" fill="#1f4a6e"/>
<circle cx="341.81" cy="288.58" r="0.82" fill="#1f4a6e"/>
<circle cx="342.82" cy="280.93" r="0.82" fill="#1f4a6e"/>
<circle cx="342.56" cy="322.33" r="0.82" fill="#1f4a6e"/>
<circle cx="341.9" cy="313.13" r="0.82" fill="#1f4a6e"/>
<circle cx="342.47" cy="307.74" r="0.82" fill="#1f4a6e"/>
<circle cx="342.83" cy="273.85" r="0.82" fill="#1f4a6e"/>
<circle cx="342.43" cy="271.55" r="0.82" fill="#1f4a6e"/>
<circle cx="341.92" cy="291.11" r="0.82" fill="#1f4a6e"/>
<circle cx="342.35" cy="286.93" r="0.82" fill="#1f4a6e"/>
<circle cx="342.73" cy="308.04" r="0.82" fill="#1f4a6e"/>
<circle cx="341.9" cy="314.01" r="0.82" fill="#1f4a6e"/>
<circle cx="341.9" cy="319.59" r="0.82" fill="#1f4a6e"/>
<circle cx="342.62" cy="294.84" r="0.82" fill="#1f4a6e"/>
<circle cx="342.29" cy="319.48" r="0.82" fill="#1f4a6e"/>
<circle cx="342.36" cy="295.65" r="0.82" fill="#1f4a6e"/>
<circle cx="342.34" cy="304.95" r="0.82" fill="#1f4a6e"/>
<circle cx="341.8" cy="327.81" r="0.82" fill="#1f4a6e"/>
<circle cx="342" cy="304.38" r="0.82" fill="#1f4a6e"/>
<circle cx="342.01" cy="285.16" r="0.82" fill="#1f4a6e"/>
<circle cx="342.01" cy="281.3" r="0.82" fill="#1f4a6e"/>
<circle cx="342.27" cy="323.36" r="0.82" fill="#1f4a6e"/>
<circle cx="342.11" cy="306.4" r="0.82" fill="#1f4a6e"/>
<circle cx="341.98" cy="284.69" r="0.82" fill="#1f4a6e"/>
<circle cx="342.66" cy="290.15" r="0.82" fill="#1f4a6e"/>
<circle cx="342.29" cy="302.65" r="0.82" fill="#1f4a6e"/>
<circle cx="342.4" cy="275.57" r="0.82" fill="#1f4a6e"/>
<circle cx="341.82" cy="318.28" r="0.82" fill="#1f4a6e"/>
<circle cx="342.1" cy="323.96" r="0.82" fill="#1f4a6e"/>
<circle cx="342.45" cy="323.57" r="0.82" fill="#1f4a6e"/>
<circle cx="342.08" cy="304.32" r="0.82" fill="#1f4a6e"/>
<circle cx="342.77" cy="299.23" r="0.82" fill="#1f4a6e"/>
<circle cx="341.91" cy="314.63" r="0.82" fill="#1f4a6e"/>
<circle cx="342.1" cy="311.12" r="0.82" fill="#1f4a6e"/>
<circle cx="342.52" cy="276.36" r="0.82" fill="#1f4a6e"/>
<circle cx="341.92" cy="304.02" r="0.82" fill="#1f4a6e"/>
<circle cx="341.87" cy="326.07" r="0.82" fill="#1f4a6e"/>
<circle cx="342.45" cy="279.95" r="0.82" fill="#1f4a6e"/>
<circle cx="342.43" cy="319.68" r="0.82" fill="#1f4a6e"/>
<rect x="339.19" y="275.46" width="1.0" height="53.22" fill="#a81e44" fill-opacity="0.85"/>
<circle cx="339.7" cy="325.47" r="0.82" fill="#a81e44"/>
<circle cx="339.25" cy="310.22" r="0.82" fill="#a81e44"/>
<circle cx="339.93" cy="287.8" r="0.82" fill="#a81e44"/>
<circle cx="339.32" cy="300.57" r="0.82" fill="#a81e44"/>
<circle cx="339.62" cy="291.82" r="0.82" fill="#a81e44"/>
<circle cx="339.24" cy="292.28" r="0.82" fill="#a81e44"/>
<circle cx="339.14" cy="278.99" r="0.82" fill="#a81e44"/>
<circle cx="339.58" cy="316.42" r="0.82" fill="#a81e44"/>
<circle cx="339.24" cy="317.76" r="0.82" fill="#a81e44"/>
<circle cx="340.23" cy="290.83" r="0.82" fill="#a81e44"/>
<circle cx="339.43" cy="310.24" r="0.82" fill="#a81e44"/>
<circle cx="339.38" cy="291.76" r="0.82" fill="#a81e44"/>
<circle cx="339.9" cy="306.62" r="0.82" fill="#a81e44"/>
<circle cx="339.31" cy="304.97" r="0.82" fill="#a81e44"/>
<circle cx="339.74" cy="324.8" r="0.82" fill="#a81e44"/>
<circle cx="340.15" cy="274.14" r="0.82" fill="#a81e44"/>
<circle cx="339.69" cy="323.18" r="0.82" fill="#a81e44"/>
<circle cx="339.35" cy="301.79" r="0.82" fill="#a81e44"/>
<circle cx="339.69" cy="291.8" r="0.82" fill="#a81e44"/>
<circle cx="339.46" cy="284.15" r="0.82" fill="#a81e44"/>
<circle cx="340.04" cy="277.26" r="0.82" fill="#a81e44"/>
<circle cx="339.3" cy="302.61" r="0.82" fill="#a81e44"/>
<circle cx="339.28" cy="302.05" r="0.82" fill="#a81e44"/>
<circle cx="339.91" cy="290.93" r="0.82" fill="#a81e44"/>
<circle cx="340.21" cy="296.85" r="0.82" fill="#a81e44"/>
<circle cx="339.93" cy="326.19" r="0.82" fill="#a81e44"/>
<circle cx="339.26" cy="284.59" r="0.82" fill="#a81e44"/>
<circle cx="339.2" cy="310.95" r="0.82" fill="#a81e44"/>
<circle cx="339.94" cy="296.58" r="0.82" fill="#a81e44"/>
<circle cx="339.91" cy="309.52" r="0.82" fill="#a81e44"/>
<circle cx="339.92" cy="308.49" r="0.82" fill="#a81e44"/>
<circle cx="340.22" cy="313.44" r="0.82" fill="#a81e44"/>
<circle cx="339.14" cy="304.57" r="0.82" fill="#a81e44"/>
<circle cx="339.94" cy="323.65" r="0.82" fill="#a81e44"/>
<circle cx="339.84" cy="281.07" r="0.82" fill="#a81e44"/>
<circle cx="340.1" cy="320.13" r="0.82" fill="#a81e44"/>
<circle cx="339.27" cy="289.21" r="0.82" fill="#a81e44"/>
<circle cx="339.88" cy="307.73" r="0.82" fill="#a81e44"/>
<circle cx="339.19" cy="328.48" r="0.82" fill="#a81e44"/>
<circle cx="340.1" cy="309.21" r="0.82" fill="#a81e44"/>
<circle cx="339.49" cy="273.83" r="0.82" fill="#a81e44"/>
<circle cx="340" cy="278.64" r="0.82" fill="#a81e44"/>
<circle cx="339.79" cy="281.05" r="0.82" fill="#a81e44"/>
<circle cx="339.85" cy="275.31" r="0.82" fill="#a81e44"/>
<circle cx="342.33" cy="267.51" r="0.82" fill="#1f4a6e"/>
<rect x="344.35" y="227.13" width="1.2" height="102.77" fill="#c2305a"/>
<circle cx="344.93" cy="309.71" r="0.7" fill="#a81e44"/>
<circle cx="344.67" cy="280.27" r="0.7" fill="#a81e44"/>
<circle cx="344.91" cy="291.5" r="0.7" fill="#a81e44"/>
<circle cx="344.51" cy="269.47" r="0.7" fill="#a81e44"/>
<circle cx="344.9" cy="301.39" r="0.7" fill="#a81e44"/>
<circle cx="344.79" cy="278.12" r="0.7" fill="#a81e44"/>
<circle cx="344.46" cy="261.65" r="0.7" fill="#a81e44"/>
<circle cx="344.59" cy="275.25" r="0.7" fill="#a81e44"/>
<circle cx="345.19" cy="250.76" r="0.7" fill="#a81e44"/>
<circle cx="344.92" cy="237.31" r="0.82" fill="#a81e44"/>
<circle cx="345.37" cy="262.05" r="0.82" fill="#a81e44"/>
<circle cx="344.76" cy="249.88" r="0.82" fill="#a81e44"/>
<circle cx="344.79" cy="260.12" r="0.82" fill="#a81e44"/>
<circle cx="345.25" cy="240.68" r="0.82" fill="#a81e44"/>
<circle cx="345.15" cy="251.19" r="0.82" fill="#a81e44"/>
<rect x="346.95" y="288.31" width="1.2" height="42.82" fill="#2f5f88"/>
<circle cx="347.43" cy="322.01" r="0.7" fill="#1f4a6e"/>
<circle cx="347.23" cy="315.8" r="0.7" fill="#1f4a6e"/>
<circle cx="347.86" cy="315.74" r="0.7" fill="#1f4a6e"/>
<circle cx="347.09" cy="299.72" r="0.7" fill="#1f4a6e"/>
<circle cx="350.42" cy="258.51" r="0.82" fill="#a81e44"/>
<circle cx="350.3" cy="237.92" r="0.82" fill="#a81e44"/>
<circle cx="350.32" cy="238.87" r="0.82" fill="#a81e44"/>
<circle cx="349.63" cy="256.6" r="0.82" fill="#a81e44"/>
<circle cx="349.6" cy="252.31" r="0.82" fill="#a81e44"/>
<circle cx="350.14" cy="222.88" r="0.82" fill="#a81e44"/>
<circle cx="350.62" cy="237.15" r="0.82" fill="#a81e44"/>
<circle cx="349.81" cy="230.59" r="0.82" fill="#a81e44"/>
<rect x="349.61" y="275.46" width="1.0" height="55.67" fill="#a81e44" fill-opacity="0.85"/>
<circle cx="349.68" cy="311.76" r="0.82" fill="#a81e44"/>
<circle cx="350.37" cy="285.38" r="0.82" fill="#a81e44"/>
<circle cx="349.97" cy="303.09" r="0.82" fill="#a81e44"/>
<circle cx="350.1" cy="315.61" r="0.82" fill="#a81e44"/>
<circle cx="350.54" cy="290.18" r="0.82" fill="#a81e44"/>
<circle cx="350.51" cy="282.32" r="0.82" fill="#a81e44"/>
<circle cx="350.02" cy="305.87" r="0.82" fill="#a81e44"/>
<circle cx="350.63" cy="313.07" r="0.82" fill="#a81e44"/>
<circle cx="349.73" cy="320.59" r="0.82" fill="#a81e44"/>
<circle cx="350.57" cy="314.97" r="0.82" fill="#a81e44"/>
<circle cx="349.92" cy="282.09" r="0.82" fill="#a81e44"/>
<circle cx="350.54" cy="282.15" r="0.82" fill="#a81e44"/>
<circle cx="349.77" cy="306.56" r="0.82" fill="#a81e44"/>
<circle cx="349.97" cy="286.69" r="0.82" fill="#a81e44"/>
<circle cx="350.55" cy="324.27" r="0.82" fill="#a81e44"/>
<circle cx="350" cy="305.85" r="0.82" fill="#a81e44"/>
<circle cx="349.84" cy="296.9" r="0.82" fill="#a81e44"/>
<circle cx="349.99" cy="329.97" r="0.82" fill="#a81e44"/>
<circle cx="349.57" cy="309.32" r="0.82" fill="#a81e44"/>
<circle cx="350.4" cy="309.75" r="0.82" fill="#a81e44"/>
<circle cx="350.31" cy="311.98" r="0.82" fill="#a81e44"/>
<circle cx="349.77" cy="295.21" r="0.82" fill="#a81e44"/>
<circle cx="350.3" cy="329.96" r="0.82" fill="#a81e44"/>
<circle cx="349.88" cy="295.99" r="0.82" fill="#a81e44"/>
<circle cx="350.5" cy="319.62" r="0.82" fill="#a81e44"/>
<circle cx="349.82" cy="278.84" r="0.82" fill="#a81e44"/>
<circle cx="350.19" cy="297.43" r="0.82" fill="#a81e44"/>
<circle cx="349.6" cy="312.61" r="0.82" fill="#a81e44"/>
<circle cx="350.27" cy="312.42" r="0.82" fill="#a81e44"/>
<circle cx="350.12" cy="296.51" r="0.82" fill="#a81e44"/>
<circle cx="349.79" cy="324.09" r="0.82" fill="#a81e44"/>
<circle cx="350.02" cy="313.23" r="0.82" fill="#a81e44"/>
<circle cx="350.55" cy="310.24" r="0.82" fill="#a81e44"/>
<circle cx="350.65" cy="324.46" r="0.82" fill="#a81e44"/>
<circle cx="350.5" cy="317.31" r="0.82" fill="#a81e44"/>
<circle cx="350.21" cy="317.12" r="0.82" fill="#a81e44"/>
<circle cx="349.6" cy="309.44" r="0.82" fill="#a81e44"/>
<circle cx="350.45" cy="285.33" r="0.82" fill="#a81e44"/>
<circle cx="350.41" cy="315.65" r="0.82" fill="#a81e44"/>
<circle cx="350.65" cy="303.58" r="0.82" fill="#a81e44"/>
<circle cx="349.98" cy="328" r="0.82" fill="#a81e44"/>
<circle cx="350.25" cy="318.03" r="0.82" fill="#a81e44"/>
<circle cx="350.49" cy="286.4" r="0.82" fill="#a81e44"/>
<circle cx="349.99" cy="299.6" r="0.82" fill="#a81e44"/>
<circle cx="349.68" cy="285.15" r="0.82" fill="#a81e44"/>
<circle cx="350.39" cy="316.18" r="0.82" fill="#a81e44"/>
<circle cx="350.65" cy="305.8" r="0.82" fill="#a81e44"/>
<circle cx="350.07" cy="325.9" r="0.82" fill="#a81e44"/>
<circle cx="349.56" cy="318.91" r="0.82" fill="#a81e44"/>
<circle cx="349.66" cy="325.75" r="0.82" fill="#a81e44"/>
<circle cx="350.04" cy="309.91" r="0.82" fill="#a81e44"/>
<circle cx="349.88" cy="301.93" r="0.82" fill="#a81e44"/>
<circle cx="350.13" cy="290.76" r="0.82" fill="#a81e44"/>
<circle cx="349.75" cy="274.67" r="0.82" fill="#a81e44"/>
<circle cx="350.1" cy="301.77" r="0.82" fill="#a81e44"/>
<circle cx="350.51" cy="309.75" r="0.82" fill="#a81e44"/>
<circle cx="350.53" cy="319.08" r="0.82" fill="#a81e44"/>
<circle cx="349.93" cy="310.56" r="0.82" fill="#a81e44"/>
<circle cx="350.18" cy="295.77" r="0.82" fill="#a81e44"/>
<circle cx="349.65" cy="314.8" r="0.82" fill="#a81e44"/>
<circle cx="349.97" cy="276.2" r="0.82" fill="#a81e44"/>
<circle cx="350.28" cy="324.55" r="0.82" fill="#a81e44"/>
<circle cx="349.92" cy="300.54" r="0.82" fill="#a81e44"/>
<circle cx="350.49" cy="312.24" r="0.82" fill="#a81e44"/>
<circle cx="350.02" cy="311.66" r="0.82" fill="#a81e44"/>
<circle cx="349.96" cy="276.1" r="0.82" fill="#a81e44"/>
<circle cx="349.74" cy="308.01" r="0.82" fill="#a81e44"/>
<circle cx="350.29" cy="293.03" r="0.82" fill="#a81e44"/>
<circle cx="350.01" cy="305.46" r="0.82" fill="#a81e44"/>
<circle cx="350.43" cy="317.75" r="0.82" fill="#a81e44"/>
<circle cx="350.48" cy="304.84" r="0.82" fill="#a81e44"/>
<circle cx="350.37" cy="309.57" r="0.82" fill="#a81e44"/>
<circle cx="349.8" cy="329.48" r="0.82" fill="#a81e44"/>
<circle cx="350.31" cy="275.89" r="0.82" fill="#a81e44"/>
<circle cx="350.11" cy="292.27" r="0.82" fill="#a81e44"/>
<circle cx="349.78" cy="303.97" r="0.82" fill="#a81e44"/>
<circle cx="352.8" cy="239.37" r="0.82" fill="#1f4a6e"/>
<circle cx="352.57" cy="265.06" r="0.82" fill="#1f4a6e"/>
<rect x="354.77" y="288.31" width="1.2" height="42.82" fill="#c2305a"/>
<circle cx="354.81" cy="303.53" r="0.7" fill="#a81e44"/>
<circle cx="354.86" cy="304.88" r="0.7" fill="#a81e44"/>
<circle cx="355.06" cy="309.31" r="0.7" fill="#a81e44"/>
<circle cx="354.81" cy="307.55" r="0.7" fill="#a81e44"/>
<rect x="357.37" y="288.31" width="1.2" height="39.15" fill="#2f5f88"/>
<circle cx="358.08" cy="308.53" r="0.7" fill="#1f4a6e"/>
<circle cx="357.65" cy="322.18" r="0.7" fill="#1f4a6e"/>
<circle cx="357.98" cy="300.89" r="0.7" fill="#1f4a6e"/>
<circle cx="355.63" cy="302.27" r="0.82" fill="#a81e44"/>
<circle cx="355.01" cy="304.21" r="0.82" fill="#a81e44"/>
<circle cx="355.68" cy="309.73" r="0.82" fill="#a81e44"/>
<circle cx="355.6" cy="304.42" r="0.82" fill="#a81e44"/>
<circle cx="355.26" cy="313.09" r="0.82" fill="#a81e44"/>
<circle cx="355.67" cy="287.15" r="0.82" fill="#a81e44"/>
<circle cx="354.89" cy="300.73" r="0.82" fill="#a81e44"/>
<circle cx="354.81" cy="302.48" r="0.82" fill="#a81e44"/>
<circle cx="355.84" cy="288.69" r="0.82" fill="#a81e44"/>
<circle cx="355.06" cy="297.5" r="0.82" fill="#a81e44"/>
<circle cx="354.96" cy="292.46" r="0.82" fill="#a81e44"/>
<circle cx="355.34" cy="293.23" r="0.82" fill="#a81e44"/>
<circle cx="355.75" cy="328.01" r="0.82" fill="#a81e44"/>
<circle cx="355.68" cy="309.84" r="0.82" fill="#a81e44"/>
<rect x="360.03" y="275.46" width="1.0" height="55.67" fill="#a81e44" fill-opacity="0.85"/>
<circle cx="360.57" cy="291.54" r="0.82" fill="#a81e44"/>
<circle cx="360.2" cy="281.54" r="0.82" fill="#a81e44"/>
<circle cx="360.35" cy="279.46" r="0.82" fill="#a81e44"/>
<circle cx="360.35" cy="329.63" r="0.82" fill="#a81e44"/>
<circle cx="360.06" cy="327.33" r="0.82" fill="#a81e44"/>
<circle cx="360.11" cy="295.24" r="0.82" fill="#a81e44"/>
<circle cx="360.3" cy="321.95" r="0.82" fill="#a81e44"/>
<circle cx="360.99" cy="315.1" r="0.82" fill="#a81e44"/>
<circle cx="360.94" cy="279.07" r="0.82" fill="#a81e44"/>
<circle cx="360.46" cy="274.21" r="0.82" fill="#a81e44"/>
<circle cx="360.29" cy="285.37" r="0.82" fill="#a81e44"/>
<circle cx="360.87" cy="277.85" r="0.82" fill="#a81e44"/>
<circle cx="360.23" cy="289.03" r="0.82" fill="#a81e44"/>
<circle cx="361" cy="325.87" r="0.82" fill="#a81e44"/>
<circle cx="360.65" cy="299.38" r="0.82" fill="#a81e44"/>
<circle cx="360.14" cy="281.56" r="0.82" fill="#a81e44"/>
<circle cx="360.49" cy="290.92" r="0.82" fill="#a81e44"/>
<circle cx="360.48" cy="285.93" r="0.82" fill="#a81e44"/>
<circle cx="361.03" cy="319.82" r="0.82" fill="#a81e44"/>
<circle cx="360.8" cy="314.96" r="0.82" fill="#a81e44"/>
<circle cx="360.25" cy="283.33" r="0.82" fill="#a81e44"/>
<circle cx="360.42" cy="291.16" r="0.82" fill="#a81e44"/>
<circle cx="360.22" cy="318.24" r="0.82" fill="#a81e44"/>
<circle cx="360.39" cy="276.27" r="0.82" fill="#a81e44"/>
<circle cx="360.53" cy="301.81" r="0.82" fill="#a81e44"/>
<circle cx="360.81" cy="329.6" r="0.82" fill="#a81e44"/>
<circle cx="360.94" cy="288.28" r="0.82" fill="#a81e44"/>
<circle cx="360.21" cy="310.6" r="0.82" fill="#a81e44"/>
<circle cx="360.79" cy="311.15" r="0.82" fill="#a81e44"/>
<circle cx="360.43" cy="293.29" r="0.82" fill="#a81e44"/>
<circle cx="360.15" cy="300.96" r="0.82" fill="#a81e44"/>
<circle cx="360.5" cy="278.31" r="0.82" fill="#a81e44"/>
<circle cx="360.85" cy="301.99" r="0.82" fill="#a81e44"/>
<circle cx="360.77" cy="319.75" r="0.82" fill="#a81e44"/>
<circle cx="360.87" cy="310.81" r="0.82" fill="#a81e44"/>
<circle cx="360.28" cy="325.7" r="0.82" fill="#a81e44"/>
<circle cx="360.51" cy="294.58" r="0.82" fill="#a81e44"/>
<circle cx="360.62" cy="309.46" r="0.82" fill="#a81e44"/>
<circle cx="360.46" cy="318.61" r="0.82" fill="#a81e44"/>
<circle cx="360.86" cy="331.02" r="0.82" fill="#a81e44"/>
<circle cx="360.89" cy="316.53" r="0.82" fill="#a81e44"/>
<circle cx="360.64" cy="299.38" r="0.82" fill="#a81e44"/>
<circle cx="360.12" cy="295.13" r="0.82" fill="#a81e44"/>
<circle cx="360.3" cy="286.44" r="0.82" fill="#a81e44"/>
<circle cx="360.85" cy="281.52" r="0.82" fill="#a81e44"/>
<circle cx="360.88" cy="292.13" r="0.82" fill="#a81e44"/>
<circle cx="360.72" cy="306.02" r="0.82" fill="#a81e44"/>
<circle cx="360.19" cy="276.34" r="0.82" fill="#a81e44"/>
<circle cx="360.43" cy="325.34" r="0.82" fill="#a81e44"/>
<circle cx="360.14" cy="301.83" r="0.82" fill="#a81e44"/>
<circle cx="360.93" cy="318.41" r="0.82" fill="#a81e44"/>
<circle cx="360.14" cy="308.82" r="0.82" fill="#a81e44"/>
<circle cx="360.62" cy="320.61" r="0.82" fill="#a81e44"/>
<circle cx="360.5" cy="320.21" r="0.82" fill="#a81e44"/>
<circle cx="360.46" cy="300.21" r="0.82" fill="#a81e44"/>
<circle cx="360.9" cy="302.16" r="0.82" fill="#a81e44"/>
<circle cx="361" cy="330.17" r="0.82" fill="#a81e44"/>
<circle cx="360.02" cy="319.67" r="0.82" fill="#a81e44"/>
<circle cx="360.61" cy="286.99" r="0.82" fill="#a81e44"/>
<circle cx="360.22" cy="300.2" r="0.82" fill="#a81e44"/>
<circle cx="360.32" cy="286.21" r="0.82" fill="#a81e44"/>
<circle cx="360.23" cy="289.33" r="0.82" fill="#a81e44"/>
<circle cx="360.69" cy="298.19" r="0.82" fill="#a81e44"/>
<circle cx="360.51" cy="309.76" r="0.82" fill="#a81e44"/>
<circle cx="360.69" cy="327.38" r="0.82" fill="#a81e44"/>
<circle cx="360.15" cy="291.38" r="0.82" fill="#a81e44"/>
<circle cx="360.79" cy="299.46" r="0.82" fill="#a81e44"/>
<circle cx="360.9" cy="325.32" r="0.82" fill="#a81e44"/>
<circle cx="360.04" cy="281.08" r="0.82" fill="#a81e44"/>
<circle cx="360.07" cy="316.84" r="0.82" fill="#a81e44"/>
<circle cx="360.07" cy="316.6" r="0.82" fill="#a81e44"/>
<circle cx="360.26" cy="302.99" r="0.82" fill="#a81e44"/>
<circle cx="360.49" cy="313.87" r="0.82" fill="#a81e44"/>
<circle cx="360.85" cy="309.76" r="0.82" fill="#a81e44"/>
<circle cx="360.11" cy="289.57" r="0.82" fill="#a81e44"/>
<circle cx="359.99" cy="318.28" r="0.82" fill="#a81e44"/>
<circle cx="362.7" cy="318.61" r="0.82" fill="#1f4a6e"/>
<circle cx="363.44" cy="307.36" r="0.82" fill="#1f4a6e"/>
<circle cx="362.81" cy="298.22" r="0.82" fill="#1f4a6e"/>
<circle cx="363.41" cy="327.56" r="0.82" fill="#1f4a6e"/>
<circle cx="363.6" cy="316.09" r="0.82" fill="#1f4a6e"/>
<circle cx="362.92" cy="316.68" r="0.82" fill="#1f4a6e"/>
<circle cx="363.62" cy="326.46" r="0.82" fill="#1f4a6e"/>
<circle cx="363.06" cy="313.02" r="0.82" fill="#1f4a6e"/>
<circle cx="363.43" cy="315.31" r="0.82" fill="#1f4a6e"/>
<circle cx="363.1" cy="303.27" r="0.82" fill="#1f4a6e"/>
<circle cx="363.03" cy="323.23" r="0.82" fill="#1f4a6e"/>
<circle cx="363.03" cy="301.42" r="0.82" fill="#1f4a6e"/>
<circle cx="363.2" cy="308.47" r="0.82" fill="#1f4a6e"/>
<circle cx="363.21" cy="314.57" r="0.82" fill="#1f4a6e"/>
<rect x="367.84" y="271.9" width="1.0" height="59.23" fill="#1f4a6e" fill-opacity="0.85"/>
<circle cx="368.4" cy="316.13" r="0.82" fill="#1f4a6e"/>
<circle cx="367.88" cy="278.23" r="0.82" fill="#1f4a6e"/>
<circle cx="368.76" cy="308.56" r="0.82" fill="#1f4a6e"/>
<circle cx="367.8" cy="271.29" r="0.82" fill="#1f4a6e"/>
<circle cx="368.49" cy="292.77" r="0.82" fill="#1f4a6e"/>
<circle cx="368.31" cy="279.55" r="0.82" fill="#1f4a6e"/>
<circle cx="368.12" cy="323.12" r="0.82" fill="#1f4a6e"/>
<circle cx="368.59" cy="287.53" r="0.82" fill="#1f4a6e"/>
<circle cx="368.5" cy="318.61" r="0.82" fill="#1f4a6e"/>
<circle cx="368.51" cy="290.95" r="0.82" fill="#1f4a6e"/>
<circle cx="368.28" cy="329.79" r="0.82" fill="#1f4a6e"/>
<circle cx="368.45" cy="311.25" r="0.82" fill="#1f4a6e"/>
<circle cx="367.93" cy="310.53" r="0.82" fill="#1f4a6e"/>
<circle cx="368.11" cy="290.12" r="0.82" fill="#1f4a6e"/>
<circle cx="368.13" cy="282.76" r="0.82" fill="#1f4a6e"/>
<circle cx="368.68" cy="297.74" r="0.82" fill="#1f4a6e"/>
<circle cx="368.59" cy="324.06" r="0.82" fill="#1f4a6e"/>
<circle cx="368.82" cy="326.96" r="0.82" fill="#1f4a6e"/>
<circle cx="368.59" cy="329.59" r="0.82" fill="#1f4a6e"/>
<circle cx="367.99" cy="308.57" r="0.82" fill="#1f4a6e"/>
<circle cx="368.34" cy="306.97" r="0.82" fill="#1f4a6e"/>
<circle cx="367.92" cy="305.75" r="0.82" fill="#1f4a6e"/>
<circle cx="368.12" cy="299.15" r="0.82" fill="#1f4a6e"/>
<circle cx="368.21" cy="271.96" r="0.82" fill="#1f4a6e"/>
<circle cx="368.04" cy="304.5" r="0.82" fill="#1f4a6e"/>
<circle cx="368.14" cy="271.86" r="0.82" fill="#1f4a6e"/>
<circle cx="368.71" cy="291.59" r="0.82" fill="#1f4a6e"/>
<circle cx="368.62" cy="307.08" r="0.82" fill="#1f4a6e"/>
<circle cx="367.91" cy="314.08" r="0.82" fill="#1f4a6e"/>
<circle cx="368.28" cy="328.55" r="0.82" fill="#1f4a6e"/>
<circle cx="368.01" cy="277.67" r="0.82" fill="#1f4a6e"/>
<circle cx="368.63" cy="304.18" r="0.82" fill="#1f4a6e"/>
<circle cx="367.96" cy="314.23" r="0.82" fill="#1f4a6e"/>
<circle cx="368.26" cy="299.36" r="0.82" fill="#1f4a6e"/>
<circle cx="368.78" cy="273.72" r="0.82" fill="#1f4a6e"/>
<circle cx="368.41" cy="316.57" r="0.82" fill="#1f4a6e"/>
<circle cx="367.83" cy="305.67" r="0.82" fill="#1f4a6e"/>
<circle cx="368.8" cy="303.95" r="0.82" fill="#1f4a6e"/>
<circle cx="368.43" cy="312.61" r="0.82" fill="#1f4a6e"/>
<circle cx="367.86" cy="287.67" r="0.82" fill="#1f4a6e"/>
<circle cx="367.91" cy="274.6" r="0.82" fill="#1f4a6e"/>
<circle cx="368.58" cy="312.68" r="0.82" fill="#1f4a6e"/>
<circle cx="368.2" cy="329.95" r="0.82" fill="#1f4a6e"/>
<circle cx="368.31" cy="323.38" r="0.82" fill="#1f4a6e"/>
<circle cx="367.96" cy="330.16" r="0.82" fill="#1f4a6e"/>
<circle cx="367.88" cy="317.52" r="0.82" fill="#1f4a6e"/>
<circle cx="368" cy="325.59" r="0.82" fill="#1f4a6e"/>
<circle cx="367.94" cy="299.46" r="0.82" fill="#1f4a6e"/>
<circle cx="368.25" cy="280.9" r="0.82" fill="#1f4a6e"/>
<circle cx="368.06" cy="315.72" r="0.82" fill="#1f4a6e"/>
<circle cx="367.84" cy="279.77" r="0.82" fill="#1f4a6e"/>
<circle cx="367.9" cy="285.73" r="0.82" fill="#1f4a6e"/>
<circle cx="368.24" cy="273.35" r="0.82" fill="#1f4a6e"/>
<circle cx="368.74" cy="294.57" r="0.82" fill="#1f4a6e"/>
<circle cx="367.86" cy="324.99" r="0.82" fill="#1f4a6e"/>
<circle cx="368.44" cy="288.7" r="0.82" fill="#1f4a6e"/>
<circle cx="368.1" cy="287.02" r="0.82" fill="#1f4a6e"/>
<circle cx="368" cy="300.73" r="0.82" fill="#1f4a6e"/>
<circle cx="368.1" cy="304.39" r="0.82" fill="#1f4a6e"/>
<circle cx="368.12" cy="295.3" r="0.82" fill="#1f4a6e"/>
<circle cx="368.5" cy="314.32" r="0.82" fill="#1f4a6e"/>
<circle cx="368.67" cy="325.9" r="0.82" fill="#1f4a6e"/>
<circle cx="368.04" cy="300.8" r="0.82" fill="#1f4a6e"/>
<circle cx="368.35" cy="324.1" r="0.82" fill="#1f4a6e"/>
<circle cx="368.58" cy="300.3" r="0.82" fill="#1f4a6e"/>
<circle cx="368.24" cy="308.26" r="0.82" fill="#1f4a6e"/>
<circle cx="368.09" cy="276.53" r="0.82" fill="#1f4a6e"/>
<rect x="365.24" y="271.9" width="1.0" height="59.23" fill="#a81e44" fill-opacity="0.85"/>
<circle cx="366.17" cy="271.11" r="0.82" fill="#a81e44"/>
<circle cx="366.23" cy="270.55" r="0.82" fill="#a81e44"/>
<circle cx="366.09" cy="315.4" r="0.82" fill="#a81e44"/>
<circle cx="365.41" cy="293.7" r="0.82" fill="#a81e44"/>
<circle cx="365.9" cy="270.11" r="0.82" fill="#a81e44"/>
<circle cx="365.8" cy="281.6" r="0.82" fill="#a81e44"/>
<circle cx="366.14" cy="326.26" r="0.82" fill="#a81e44"/>
<circle cx="365.48" cy="320.4" r="0.82" fill="#a81e44"/>
<circle cx="365.4" cy="293.43" r="0.82" fill="#a81e44"/>
<circle cx="365.97" cy="302.83" r="0.82" fill="#a81e44"/>
<circle cx="365.92" cy="325.26" r="0.82" fill="#a81e44"/>
<circle cx="365.71" cy="324.74" r="0.82" fill="#a81e44"/>
<circle cx="365.95" cy="291.4" r="0.82" fill="#a81e44"/>
<circle cx="365.4" cy="328.49" r="0.82" fill="#a81e44"/>
<circle cx="365.62" cy="272.39" r="0.82" fill="#a81e44"/>
<circle cx="365.6" cy="305.14" r="0.82" fill="#a81e44"/>
<circle cx="366" cy="288.54" r="0.82" fill="#a81e44"/>
<circle cx="365.63" cy="291.35" r="0.82" fill="#a81e44"/>
<circle cx="365.76" cy="296.29" r="0.82" fill="#a81e44"/>
<circle cx="366.23" cy="319.63" r="0.82" fill="#a81e44"/>
<circle cx="366.05" cy="272.1" r="0.82" fill="#a81e44"/>
<circle cx="365.7" cy="270.41" r="0.82" fill="#a81e44"/>
<circle cx="365.45" cy="279.8" r="0.82" fill="#a81e44"/>
<circle cx="365.98" cy="285.69" r="0.82" fill="#a81e44"/>
<circle cx="366.11" cy="273.71" r="0.82" fill="#a81e44"/>
<circle cx="365.48" cy="277.34" r="0.82" fill="#a81e44"/>
<circle cx="365.71" cy="282.96" r="0.82" fill="#a81e44"/>
<circle cx="365.6" cy="312.01" r="0.82" fill="#a81e44"/>
<circle cx="366.12" cy="282.26" r="0.82" fill="#a81e44"/>
<circle cx="365.93" cy="279.46" r="0.82" fill="#a81e44"/>
<circle cx="365.36" cy="320.71" r="0.82" fill="#a81e44"/>
<circle cx="365.42" cy="296.38" r="0.82" fill="#a81e44"/>
<circle cx="365.3" cy="310.54" r="0.82" fill="#a81e44"/>
<circle cx="365.98" cy="321.66" r="0.82" fill="#a81e44"/>
<circle cx="366.12" cy="317.45" r="0.82" fill="#a81e44"/>
<circle cx="366.12" cy="311" r="0.82" fill="#a81e44"/>
<circle cx="365.48" cy="312.62" r="0.82" fill="#a81e44"/>
<circle cx="365.2" cy="306.98" r="0.82" fill="#a81e44"/>
<circle cx="365.61" cy="304.49" r="0.82" fill="#a81e44"/>
<circle cx="366.14" cy="330.36" r="0.82" fill="#a81e44"/>
<circle cx="365.19" cy="308.18" r="0.82" fill="#a81e44"/>
<circle cx="365.44" cy="272.38" r="0.82" fill="#a81e44"/>
<circle cx="365.22" cy="315.65" r="0.82" fill="#a81e44"/>
<circle cx="365.97" cy="325.04" r="0.82" fill="#a81e44"/>
<circle cx="365.74" cy="295.53" r="0.82" fill="#a81e44"/>
<circle cx="365.51" cy="316.07" r="0.82" fill="#a81e44"/>
<circle cx="365.6" cy="271.78" r="0.82" fill="#a81e44"/>
<circle cx="366.17" cy="270.6" r="0.82" fill="#a81e44"/>
<circle cx="366.12" cy="323.51" r="0.82" fill="#a81e44"/>
<circle cx="365.97" cy="329.84" r="0.82" fill="#a81e44"/>
<circle cx="365.96" cy="281.6" r="0.82" fill="#a81e44"/>
<circle cx="366.08" cy="297.5" r="0.82" fill="#a81e44"/>
<circle cx="365.78" cy="321.69" r="0.82" fill="#a81e44"/>
<circle cx="365.63" cy="314.87" r="0.82" fill="#a81e44"/>
<circle cx="365.97" cy="319.43" r="0.82" fill="#a81e44"/>
<circle cx="366.05" cy="296.07" r="0.82" fill="#a81e44"/>
<circle cx="365.85" cy="292.7" r="0.82" fill="#a81e44"/>
<circle cx="366.08" cy="274.73" r="0.82" fill="#a81e44"/>
<circle cx="365.55" cy="296.46" r="0.82" fill="#a81e44"/>
<circle cx="365.6" cy="274.37" r="0.82" fill="#a81e44"/>
<circle cx="365.56" cy="324.88" r="0.82" fill="#a81e44"/>
<circle cx="366.21" cy="287.92" r="0.82" fill="#a81e44"/>
<circle cx="368.44" cy="268.73" r="0.82" fill="#1f4a6e"/>
<circle cx="371.26" cy="287.39" r="0.82" fill="#a81e44"/>
<circle cx="370.91" cy="299.43" r="0.82" fill="#a81e44"/>
<circle cx="370.75" cy="291.74" r="0.82" fill="#a81e44"/>
<circle cx="371.08" cy="307.64" r="0.82" fill="#a81e44"/>
<circle cx="370.67" cy="290.53" r="0.82" fill="#a81e44"/>
<circle cx="371.38" cy="293.6" r="0.82" fill="#a81e44"/>
<circle cx="370.55" cy="307.21" r="0.82" fill="#a81e44"/>
<circle cx="370.77" cy="298.27" r="0.82" fill="#a81e44"/>
<circle cx="371.5" cy="287.1" r="0.82" fill="#a81e44"/>
<circle cx="371.27" cy="299.43" r="0.82" fill="#a81e44"/>
<circle cx="370.59" cy="294.87" r="0.82" fill="#a81e44"/>
<circle cx="370.59" cy="286.55" r="0.82" fill="#a81e44"/>
<circle cx="370.9" cy="308.47" r="0.82" fill="#a81e44"/>
<circle cx="370.93" cy="309.89" r="0.82" fill="#a81e44"/>
<circle cx="371.45" cy="300.25" r="0.82" fill="#a81e44"/>
<circle cx="371.33" cy="300.21" r="0.82" fill="#a81e44"/>
<circle cx="373.64" cy="291.25" r="0.82" fill="#1f4a6e"/>
<circle cx="373.34" cy="304.51" r="0.82" fill="#1f4a6e"/>
<circle cx="373.43" cy="298.3" r="0.82" fill="#1f4a6e"/>
<circle cx="373.56" cy="294.53" r="0.82" fill="#1f4a6e"/>
<circle cx="373.67" cy="302.43" r="0.82" fill="#1f4a6e"/>
<circle cx="373.22" cy="285.94" r="0.82" fill="#1f4a6e"/>
<circle cx="373.01" cy="302.12" r="0.82" fill="#1f4a6e"/>
<circle cx="373.06" cy="308.04" r="0.82" fill="#1f4a6e"/>
<circle cx="373.92" cy="299.98" r="0.82" fill="#1f4a6e"/>
<circle cx="374.06" cy="293.26" r="0.82" fill="#1f4a6e"/>
<circle cx="373.64" cy="289.85" r="0.82" fill="#1f4a6e"/>
<circle cx="373.01" cy="296.13" r="0.82" fill="#1f4a6e"/>
<circle cx="373.29" cy="300.95" r="0.82" fill="#1f4a6e"/>
<circle cx="373.07" cy="295.14" r="0.82" fill="#1f4a6e"/>
<rect x="373" y="288.31" width="1.2" height="22.02" fill="#2f5f88"/>
<circle cx="373.38" cy="298.39" r="0.7" fill="#1f4a6e"/>
<circle cx="373.42" cy="299.5" r="0.7" fill="#1f4a6e"/>
<circle cx="376.41" cy="260.71" r="0.82" fill="#a81e44"/>
<circle cx="376.27" cy="239.36" r="0.82" fill="#a81e44"/>
<circle cx="376.27" cy="260.3" r="0.82" fill="#a81e44"/>
<circle cx="376.7" cy="237.2" r="0.82" fill="#a81e44"/>
<circle cx="375.66" cy="240.64" r="0.82" fill="#a81e44"/>
<circle cx="376.34" cy="236.97" r="0.82" fill="#a81e44"/>
<circle cx="376.62" cy="255.38" r="0.82" fill="#a81e44"/>
<rect x="375.61" y="263.84" width="1.2" height="61.18" fill="#c2305a"/>
<circle cx="376.71" cy="274.48" r="0.7" fill="#a81e44"/>
<circle cx="376.27" cy="309.87" r="0.7" fill="#a81e44"/>
<circle cx="375.87" cy="301.83" r="0.7" fill="#a81e44"/>
<circle cx="376.32" cy="278.44" r="0.7" fill="#a81e44"/>
<circle cx="376.22" cy="304.71" r="0.7" fill="#a81e44"/>
<rect x="378.21" y="269.95" width="1.2" height="55.06" fill="#2f5f88"/>
<circle cx="378.85" cy="273.9" r="0.7" fill="#1f4a6e"/>
<circle cx="378.85" cy="274.72" r="0.7" fill="#1f4a6e"/>
<circle cx="378.1" cy="270.38" r="0.7" fill="#1f4a6e"/>
<circle cx="378.83" cy="299.69" r="0.7" fill="#1f4a6e"/>
<circle cx="379.42" cy="285" r="0.7" fill="#1f4a6e"/>
<circle cx="378.74" cy="266" r="0.82" fill="#1f4a6e"/>
<circle cx="378.8" cy="265.86" r="0.82" fill="#1f4a6e"/>
<circle cx="379.25" cy="265" r="0.82" fill="#1f4a6e"/>
<rect x="383.47" y="271.9" width="1.0" height="59.23" fill="#1f4a6e" fill-opacity="0.85"/>
<circle cx="383.77" cy="330.28" r="0.82" fill="#1f4a6e"/>
<circle cx="383.49" cy="277.52" r="0.82" fill="#1f4a6e"/>
<circle cx="383.45" cy="282.78" r="0.82" fill="#1f4a6e"/>
<circle cx="384.3" cy="291.48" r="0.82" fill="#1f4a6e"/>
<circle cx="383.84" cy="316.56" r="0.82" fill="#1f4a6e"/>
<circle cx="384.2" cy="317.28" r="0.82" fill="#1f4a6e"/>
<circle cx="384.09" cy="298.78" r="0.82" fill="#1f4a6e"/>
<circle cx="384.07" cy="311.22" r="0.82" fill="#1f4a6e"/>
<circle cx="384.28" cy="272.74" r="0.82" fill="#1f4a6e"/>
<circle cx="383.69" cy="272.91" r="0.82" fill="#1f4a6e"/>
<circle cx="383.84" cy="299.56" r="0.82" fill="#1f4a6e"/>
<circle cx="384.3" cy="309.96" r="0.82" fill="#1f4a6e"/>
<circle cx="384.03" cy="320.43" r="0.82" fill="#1f4a6e"/>
<circle cx="384.45" cy="283.78" r="0.82" fill="#1f4a6e"/>
<circle cx="383.72" cy="329.99" r="0.82" fill="#1f4a6e"/>
<circle cx="384.45" cy="300.97" r="0.82" fill="#1f4a6e"/>
<circle cx="384.34" cy="321.15" r="0.82" fill="#1f4a6e"/>
<circle cx="384.02" cy="306.83" r="0.82" fill="#1f4a6e"/>
<circle cx="383.49" cy="274.36" r="0.82" fill="#1f4a6e"/>
<circle cx="383.59" cy="310.97" r="0.82" fill="#1f4a6e"/>
<circle cx="383.75" cy="322.94" r="0.82" fill="#1f4a6e"/>
<circle cx="384.06" cy="288.26" r="0.82" fill="#1f4a6e"/>
<circle cx="384.3" cy="323.68" r="0.82" fill="#1f4a6e"/>
<circle cx="383.58" cy="300.1" r="0.82" fill="#1f4a6e"/>
<circle cx="384.32" cy="280.94" r="0.82" fill="#1f4a6e"/>
<circle cx="384.45" cy="317.87" r="0.82" fill="#1f4a6e"/>
<circle cx="383.67" cy="281.56" r="0.82" fill="#1f4a6e"/>
<circle cx="384.37" cy="331.07" r="0.82" fill="#1f4a6e"/>
<circle cx="383.53" cy="280.6" r="0.82" fill="#1f4a6e"/>
<circle cx="384.27" cy="284.24" r="0.82" fill="#1f4a6e"/>
<circle cx="384.34" cy="292.36" r="0.82" fill="#1f4a6e"/>
<circle cx="383.78" cy="270.88" r="0.82" fill="#1f4a6e"/>
<circle cx="384.43" cy="280.11" r="0.82" fill="#1f4a6e"/>
<circle cx="384.17" cy="311.95" r="0.82" fill="#1f4a6e"/>
<circle cx="384.35" cy="289.26" r="0.82" fill="#1f4a6e"/>
<circle cx="383.72" cy="296.45" r="0.82" fill="#1f4a6e"/>
<circle cx="384.02" cy="315.73" r="0.82" fill="#1f4a6e"/>
<circle cx="384.37" cy="322.85" r="0.82" fill="#1f4a6e"/>
<circle cx="383.69" cy="276.73" r="0.82" fill="#1f4a6e"/>
<circle cx="384.16" cy="288.48" r="0.82" fill="#1f4a6e"/>
<circle cx="384.28" cy="323.67" r="0.82" fill="#1f4a6e"/>
<circle cx="383.76" cy="284.25" r="0.82" fill="#1f4a6e"/>
<circle cx="383.73" cy="325.12" r="0.82" fill="#1f4a6e"/>
<circle cx="383.93" cy="283.93" r="0.82" fill="#1f4a6e"/>
<circle cx="383.6" cy="281.25" r="0.82" fill="#1f4a6e"/>
<circle cx="383.8" cy="324.61" r="0.82" fill="#1f4a6e"/>
<circle cx="383.6" cy="277.3" r="0.82" fill="#1f4a6e"/>
<circle cx="384.25" cy="326.64" r="0.82" fill="#1f4a6e"/>
<circle cx="384.15" cy="325.54" r="0.82" fill="#1f4a6e"/>
<circle cx="383.69" cy="326.02" r="0.82" fill="#1f4a6e"/>
<circle cx="384.38" cy="290.53" r="0.82" fill="#1f4a6e"/>
<circle cx="383.91" cy="306.1" r="0.82" fill="#1f4a6e"/>
<circle cx="383.79" cy="329.23" r="0.82" fill="#1f4a6e"/>
<circle cx="384.29" cy="316.32" r="0.82" fill="#1f4a6e"/>
<circle cx="384.28" cy="287.44" r="0.82" fill="#1f4a6e"/>
<circle cx="384.19" cy="298.6" r="0.82" fill="#1f4a6e"/>
<circle cx="383.84" cy="323.35" r="0.82" fill="#1f4a6e"/>
<circle cx="383.73" cy="313.21" r="0.82" fill="#1f4a6e"/>
<circle cx="383.66" cy="285.91" r="0.82" fill="#1f4a6e"/>
<circle cx="383.73" cy="311.23" r="0.82" fill="#1f4a6e"/>
<circle cx="384.12" cy="278.27" r="0.82" fill="#1f4a6e"/>
<circle cx="383.84" cy="301.73" r="0.82" fill="#1f4a6e"/>
<circle cx="384.45" cy="274.75" r="0.82" fill="#1f4a6e"/>
<circle cx="384.04" cy="303.62" r="0.82" fill="#1f4a6e"/>
<circle cx="383.7" cy="278.37" r="0.82" fill="#1f4a6e"/>
<circle cx="383.53" cy="315.31" r="0.82" fill="#1f4a6e"/>
<circle cx="384.27" cy="300.42" r="0.82" fill="#1f4a6e"/>
<circle cx="383.9" cy="321.55" r="0.82" fill="#1f4a6e"/>
<circle cx="383.95" cy="270.53" r="0.82" fill="#1f4a6e"/>
<circle cx="384.34" cy="307.74" r="0.82" fill="#1f4a6e"/>
<circle cx="383.83" cy="276.55" r="0.82" fill="#1f4a6e"/>
<circle cx="384.12" cy="323.57" r="0.82" fill="#1f4a6e"/>
<circle cx="384.44" cy="285.84" r="0.82" fill="#1f4a6e"/>
<circle cx="383.76" cy="290.75" r="0.82" fill="#1f4a6e"/>
<circle cx="383.74" cy="299.63" r="0.82" fill="#1f4a6e"/>
<circle cx="383.93" cy="303.85" r="0.82" fill="#1f4a6e"/>
<rect x="380.87" y="271.9" width="1.0" height="59.23" fill="#a81e44" fill-opacity="0.85"/>
<circle cx="381.82" cy="275.32" r="0.82" fill="#a81e44"/>
<circle cx="381.35" cy="274.46" r="0.82" fill="#a81e44"/>
<circle cx="380.97" cy="272.13" r="0.82" fill="#a81e44"/>
<circle cx="381.52" cy="274.78" r="0.82" fill="#a81e44"/>
<circle cx="381.27" cy="277.75" r="0.82" fill="#a81e44"/>
<circle cx="380.85" cy="270.51" r="0.82" fill="#a81e44"/>
<circle cx="381.72" cy="279.26" r="0.82" fill="#a81e44"/>
<circle cx="381.73" cy="308.24" r="0.82" fill="#a81e44"/>
<circle cx="381.65" cy="318.06" r="0.82" fill="#a81e44"/>
<circle cx="381.27" cy="302.47" r="0.82" fill="#a81e44"/>
<circle cx="381.7" cy="319.1" r="0.82" fill="#a81e44"/>
<circle cx="380.92" cy="286.41" r="0.82" fill="#a81e44"/>
<circle cx="381.06" cy="271.3" r="0.82" fill="#a81e44"/>
<circle cx="381.28" cy="308.17" r="0.82" fill="#a81e44"/>
<circle cx="381.8" cy="295.86" r="0.82" fill="#a81e44"/>
<circle cx="381.52" cy="273.31" r="0.82" fill="#a81e44"/>
<circle cx="380.94" cy="308.77" r="0.82" fill="#a81e44"/>
<circle cx="381.39" cy="326.92" r="0.82" fill="#a81e44"/>
<circle cx="381.31" cy="295.45" r="0.82" fill="#a81e44"/>
<circle cx="381.27" cy="271.03" r="0.82" fill="#a81e44"/>
<circle cx="381.28" cy="309.66" r="0.82" fill="#a81e44"/>
<circle cx="381.85" cy="320.62" r="0.82" fill="#a81e44"/>
<circle cx="381.42" cy="294.98" r="0.82" fill="#a81e44"/>
<circle cx="381.1" cy="305.08" r="0.82" fill="#a81e44"/>
<circle cx="381.36" cy="311.83" r="0.82" fill="#a81e44"/>
<circle cx="381.9" cy="303.83" r="0.82" fill="#a81e44"/>
<circle cx="381.05" cy="296.68" r="0.82" fill="#a81e44"/>
<circle cx="381" cy="327.85" r="0.82" fill="#a81e44"/>
<circle cx="381.68" cy="309.97" r="0.82" fill="#a81e44"/>
<circle cx="381.08" cy="276.73" r="0.82" fill="#a81e44"/>
<circle cx="381.31" cy="283.4" r="0.82" fill="#a81e44"/>
<circle cx="381.41" cy="298.25" r="0.82" fill="#a81e44"/>
<circle cx="380.89" cy="328.53" r="0.82" fill="#a81e44"/>
<circle cx="381.58" cy="290.29" r="0.82" fill="#a81e44"/>
<circle cx="381.83" cy="307.86" r="0.82" fill="#a81e44"/>
<circle cx="381.15" cy="280.97" r="0.82" fill="#a81e44"/>
<circle cx="381.43" cy="327.03" r="0.82" fill="#a81e44"/>
<circle cx="381.07" cy="291.1" r="0.82" fill="#a81e44"/>
<circle cx="381.36" cy="328.45" r="0.82" fill="#a81e44"/>
<circle cx="381.63" cy="329.04" r="0.82" fill="#a81e44"/>
<circle cx="381.13" cy="292.86" r="0.82" fill="#a81e44"/>
<circle cx="381.08" cy="303.86" r="0.82" fill="#a81e44"/>
<circle cx="381.02" cy="319.76" r="0.82" fill="#a81e44"/>
<circle cx="381.32" cy="281.23" r="0.82" fill="#a81e44"/>
<circle cx="383.88" cy="268.73" r="0.82" fill="#1f4a6e"/>
<rect x="386.08" y="271.9" width="1.0" height="59.23" fill="#a81e44" fill-opacity="0.85"/>
<circle cx="386.69" cy="281.77" r="0.82" fill="#a81e44"/>
<circle cx="386.46" cy="291.12" r="0.82" fill="#a81e44"/>
<circle cx="386.24" cy="296.76" r="0.82" fill="#a81e44"/>
<circle cx="386.77" cy="271.56" r="0.82" fill="#a81e44"/>
<circle cx="386.73" cy="298.56" r="0.82" fill="#a81e44"/>
<circle cx="386.4" cy="325" r="0.82" fill="#a81e44"/>
<circle cx="386.96" cy="317.02" r="0.82" fill="#a81e44"/>
<circle cx="386.52" cy="330.34" r="0.82" fill="#a81e44"/>
<circle cx="386.89" cy="277.99" r="0.82" fill="#a81e44"/>
<circle cx="386.36" cy="287.16" r="0.82" fill="#a81e44"/>
<circle cx="386.8" cy="316.92" r="0.82" fill="#a81e44"/>
<circle cx="386.83" cy="312.86" r="0.82" fill="#a81e44"/>
<circle cx="386.87" cy="309.72" r="0.82" fill="#a81e44"/>
<circle cx="386.93" cy="296.07" r="0.82" fill="#a81e44"/>
<circle cx="386.45" cy="270.83" r="0.82" fill="#a81e44"/>
<circle cx="386.04" cy="270.78" r="0.82" fill="#a81e44"/>
<circle cx="386.06" cy="277.46" r="0.82" fill="#a81e44"/>
<circle cx="386.46" cy="297.77" r="0.82" fill="#a81e44"/>
<circle cx="386.38" cy="284.03" r="0.82" fill="#a81e44"/>
<circle cx="386.89" cy="318.39" r="0.82" fill="#a81e44"/>
<circle cx="386.86" cy="297.46" r="0.82" fill="#a81e44"/>
<circle cx="386.07" cy="301.19" r="0.82" fill="#a81e44"/>
<circle cx="386.27" cy="283.95" r="0.82" fill="#a81e44"/>
<circle cx="386.03" cy="302.27" r="0.82" fill="#a81e44"/>
<circle cx="386.76" cy="315.29" r="0.82" fill="#a81e44"/>
<circle cx="386.73" cy="284.38" r="0.82" fill="#a81e44"/>
<circle cx="386.84" cy="304.02" r="0.82" fill="#a81e44"/>
<circle cx="386.26" cy="290.21" r="0.82" fill="#a81e44"/>
<circle cx="386.69" cy="298.39" r="0.82" fill="#a81e44"/>
<circle cx="386.25" cy="286.55" r="0.82" fill="#a81e44"/>
<circle cx="386.41" cy="312.12" r="0.82" fill="#a81e44"/>
<circle cx="386.41" cy="325.26" r="0.82" fill="#a81e44"/>
<circle cx="386.67" cy="286.5" r="0.82" fill="#a81e44"/>
<circle cx="386.83" cy="320.55" r="0.82" fill="#a81e44"/>
<circle cx="386.86" cy="323.99" r="0.82" fill="#a81e44"/>
<circle cx="386.14" cy="322.09" r="0.82" fill="#a81e44"/>
<circle cx="386.6" cy="315.73" r="0.82" fill="#a81e44"/>
<circle cx="387" cy="314.61" r="0.82" fill="#a81e44"/>
<circle cx="386.34" cy="273.72" r="0.82" fill="#a81e44"/>
<circle cx="386.8" cy="285.25" r="0.82" fill="#a81e44"/>
<circle cx="386.31" cy="296.8" r="0.82" fill="#a81e44"/>
<circle cx="387.08" cy="273.04" r="0.82" fill="#a81e44"/>
<circle cx="386.39" cy="330.33" r="0.82" fill="#a81e44"/>
<circle cx="386.25" cy="311.49" r="0.82" fill="#a81e44"/>
<circle cx="387.02" cy="304.81" r="0.82" fill="#a81e44"/>
<circle cx="386.95" cy="329.67" r="0.82" fill="#a81e44"/>
<circle cx="386.04" cy="312.23" r="0.82" fill="#a81e44"/>
<circle cx="386.33" cy="276.09" r="0.82" fill="#a81e44"/>
<circle cx="386.16" cy="318.15" r="0.82" fill="#a81e44"/>
<circle cx="386.16" cy="308.66" r="0.82" fill="#a81e44"/>
<circle cx="386.31" cy="320.14" r="0.82" fill="#a81e44"/>
<circle cx="386.52" cy="295.75" r="0.82" fill="#a81e44"/>
<circle cx="386.61" cy="312.47" r="0.82" fill="#a81e44"/>
<circle cx="386.83" cy="283.77" r="0.82" fill="#a81e44"/>
<circle cx="387.04" cy="310.11" r="0.82" fill="#a81e44"/>
<circle cx="386.65" cy="282.72" r="0.82" fill="#a81e44"/>
<circle cx="386.39" cy="302.04" r="0.82" fill="#a81e44"/>
<circle cx="387" cy="322.93" r="0.82" fill="#a81e44"/>
<circle cx="386.14" cy="293.91" r="0.82" fill="#a81e44"/>
<circle cx="387.01" cy="274.51" r="0.82" fill="#a81e44"/>
<circle cx="386.8" cy="329.07" r="0.82" fill="#a81e44"/>
<circle cx="386.62" cy="316.56" r="0.82" fill="#a81e44"/>
<circle cx="386.42" cy="280.1" r="0.82" fill="#a81e44"/>
<circle cx="386.76" cy="300.64" r="0.82" fill="#a81e44"/>
<circle cx="386.72" cy="319.36" r="0.82" fill="#a81e44"/>
<circle cx="387.11" cy="305.12" r="0.82" fill="#a81e44"/>
<circle cx="386.81" cy="319.65" r="0.82" fill="#a81e44"/>
<circle cx="386.33" cy="328.61" r="0.82" fill="#a81e44"/>
<circle cx="386.19" cy="323.93" r="0.82" fill="#a81e44"/>
<circle cx="386.22" cy="298.81" r="0.82" fill="#a81e44"/>
<circle cx="386.14" cy="282.51" r="0.82" fill="#a81e44"/>
<circle cx="386.98" cy="293.02" r="0.82" fill="#a81e44"/>
<circle cx="386.27" cy="323.39" r="0.82" fill="#a81e44"/>
<circle cx="386.55" cy="284.34" r="0.82" fill="#a81e44"/>
<circle cx="386.4" cy="274.1" r="0.82" fill="#a81e44"/>
<circle cx="387.08" cy="306.78" r="0.82" fill="#a81e44"/>
<circle cx="389.69" cy="318.16" r="0.82" fill="#1f4a6e"/>
<circle cx="388.85" cy="301.43" r="0.82" fill="#1f4a6e"/>
<circle cx="389.67" cy="311.99" r="0.82" fill="#1f4a6e"/>
<circle cx="389.56" cy="325.09" r="0.82" fill="#1f4a6e"/>
<circle cx="389.45" cy="305" r="0.82" fill="#1f4a6e"/>
<circle cx="388.74" cy="310.31" r="0.82" fill="#1f4a6e"/>
<circle cx="388.74" cy="299.37" r="0.82" fill="#1f4a6e"/>
<circle cx="389.43" cy="304.72" r="0.82" fill="#1f4a6e"/>
<circle cx="389.38" cy="318.97" r="0.82" fill="#1f4a6e"/>
<circle cx="389.46" cy="316.12" r="0.82" fill="#1f4a6e"/>
<circle cx="389.66" cy="327.36" r="0.82" fill="#1f4a6e"/>
<rect x="393.89" y="271.9" width="1.0" height="59.23" fill="#1f4a6e" fill-opacity="0.85"/>
<circle cx="394.72" cy="307.61" r="0.82" fill="#1f4a6e"/>
<circle cx="394.73" cy="302.28" r="0.82" fill="#1f4a6e"/>
<circle cx="394.44" cy="312.71" r="0.82" fill="#1f4a6e"/>
<circle cx="394.38" cy="329.59" r="0.82" fill="#1f4a6e"/>
<circle cx="394.79" cy="326.29" r="0.82" fill="#1f4a6e"/>
<circle cx="394.31" cy="289.7" r="0.82" fill="#1f4a6e"/>
<circle cx="394.88" cy="271.53" r="0.82" fill="#1f4a6e"/>
<circle cx="393.93" cy="272.6" r="0.82" fill="#1f4a6e"/>
<circle cx="394.64" cy="288.06" r="0.82" fill="#1f4a6e"/>
<circle cx="393.86" cy="294.06" r="0.82" fill="#1f4a6e"/>
<circle cx="394.32" cy="274.61" r="0.82" fill="#1f4a6e"/>
<circle cx="394.74" cy="294.73" r="0.82" fill="#1f4a6e"/>
<circle cx="393.87" cy="314.29" r="0.82" fill="#1f4a6e"/>
<circle cx="394.14" cy="274.64" r="0.82" fill="#1f4a6e"/>
<circle cx="393.99" cy="328.61" r="0.82" fill="#1f4a6e"/>
<circle cx="394.65" cy="270.27" r="0.82" fill="#1f4a6e"/>
<circle cx="394" cy="318.29" r="0.82" fill="#1f4a6e"/>
<circle cx="394.57" cy="276.21" r="0.82" fill="#1f4a6e"/>
<circle cx="393.98" cy="295.46" r="0.82" fill="#1f4a6e"/>
<circle cx="394.88" cy="305.84" r="0.82" fill="#1f4a6e"/>
<circle cx="394.3" cy="330.93" r="0.82" fill="#1f4a6e"/>
<circle cx="394.94" cy="327.64" r="0.82" fill="#1f4a6e"/>
<circle cx="394.89" cy="324.74" r="0.82" fill="#1f4a6e"/>
<circle cx="394.64" cy="279.67" r="0.82" fill="#1f4a6e"/>
<circle cx="394.6" cy="328.54" r="0.82" fill="#1f4a6e"/>
<circle cx="394.38" cy="300.97" r="0.82" fill="#1f4a6e"/>
<circle cx="394.4" cy="322.25" r="0.82" fill="#1f4a6e"/>
<circle cx="393.98" cy="282.07" r="0.82" fill="#1f4a6e"/>
<circle cx="394.3" cy="277.53" r="0.82" fill="#1f4a6e"/>
<circle cx="394.1" cy="314.85" r="0.82" fill="#1f4a6e"/>
<circle cx="394.55" cy="303" r="0.82" fill="#1f4a6e"/>
<circle cx="394.82" cy="296.27" r="0.82" fill="#1f4a6e"/>
<circle cx="394.4" cy="299.84" r="0.82" fill="#1f4a6e"/>
<circle cx="394.08" cy="270.63" r="0.82" fill="#1f4a6e"/>
<circle cx="394.2" cy="330.11" r="0.82" fill="#1f4a6e"/>
<circle cx="393.98" cy="311.97" r="0.82" fill="#1f4a6e"/>
<circle cx="393.88" cy="305.55" r="0.82" fill="#1f4a6e"/>
<circle cx="394.37" cy="274.8" r="0.82" fill="#1f4a6e"/>
<circle cx="394.61" cy="277.37" r="0.82" fill="#1f4a6e"/>
<circle cx="394.67" cy="286.48" r="0.82" fill="#1f4a6e"/>
<circle cx="394.64" cy="312.68" r="0.82" fill="#1f4a6e"/>
<circle cx="394.45" cy="318.52" r="0.82" fill="#1f4a6e"/>
<circle cx="394.69" cy="294.71" r="0.82" fill="#1f4a6e"/>
<circle cx="394.22" cy="320.87" r="0.82" fill="#1f4a6e"/>
<circle cx="394.73" cy="280.7" r="0.82" fill="#1f4a6e"/>
<circle cx="393.97" cy="271.3" r="0.82" fill="#1f4a6e"/>
<circle cx="393.96" cy="318.27" r="0.82" fill="#1f4a6e"/>
<circle cx="394.66" cy="286.86" r="0.82" fill="#1f4a6e"/>
<circle cx="394.7" cy="291.48" r="0.82" fill="#1f4a6e"/>
<circle cx="394.46" cy="299.57" r="0.82" fill="#1f4a6e"/>
<circle cx="394.55" cy="274.79" r="0.82" fill="#1f4a6e"/>
<circle cx="394.49" cy="291" r="0.82" fill="#1f4a6e"/>
<circle cx="394.67" cy="300.91" r="0.82" fill="#1f4a6e"/>
<circle cx="393.98" cy="296.1" r="0.82" fill="#1f4a6e"/>
<circle cx="394.3" cy="305.08" r="0.82" fill="#1f4a6e"/>
<circle cx="394.46" cy="304.69" r="0.82" fill="#1f4a6e"/>
<circle cx="394.27" cy="309" r="0.82" fill="#1f4a6e"/>
<circle cx="394.25" cy="305.02" r="0.82" fill="#1f4a6e"/>
<circle cx="393.94" cy="271.67" r="0.82" fill="#1f4a6e"/>
<circle cx="394.63" cy="330.09" r="0.82" fill="#1f4a6e"/>
<circle cx="394.33" cy="306.95" r="0.82" fill="#1f4a6e"/>
<circle cx="394.24" cy="294.93" r="0.82" fill="#1f4a6e"/>
<circle cx="393.86" cy="316.5" r="0.82" fill="#1f4a6e"/>
<circle cx="394.87" cy="277.67" r="0.82" fill="#1f4a6e"/>
<circle cx="394.35" cy="313.64" r="0.82" fill="#1f4a6e"/>
<circle cx="393.9" cy="311.32" r="0.82" fill="#1f4a6e"/>
<circle cx="394.76" cy="276.52" r="0.82" fill="#1f4a6e"/>
<rect x="391.29" y="271.9" width="1.0" height="59.23" fill="#a81e44" fill-opacity="0.85"/>
<circle cx="391.52" cy="316.38" r="0.82" fill="#a81e44"/>
<circle cx="392.12" cy="288.42" r="0.82" fill="#a81e44"/>
<circle cx="391.67" cy="302.4" r="0.82" fill="#a81e44"/>
<circle cx="392.12" cy="316.84" r="0.82" fill="#a81e44"/>
<circle cx="392.18" cy="278.3" r="0.82" fill="#a81e44"/>
<circle cx="391.89" cy="324.13" r="0.82" fill="#a81e44"/>
<circle cx="392.03" cy="270.86" r="0.82" fill="#a81e44"/>
<circle cx="391.4" cy="303.04" r="0.82" fill="#a81e44"/>
<circle cx="392.05" cy="327.43" r="0.82" fill="#a81e44"/>
<circle cx="392.13" cy="326.93" r="0.82" fill="#a81e44"/>
<circle cx="391.76" cy="290.41" r="0.82" fill="#a81e44"/>
<circle cx="392.27" cy="276.59" r="0.82" fill="#a81e44"/>
<circle cx="391.35" cy="293.41" r="0.82" fill="#a81e44"/>
<circle cx="391.7" cy="295.12" r="0.82" fill="#a81e44"/>
<circle cx="392.26" cy="315.86" r="0.82" fill="#a81e44"/>
<circle cx="391.37" cy="286.46" r="0.82" fill="#a81e44"/>
<circle cx="391.62" cy="317.12" r="0.82" fill="#a81e44"/>
<circle cx="391.6" cy="296.08" r="0.82" fill="#a81e44"/>
<circle cx="392.13" cy="304.24" r="0.82" fill="#a81e44"/>
<circle cx="392.03" cy="320.01" r="0.82" fill="#a81e44"/>
<circle cx="392.28" cy="310.9" r="0.82" fill="#a81e44"/>
<circle cx="391.6" cy="272.9" r="0.82" fill="#a81e44"/>
<circle cx="391.36" cy="294.05" r="0.82" fill="#a81e44"/>
<circle cx="391.93" cy="306.02" r="0.82" fill="#a81e44"/>
<circle cx="391.62" cy="292.09" r="0.82" fill="#a81e44"/>
<circle cx="391.38" cy="329.05" r="0.82" fill="#a81e44"/>
<circle cx="391.43" cy="296.84" r="0.82" fill="#a81e44"/>
<circle cx="391.92" cy="312.4" r="0.82" fill="#a81e44"/>
<circle cx="391.81" cy="276.03" r="0.82" fill="#a81e44"/>
<circle cx="391.88" cy="315.55" r="0.82" fill="#a81e44"/>
<circle cx="392.1" cy="314.27" r="0.82" fill="#a81e44"/>
<circle cx="391.53" cy="321.58" r="0.82" fill="#a81e44"/>
<circle cx="392.24" cy="304.3" r="0.82" fill="#a81e44"/>
<circle cx="391.45" cy="321.01" r="0.82" fill="#a81e44"/>
<circle cx="391.48" cy="323.07" r="0.82" fill="#a81e44"/>
<circle cx="391.67" cy="310.8" r="0.82" fill="#a81e44"/>
<circle cx="391.68" cy="284.66" r="0.82" fill="#a81e44"/>
<circle cx="391.68" cy="302.07" r="0.82" fill="#a81e44"/>
<circle cx="392.23" cy="283.77" r="0.82" fill="#a81e44"/>
<circle cx="392.25" cy="305.1" r="0.82" fill="#a81e44"/>
<circle cx="392.32" cy="315.8" r="0.82" fill="#a81e44"/>
<circle cx="391.99" cy="298.99" r="0.82" fill="#a81e44"/>
<circle cx="391.54" cy="307.8" r="0.82" fill="#a81e44"/>
<circle cx="392.21" cy="322.86" r="0.82" fill="#a81e44"/>
<circle cx="392.01" cy="309.13" r="0.82" fill="#a81e44"/>
<circle cx="391.82" cy="302.94" r="0.82" fill="#a81e44"/>
<circle cx="391.43" cy="318.47" r="0.82" fill="#a81e44"/>
<circle cx="391.99" cy="310.56" r="0.82" fill="#a81e44"/>
<circle cx="391.24" cy="297.89" r="0.82" fill="#a81e44"/>
<circle cx="391.72" cy="287.65" r="0.82" fill="#a81e44"/>
<circle cx="391.53" cy="326.91" r="0.82" fill="#a81e44"/>
<circle cx="392.15" cy="318.18" r="0.82" fill="#a81e44"/>
<circle cx="391.6" cy="297.48" r="0.82" fill="#a81e44"/>
<circle cx="399.47" cy="214.9" r="0.82" fill="#1f4a6e"/>
<circle cx="399.43" cy="237.9" r="0.82" fill="#1f4a6e"/>
<circle cx="399.92" cy="228.53" r="0.82" fill="#1f4a6e"/>
<circle cx="400.02" cy="230.23" r="0.82" fill="#1f4a6e"/>
<rect x="399.05" y="247.93" width="1.2" height="83.2" fill="#2f5f88"/>
<circle cx="399.06" cy="276.72" r="0.7" fill="#1f4a6e"/>
<circle cx="399.13" cy="327.43" r="0.7" fill="#1f4a6e"/>
<circle cx="399.64" cy="309.66" r="0.7" fill="#1f4a6e"/>
<circle cx="399.72" cy="262.74" r="0.7" fill="#1f4a6e"/>
<circle cx="399.24" cy="295.38" r="0.7" fill="#1f4a6e"/>
<circle cx="399.95" cy="249.45" r="0.7" fill="#1f4a6e"/>
<circle cx="398.96" cy="302.74" r="0.7" fill="#1f4a6e"/>
<rect x="396.5" y="271.9" width="1.0" height="59.23" fill="#a81e44" fill-opacity="0.85"/>
<circle cx="396.73" cy="271.06" r="0.82" fill="#a81e44"/>
<circle cx="396.58" cy="279.27" r="0.82" fill="#a81e44"/>
<circle cx="396.84" cy="291.18" r="0.82" fill="#a81e44"/>
<circle cx="396.78" cy="276.75" r="0.82" fill="#a81e44"/>
<circle cx="396.67" cy="324.96" r="0.82" fill="#a81e44"/>
<circle cx="397.53" cy="281.84" r="0.82" fill="#a81e44"/>
<circle cx="397.2" cy="291.8" r="0.82" fill="#a81e44"/>
<circle cx="396.75" cy="313.87" r="0.82" fill="#a81e44"/>
<circle cx="397.53" cy="325.82" r="0.82" fill="#a81e44"/>
<circle cx="397.12" cy="328.47" r="0.82" fill="#a81e44"/>
<circle cx="396.66" cy="309.72" r="0.82" fill="#a81e44"/>
<circle cx="397.47" cy="304.46" r="0.82" fill="#a81e44"/>
<circle cx="396.63" cy="315.97" r="0.82" fill="#a81e44"/>
<circle cx="397.17" cy="292.62" r="0.82" fill="#a81e44"/>
<circle cx="396.65" cy="299.89" r="0.82" fill="#a81e44"/>
<circle cx="396.57" cy="277.65" r="0.82" fill="#a81e44"/>
<circle cx="396.72" cy="320.48" r="0.82" fill="#a81e44"/>
<circle cx="396.97" cy="299.7" r="0.82" fill="#a81e44"/>
<circle cx="397.25" cy="297.26" r="0.82" fill="#a81e44"/>
<circle cx="396.97" cy="276.44" r="0.82" fill="#a81e44"/>
<circle cx="397.36" cy="328.56" r="0.82" fill="#a81e44"/>
<circle cx="396.8" cy="330" r="0.82" fill="#a81e44"/>
<circle cx="397.11" cy="322.38" r="0.82" fill="#a81e44"/>
<circle cx="396.59" cy="283.3" r="0.82" fill="#a81e44"/>
<circle cx="397.39" cy="313.12" r="0.82" fill="#a81e44"/>
<circle cx="396.57" cy="288.97" r="0.82" fill="#a81e44"/>
<circle cx="397.32" cy="289.14" r="0.82" fill="#a81e44"/>
<circle cx="396.62" cy="306.14" r="0.82" fill="#a81e44"/>
<circle cx="396.8" cy="290.82" r="0.82" fill="#a81e44"/>
<circle cx="396.63" cy="322.94" r="0.82" fill="#a81e44"/>
<circle cx="396.59" cy="306.51" r="0.82" fill="#a81e44"/>
<circle cx="397.06" cy="307.57" r="0.82" fill="#a81e44"/>
<circle cx="396.89" cy="297.35" r="0.82" fill="#a81e44"/>
<circle cx="396.55" cy="282.18" r="0.82" fill="#a81e44"/>
<circle cx="397.48" cy="310.95" r="0.82" fill="#a81e44"/>
<circle cx="397.46" cy="278.26" r="0.82" fill="#a81e44"/>
<circle cx="397.04" cy="284.31" r="0.82" fill="#a81e44"/>
<circle cx="397.08" cy="282.95" r="0.82" fill="#a81e44"/>
<circle cx="396.73" cy="323.94" r="0.82" fill="#a81e44"/>
<circle cx="397.41" cy="325.17" r="0.82" fill="#a81e44"/>
<circle cx="396.9" cy="311.43" r="0.82" fill="#a81e44"/>
<circle cx="396.56" cy="298.2" r="0.82" fill="#a81e44"/>
<circle cx="397.33" cy="287.95" r="0.82" fill="#a81e44"/>
<circle cx="397.42" cy="282.43" r="0.82" fill="#a81e44"/>
<circle cx="396.61" cy="311.72" r="0.82" fill="#a81e44"/>
<circle cx="397.21" cy="284.54" r="0.82" fill="#a81e44"/>
<circle cx="396.83" cy="308.4" r="0.82" fill="#a81e44"/>
<circle cx="397.37" cy="321.73" r="0.82" fill="#a81e44"/>
<circle cx="397.34" cy="302.95" r="0.82" fill="#a81e44"/>
<circle cx="396.8" cy="310.35" r="0.82" fill="#a81e44"/>
<circle cx="397.27" cy="299.73" r="0.82" fill="#a81e44"/>
<circle cx="396.84" cy="277.13" r="0.82" fill="#a81e44"/>
<circle cx="396.89" cy="288.71" r="0.82" fill="#a81e44"/>
<circle cx="397.29" cy="278.43" r="0.82" fill="#a81e44"/>
<circle cx="396.85" cy="297.16" r="0.82" fill="#a81e44"/>
<circle cx="397.42" cy="314.38" r="0.82" fill="#a81e44"/>
<circle cx="396.79" cy="282.13" r="0.82" fill="#a81e44"/>
<circle cx="396.66" cy="325.95" r="0.82" fill="#a81e44"/>
<circle cx="396.49" cy="272.14" r="0.82" fill="#a81e44"/>
<circle cx="397.03" cy="281.58" r="0.82" fill="#a81e44"/>
<circle cx="397.04" cy="297.24" r="0.82" fill="#a81e44"/>
<circle cx="397.06" cy="306.03" r="0.82" fill="#a81e44"/>
<circle cx="397.46" cy="325.62" r="0.82" fill="#a81e44"/>
<circle cx="396.6" cy="324.83" r="0.82" fill="#a81e44"/>
<circle cx="397.15" cy="289.99" r="0.82" fill="#a81e44"/>
<circle cx="397.21" cy="281.78" r="0.82" fill="#a81e44"/>
<circle cx="396.51" cy="274.2" r="0.82" fill="#a81e44"/>
<circle cx="399.31" cy="309.9" r="0.82" fill="#1f4a6e"/>
<circle cx="399.22" cy="278.88" r="0.82" fill="#1f4a6e"/>
<circle cx="399.9" cy="288.88" r="0.82" fill="#1f4a6e"/>
<circle cx="399.63" cy="304.02" r="0.82" fill="#1f4a6e"/>
<circle cx="399.87" cy="273.96" r="0.82" fill="#1f4a6e"/>
<circle cx="399.58" cy="294.26" r="0.82" fill="#1f4a6e"/>
<circle cx="400.11" cy="299.11" r="0.82" fill="#1f4a6e"/>
<circle cx="399.8" cy="278.73" r="0.82" fill="#1f4a6e"/>
<circle cx="399.86" cy="298.05" r="0.82" fill="#1f4a6e"/>
<circle cx="399.93" cy="290.68" r="0.82" fill="#1f4a6e"/>
<circle cx="400.02" cy="295.64" r="0.82" fill="#1f4a6e"/>
<circle cx="399.55" cy="282.69" r="0.82" fill="#1f4a6e"/>
<circle cx="399.94" cy="287.61" r="0.82" fill="#1f4a6e"/>
<circle cx="400.11" cy="288.97" r="0.82" fill="#1f4a6e"/>
<circle cx="400.04" cy="310.04" r="0.82" fill="#1f4a6e"/>
<circle cx="399.59" cy="281.5" r="0.82" fill="#1f4a6e"/>
<circle cx="399.21" cy="276.02" r="0.82" fill="#1f4a6e"/>
<circle cx="399.84" cy="296.7" r="0.82" fill="#1f4a6e"/>
<circle cx="399.46" cy="277.09" r="0.82" fill="#1f4a6e"/>
<circle cx="399.76" cy="270.19" r="0.82" fill="#1f4a6e"/>
<circle cx="399.19" cy="308.5" r="0.82" fill="#1f4a6e"/>
<circle cx="399.68" cy="307.25" r="0.82" fill="#1f4a6e"/>
<circle cx="399.34" cy="297.33" r="0.82" fill="#1f4a6e"/>
<circle cx="399.14" cy="292.26" r="0.82" fill="#1f4a6e"/>
<circle cx="399.97" cy="273.63" r="0.82" fill="#1f4a6e"/>
<circle cx="399.54" cy="287.77" r="0.82" fill="#1f4a6e"/>
<circle cx="399.71" cy="297.88" r="0.82" fill="#1f4a6e"/>
<circle cx="400.12" cy="296.33" r="0.82" fill="#1f4a6e"/>
<circle cx="399.85" cy="271.73" r="0.82" fill="#1f4a6e"/>
<circle cx="399.13" cy="276.98" r="0.82" fill="#1f4a6e"/>
<circle cx="399.43" cy="305.34" r="0.82" fill="#1f4a6e"/>
<circle cx="399.51" cy="305.24" r="0.82" fill="#1f4a6e"/>
<circle cx="399.97" cy="270.52" r="0.82" fill="#1f4a6e"/>
<circle cx="404.64" cy="243.04" r="0.82" fill="#1f4a6e"/>
<circle cx="401.69" cy="260.73" r="0.82" fill="#a81e44"/>
<circle cx="401.72" cy="258.57" r="0.82" fill="#a81e44"/>
<circle cx="401.99" cy="247.98" r="0.82" fill="#a81e44"/>
<circle cx="402.28" cy="241.93" r="0.82" fill="#a81e44"/>
<circle cx="401.99" cy="245.11" r="0.82" fill="#a81e44"/>
<circle cx="402.42" cy="239.39" r="0.82" fill="#a81e44"/>
<circle cx="402.18" cy="240.24" r="0.82" fill="#a81e44"/>
<circle cx="401.97" cy="250.66" r="0.82" fill="#a81e44"/>
<circle cx="402.19" cy="228.36" r="0.82" fill="#a81e44"/>
<circle cx="402.02" cy="243.04" r="0.82" fill="#a81e44"/>
<rect x="401.71" y="271.9" width="1.0" height="59.23" fill="#a81e44" fill-opacity="0.85"/>
<circle cx="402.63" cy="278.52" r="0.82" fill="#a81e44"/>
<circle cx="402.56" cy="278.91" r="0.82" fill="#a81e44"/>
<circle cx="401.85" cy="301.25" r="0.82" fill="#a81e44"/>
<circle cx="402.47" cy="314.54" r="0.82" fill="#a81e44"/>
<circle cx="401.78" cy="270.9" r="0.82" fill="#a81e44"/>
<circle cx="402.05" cy="330.75" r="0.82" fill="#a81e44"/>
<circle cx="402.32" cy="309.76" r="0.82" fill="#a81e44"/>
<circle cx="402.59" cy="324.26" r="0.82" fill="#a81e44"/>
<circle cx="402.66" cy="310.45" r="0.82" fill="#a81e44"/>
<circle cx="402" cy="310.99" r="0.82" fill="#a81e44"/>
<circle cx="402.72" cy="320.37" r="0.82" fill="#a81e44"/>
<circle cx="402.57" cy="295.07" r="0.82" fill="#a81e44"/>
<circle cx="402.26" cy="327.27" r="0.82" fill="#a81e44"/>
<circle cx="402.74" cy="286.29" r="0.82" fill="#a81e44"/>
<circle cx="401.77" cy="273.83" r="0.82" fill="#a81e44"/>
<circle cx="402.76" cy="308.3" r="0.82" fill="#a81e44"/>
<circle cx="402.71" cy="298.41" r="0.82" fill="#a81e44"/>
<circle cx="401.69" cy="315.62" r="0.82" fill="#a81e44"/>
<circle cx="401.95" cy="273.25" r="0.82" fill="#a81e44"/>
<circle cx="402.06" cy="296.83" r="0.82" fill="#a81e44"/>
<circle cx="402.69" cy="295.8" r="0.82" fill="#a81e44"/>
<circle cx="402.62" cy="273.2" r="0.82" fill="#a81e44"/>
<circle cx="402.56" cy="315.42" r="0.82" fill="#a81e44"/>
<circle cx="402.12" cy="330" r="0.82" fill="#a81e44"/>
<circle cx="401.94" cy="273.37" r="0.82" fill="#a81e44"/>
<circle cx="402.3" cy="308.67" r="0.82" fill="#a81e44"/>
<circle cx="402.44" cy="316.65" r="0.82" fill="#a81e44"/>
<circle cx="401.76" cy="291.21" r="0.82" fill="#a81e44"/>
<circle cx="401.74" cy="274.84" r="0.82" fill="#a81e44"/>
<circle cx="402.04" cy="288.52" r="0.82" fill="#a81e44"/>
<circle cx="401.75" cy="322.35" r="0.82" fill="#a81e44"/>
<circle cx="402.54" cy="270.09" r="0.82" fill="#a81e44"/>
<circle cx="402.53" cy="303.06" r="0.82" fill="#a81e44"/>
<circle cx="402.68" cy="271.8" r="0.82" fill="#a81e44"/>
<circle cx="401.96" cy="298.55" r="0.82" fill="#a81e44"/>
<circle cx="402.74" cy="299.41" r="0.82" fill="#a81e44"/>
<circle cx="402.4" cy="286.46" r="0.82" fill="#a81e44"/>
<circle cx="402.11" cy="279.56" r="0.82" fill="#a81e44"/>
<circle cx="402.59" cy="296.94" r="0.82" fill="#a81e44"/>
<circle cx="402.6" cy="318.95" r="0.82" fill="#a81e44"/>
<circle cx="402.25" cy="329.62" r="0.82" fill="#a81e44"/>
<circle cx="401.82" cy="295.96" r="0.82" fill="#a81e44"/>
<circle cx="402.14" cy="274.73" r="0.82" fill="#a81e44"/>
<circle cx="402.11" cy="319.81" r="0.82" fill="#a81e44"/>
<circle cx="402.13" cy="294.95" r="0.82" fill="#a81e44"/>
<circle cx="401.76" cy="330.95" r="0.82" fill="#a81e44"/>
<circle cx="401.81" cy="287.5" r="0.82" fill="#a81e44"/>
<circle cx="402.55" cy="315.5" r="0.82" fill="#a81e44"/>
<rect x="404.31" y="271.9" width="1.0" height="38.43" fill="#1f4a6e" fill-opacity="0.85"/>
<circle cx="405.23" cy="275.54" r="0.82" fill="#1f4a6e"/>
<circle cx="404.27" cy="303.28" r="0.82" fill="#1f4a6e"/>
<circle cx="404.92" cy="279.88" r="0.82" fill="#1f4a6e"/>
<circle cx="404.28" cy="295.61" r="0.82" fill="#1f4a6e"/>
<circle cx="404.52" cy="292.91" r="0.82" fill="#1f4a6e"/>
<circle cx="405.34" cy="286.59" r="0.82" fill="#1f4a6e"/>
<circle cx="404.34" cy="301.88" r="0.82" fill="#1f4a6e"/>
<circle cx="404.38" cy="282.29" r="0.82" fill="#1f4a6e"/>
<circle cx="404.74" cy="301.33" r="0.82" fill="#1f4a6e"/>
<circle cx="404.62" cy="270.52" r="0.82" fill="#1f4a6e"/>
<circle cx="404.78" cy="297.58" r="0.82" fill="#1f4a6e"/>
<circle cx="404.7" cy="303.78" r="0.82" fill="#1f4a6e"/>
<circle cx="404.62" cy="282.06" r="0.82" fill="#1f4a6e"/>
<circle cx="404.46" cy="278.18" r="0.82" fill="#1f4a6e"/>
<circle cx="404.95" cy="306.23" r="0.82" fill="#1f4a6e"/>
<circle cx="405.27" cy="292.04" r="0.82" fill="#1f4a6e"/>
<circle cx="405.08" cy="306.09" r="0.82" fill="#1f4a6e"/>
<circle cx="404.67" cy="283.29" r="0.82" fill="#1f4a6e"/>
<circle cx="404.93" cy="305.15" r="0.82" fill="#1f4a6e"/>
<circle cx="404.78" cy="279.72" r="0.82" fill="#1f4a6e"/>
<circle cx="405.01" cy="291.25" r="0.82" fill="#1f4a6e"/>
<circle cx="404.73" cy="285.73" r="0.82" fill="#1f4a6e"/>
<circle cx="404.77" cy="302.82" r="0.82" fill="#1f4a6e"/>
<circle cx="405.25" cy="288.13" r="0.82" fill="#1f4a6e"/>
<circle cx="404.87" cy="270.16" r="0.82" fill="#1f4a6e"/>
<circle cx="404.51" cy="297.06" r="0.82" fill="#1f4a6e"/>
<circle cx="405.07" cy="284.87" r="0.82" fill="#1f4a6e"/>
<circle cx="405.02" cy="300.33" r="0.82" fill="#1f4a6e"/>
<circle cx="404.69" cy="269.99" r="0.82" fill="#1f4a6e"/>
<circle cx="404.74" cy="272.42" r="0.82" fill="#1f4a6e"/>
<circle cx="405.21" cy="284" r="0.82" fill="#1f4a6e"/>
<circle cx="404.64" cy="302.12" r="0.82" fill="#1f4a6e"/>
<circle cx="404.33" cy="270.6" r="0.82" fill="#1f4a6e"/>
<circle cx="404.78" cy="297.97" r="0.82" fill="#1f4a6e"/>
<circle cx="404.95" cy="280.26" r="0.82" fill="#1f4a6e"/>
<circle cx="405" cy="272.79" r="0.82" fill="#1f4a6e"/>
<circle cx="404.34" cy="310.27" r="0.82" fill="#1f4a6e"/>
<circle cx="404.73" cy="308.85" r="0.82" fill="#1f4a6e"/>
<circle cx="404.84" cy="309.24" r="0.82" fill="#1f4a6e"/>
<circle cx="404.48" cy="284.79" r="0.82" fill="#1f4a6e"/>
<circle cx="407.32" cy="323.8" r="0.82" fill="#a81e44"/>
<circle cx="407.26" cy="322.91" r="0.82" fill="#a81e44"/>
<rect x="412.08" y="289.53" width="1.2" height="39.15" fill="#c2305a"/>
<circle cx="412.69" cy="304.41" r="0.7" fill="#a81e44"/>
<circle cx="413.02" cy="318.39" r="0.7" fill="#a81e44"/>
<circle cx="412.28" cy="328.53" r="0.7" fill="#a81e44"/>
<circle cx="413.05" cy="282.24" r="0.82" fill="#a81e44"/>
<circle cx="412.12" cy="281.58" r="0.82" fill="#a81e44"/>
<rect x="417.29" y="295.65" width="1.2" height="35.48" fill="#c2305a"/>
<circle cx="417.99" cy="320.52" r="0.7" fill="#a81e44"/>
<circle cx="417.29" cy="302.43" r="0.7" fill="#a81e44"/>
<circle cx="417.69" cy="303.48" r="0.7" fill="#a81e44"/>
<circle cx="417.79" cy="277.3" r="0.82" fill="#a81e44"/>
<circle cx="423.34" cy="315.22" r="0.82" fill="#a81e44"/>
<circle cx="428.51" cy="318.89" r="0.82" fill="#a81e44"/>
<rect x="430.31" y="307.88" width="1.2" height="19.58" fill="#2f5f88"/>
<circle cx="431.14" cy="313.06" r="0.7" fill="#1f4a6e"/>
<circle cx="430.58" cy="295.65" r="0.82" fill="#1f4a6e"/>
<path d="M433.66 238.26L434.41 239.61L432.91 239.61Z" fill="#a81e44"/>
<path d="M433.26 246.59L434.01 247.94L432.51 247.94Z" fill="#a81e44"/>
<path d="M433.93 261.71L434.68 263.06L433.18 263.06Z" fill="#a81e44"/>
<path d="M432.94 250.69L433.69 252.04L432.19 252.04Z" fill="#a81e44"/>
<path d="M433.3 258.66L434.05 260.01L432.55 260.01Z" fill="#a81e44"/>
<path d="M436.6 270.01L437.35 271.36L435.85 271.36Z" fill="#1f4a6e"/>
<path d="M436.42 235.26L437.17 236.61L435.67 236.61Z" fill="#1f4a6e"/>
<path d="M435.98 272.65L436.73 274L435.23 274Z" fill="#1f4a6e"/>
<path d="M436.32 268.18L437.07 269.53L435.57 269.53Z" fill="#1f4a6e"/>
<path d="M436.19 231.23L436.94 232.58L435.44 232.58Z" fill="#1f4a6e"/>
<rect x="435.52" y="269.95" width="1.2" height="58.73" fill="#2f5f88"/>
<circle cx="435.54" cy="282.19" r="0.7" fill="#1f4a6e"/>
<circle cx="435.5" cy="327.9" r="0.7" fill="#1f4a6e"/>
<circle cx="436.53" cy="279.21" r="0.7" fill="#1f4a6e"/>
<circle cx="435.7" cy="298.37" r="0.7" fill="#1f4a6e"/>
<circle cx="435.54" cy="278.35" r="0.7" fill="#1f4a6e"/>
<rect x="432.92" y="315.22" width="1.2" height="7.34" fill="#c2305a"/>
<rect x="438.13" y="279.74" width="1.2" height="51.39" fill="#c2305a"/>
<circle cx="437.98" cy="314.43" r="0.7" fill="#a81e44"/>
<circle cx="438.56" cy="280.62" r="0.7" fill="#a81e44"/>
<circle cx="439.1" cy="291.5" r="0.7" fill="#a81e44"/>
<circle cx="439.36" cy="301.27" r="0.7" fill="#a81e44"/>
<rect x="440.73" y="307.88" width="1.2" height="19.58" fill="#2f5f88"/>
<circle cx="441.88" cy="312.3" r="0.7" fill="#1f4a6e"/>
<circle cx="438.22" cy="273.85" r="0.82" fill="#a81e44"/>
<circle cx="438.38" cy="275.15" r="0.82" fill="#a81e44"/>
<rect x="443.34" y="289.53" width="1.2" height="41.6" fill="#c2305a"/>
<circle cx="443.67" cy="317.63" r="0.7" fill="#a81e44"/>
<circle cx="443.27" cy="290.01" r="0.7" fill="#a81e44"/>
<circle cx="443.37" cy="313.04" r="0.7" fill="#a81e44"/>
<rect x="445.94" y="283.41" width="1.2" height="47.72" fill="#2f5f88"/>
<circle cx="446.48" cy="283.53" r="0.7" fill="#1f4a6e"/>
<circle cx="446.52" cy="297.64" r="0.7" fill="#1f4a6e"/>
<circle cx="446.26" cy="294.52" r="0.7" fill="#1f4a6e"/>
<circle cx="446.83" cy="311.4" r="0.7" fill="#1f4a6e"/>
<circle cx="444.12" cy="272.4" r="0.82" fill="#a81e44"/>
<circle cx="446.7" cy="273.62" r="0.82" fill="#1f4a6e"/>
<rect x="448.55" y="298.1" width="1.2" height="33.03" fill="#c2305a"/>
<circle cx="449.2" cy="306.78" r="0.7" fill="#a81e44"/>
<circle cx="449.19" cy="317.65" r="0.7" fill="#a81e44"/>
<circle cx="448.54" cy="328.59" r="0.7" fill="#a81e44"/>
<rect x="451.15" y="317.67" width="1.2" height="13.46" fill="#2f5f88"/>
<circle cx="451.17" cy="326.94" r="0.7" fill="#1f4a6e"/>
<path d="M457 222.66L457.75 224.01L456.25 224.01Z" fill="#1f4a6e"/>
<circle cx="454.44" cy="238.82" r="0.82" fill="#a81e44"/>
<circle cx="454.55" cy="266.46" r="0.82" fill="#a81e44"/>
<circle cx="454.44" cy="233.85" r="0.82" fill="#a81e44"/>
<circle cx="454.38" cy="265.33" r="0.82" fill="#a81e44"/>
<circle cx="454.06" cy="256.53" r="0.82" fill="#a81e44"/>
<circle cx="454.71" cy="269.48" r="0.82" fill="#a81e44"/>
<path d="M457.39 243.23L458.14 244.58L456.64 244.58Z" fill="#1f4a6e"/>
<path d="M456.65 267.44L457.4 268.79L455.9 268.79Z" fill="#1f4a6e"/>
<path d="M456.43 249.7L457.18 251.05L455.68 251.05Z" fill="#1f4a6e"/>
<path d="M456.95 260.59L457.7 261.94L456.2 261.94Z" fill="#1f4a6e"/>
<path d="M457.36 251.15L458.11 252.5L456.61 252.5Z" fill="#1f4a6e"/>
<rect x="453.76" y="298.1" width="1.2" height="30.59" fill="#c2305a"/>
<circle cx="454.5" cy="311.02" r="0.7" fill="#a81e44"/>
<circle cx="454.71" cy="310.78" r="0.7" fill="#a81e44"/>
<rect x="456.36" y="277.3" width="1.2" height="53.83" fill="#2f5f88"/>
<circle cx="456.21" cy="311.41" r="0.7" fill="#1f4a6e"/>
<circle cx="457.32" cy="278.35" r="0.7" fill="#1f4a6e"/>
<circle cx="456.37" cy="324.31" r="0.7" fill="#1f4a6e"/>
<circle cx="457.13" cy="319.16" r="0.7" fill="#1f4a6e"/>
<circle cx="456.24" cy="324.07" r="0.7" fill="#1f4a6e"/>
<rect x="461.57" y="233.25" width="1.2" height="68.52" fill="#2f5f88"/>
<circle cx="461.43" cy="267.91" r="0.7" fill="#1f4a6e"/>
<circle cx="461.96" cy="284.03" r="0.7" fill="#1f4a6e"/>
<circle cx="461.42" cy="287.7" r="0.7" fill="#1f4a6e"/>
<circle cx="461.76" cy="283.95" r="0.7" fill="#1f4a6e"/>
<circle cx="462" cy="279.55" r="0.7" fill="#1f4a6e"/>
<circle cx="461.87" cy="277.11" r="0.7" fill="#1f4a6e"/>
<path d="M462.25 232.45L463 233.8L461.5 233.8Z" fill="#1f4a6e"/>
<rect x="466.78" y="273.62" width="1.2" height="57.5" fill="#2f5f88"/>
<circle cx="467.32" cy="288.68" r="0.7" fill="#1f4a6e"/>
<circle cx="466.96" cy="330.97" r="0.7" fill="#1f4a6e"/>
<circle cx="467.27" cy="279.34" r="0.7" fill="#1f4a6e"/>
<circle cx="467.78" cy="319.32" r="0.7" fill="#1f4a6e"/>
<circle cx="466.8" cy="279.87" r="0.7" fill="#1f4a6e"/>
<rect x="464.18" y="327.46" width="1.2" height="3.67" fill="#c2305a"/>
<rect x="471.99" y="225.91" width="1.2" height="88.09" fill="#2f5f88"/>
<circle cx="472.63" cy="269.86" r="0.7" fill="#1f4a6e"/>
<circle cx="472.29" cy="303.67" r="0.7" fill="#1f4a6e"/>
<circle cx="472.78" cy="259.54" r="0.7" fill="#1f4a6e"/>
<circle cx="472.71" cy="258.64" r="0.7" fill="#1f4a6e"/>
<circle cx="471.94" cy="280.71" r="0.7" fill="#1f4a6e"/>
<circle cx="473.01" cy="312.58" r="0.7" fill="#1f4a6e"/>
<circle cx="473.11" cy="237.82" r="0.7" fill="#1f4a6e"/>
<circle cx="472.92" cy="307.31" r="0.7" fill="#1f4a6e"/>
<path d="M472.48 225.11L473.23 226.46L471.73 226.46Z" fill="#1f4a6e"/>
<path d="M477.89 225.11L478.64 226.46L477.14 226.46Z" fill="#1f4a6e"/>
<path d="M478.12 250.78L478.87 252.13L477.37 252.13Z" fill="#1f4a6e"/>
<path d="M478.23 262.56L478.98 263.91L477.48 263.91Z" fill="#1f4a6e"/>
<path d="M477.83 265.82L478.58 267.17L477.08 267.17Z" fill="#1f4a6e"/>
<circle cx="474.86" cy="255.5" r="0.82" fill="#a81e44"/>
<circle cx="474.71" cy="263.35" r="0.82" fill="#a81e44"/>
<rect x="477.2" y="269.95" width="1.2" height="42.82" fill="#2f5f88"/>
<circle cx="477.31" cy="278.66" r="0.7" fill="#1f4a6e"/>
<circle cx="477.44" cy="306.95" r="0.7" fill="#1f4a6e"/>
<circle cx="477.94" cy="285.36" r="0.7" fill="#1f4a6e"/>
<circle cx="478.24" cy="290.31" r="0.7" fill="#1f4a6e"/>
<rect x="474.6" y="320.12" width="1.2" height="11.01" fill="#c2305a"/>
<circle cx="474.74" cy="322.84" r="0.7" fill="#a81e44"/>
<circle cx="474.79" cy="325.24" r="0.82" fill="#a81e44"/>
<circle cx="474.76" cy="328.47" r="0.82" fill="#a81e44"/>
<circle cx="474.99" cy="330.28" r="0.82" fill="#a81e44"/>
<path d="M483.02 244.68L483.77 246.03L482.27 246.03Z" fill="#1f4a6e"/>
<path d="M482.65 270.68L483.4 272.03L481.9 272.03Z" fill="#1f4a6e"/>
<path d="M482.99 258.35L483.74 259.7L482.24 259.7Z" fill="#1f4a6e"/>
<path d="M482.51 272.17L483.26 273.52L481.76 273.52Z" fill="#1f4a6e"/>
<rect x="482.41" y="269.95" width="1.2" height="61.18" fill="#2f5f88"/>
<circle cx="483.1" cy="296.51" r="0.7" fill="#1f4a6e"/>
<circle cx="483.34" cy="326.21" r="0.7" fill="#1f4a6e"/>
<circle cx="483.08" cy="316.43" r="0.7" fill="#1f4a6e"/>
<circle cx="482.74" cy="298.73" r="0.7" fill="#1f4a6e"/>
<circle cx="482.81" cy="273.24" r="0.7" fill="#1f4a6e"/>
<circle cx="480.4" cy="326.47" r="0.82" fill="#a81e44"/>
<circle cx="480.9" cy="321.88" r="0.82" fill="#a81e44"/>
<circle cx="480.4" cy="322.66" r="0.82" fill="#a81e44"/>
<rect x="487.62" y="301.77" width="1.2" height="26.92" fill="#2f5f88"/>
<circle cx="488.36" cy="309.39" r="0.7" fill="#1f4a6e"/>
<circle cx="488.83" cy="302.86" r="0.7" fill="#1f4a6e"/>
<circle cx="487.86" cy="279.5" r="0.82" fill="#1f4a6e"/>
<circle cx="488.1" cy="284.18" r="0.82" fill="#1f4a6e"/>
<circle cx="488.48" cy="292.44" r="0.82" fill="#1f4a6e"/>
<circle cx="488.4" cy="292.68" r="0.82" fill="#1f4a6e"/>
<circle cx="488.09" cy="286.12" r="0.82" fill="#1f4a6e"/>
<circle cx="491.03" cy="329.4" r="0.82" fill="#a81e44"/>
<circle cx="491.33" cy="328.71" r="0.82" fill="#a81e44"/>
<rect x="498.04" y="316.45" width="1.2" height="14.68" fill="#2f5f88"/>
<circle cx="498.26" cy="319.38" r="0.7" fill="#1f4a6e"/>
<circle cx="495.99" cy="307.88" r="0.82" fill="#a81e44"/>
<circle cx="498.56" cy="307.88" r="0.82" fill="#1f4a6e"/>
<rect x="500.65" y="320.12" width="1.2" height="11.01" fill="#c2305a"/>
<circle cx="500.54" cy="327.19" r="0.7" fill="#a81e44"/>
<circle cx="501.22" cy="307.88" r="0.82" fill="#a81e44"/>
<line x1="294.1" y1="340" x2="294.1" y2="342.6" stroke="#222" stroke-width="0.7"/>
<text transform="translate(295.3,346.2) rotate(-90)" font-size="3.4" fill="#777" text-anchor="end">DNMT3A</text>
<line x1="299.31" y1="340" x2="299.31" y2="342.6" stroke="#222" stroke-width="0.7"/>
<text transform="translate(300.51,346.2) rotate(-90)" font-size="3.4" fill="#777" text-anchor="end">TET2</text>
<line x1="304.52" y1="340" x2="304.52" y2="342.6" stroke="#222" stroke-width="0.7"/>
<text transform="translate(305.72,346.2) rotate(-90)" font-size="3.4" fill="#777" text-anchor="end">ASXL1</text>
<line x1="309.73" y1="340" x2="309.73" y2="342.6" stroke="#222" stroke-width="0.7"/>
<text transform="translate(310.93,346.2) rotate(-90)" font-size="3.4" fill="#777" text-anchor="end">SF3B1</text>
<line x1="314.94" y1="340" x2="314.94" y2="342.6" stroke="#222" stroke-width="0.7"/>
<text transform="translate(316.14,346.2) rotate(-90)" font-size="3.4" fill="#777" text-anchor="end">SRSF2</text>
<line x1="320.15" y1="340" x2="320.15" y2="342.6" stroke="#222" stroke-width="0.7"/>
<text transform="translate(321.35,346.2) rotate(-90)" font-size="3.4" fill="#777" text-anchor="end">TP53</text>
<line x1="325.36" y1="340" x2="325.36" y2="342.6" stroke="#222" stroke-width="0.7"/>
<text transform="translate(326.56,346.2) rotate(-90)" font-size="3.4" fill="#777" text-anchor="end">RUNX1</text>
<line x1="330.57" y1="340" x2="330.57" y2="342.6" stroke="#222" stroke-width="0.7"/>
<text transform="translate(331.77,346.2) rotate(-90)" font-size="3.4" fill="#777" text-anchor="end">U2AF1</text>
<line x1="335.78" y1="340" x2="335.78" y2="342.6" stroke="#222" stroke-width="0.7"/>
<text transform="translate(336.98,346.2) rotate(-90)" font-size="3.4" fill="#777" text-anchor="end">EZH2</text>
<line x1="340.99" y1="340" x2="340.99" y2="342.6" stroke="#222" stroke-width="0.7"/>
<text transform="translate(342.19,346.2) rotate(-90)" font-size="3.4" fill="#777" text-anchor="end">STAG2</text>
<line x1="346.2" y1="340" x2="346.2" y2="342.6" stroke="#222" stroke-width="0.7"/>
<text transform="translate(347.4,346.2) rotate(-90)" font-size="3.4" fill="#777" text-anchor="end">ZRSR2</text>
<line x1="351.41" y1="340" x2="351.41" y2="342.6" stroke="#222" stroke-width="0.7"/>
<text transform="translate(352.61,346.2) rotate(-90)" font-size="3.4" fill="#777" text-anchor="end">BCOR</text>
<line x1="356.62" y1="340" x2="356.62" y2="342.6" stroke="#222" stroke-width="0.7"/>
<text transform="translate(357.82,346.2) rotate(-90)" font-size="3.4" fill="#777" text-anchor="end">IDH2</text>
<line x1="361.83" y1="340" x2="361.83" y2="342.6" stroke="#222" stroke-width="0.7"/>
<text transform="translate(363.03,346.2) rotate(-90)" font-size="3.4" fill="#777" text-anchor="end">CBL</text>
<line x1="367.04" y1="340" x2="367.04" y2="342.6" stroke="#222" stroke-width="0.7"/>
<text transform="translate(368.24,346.2) rotate(-90)" font-size="3.4" fill="#777" text-anchor="end">NRAS</text>
<line x1="372.25" y1="340" x2="372.25" y2="342.6" stroke="#222" stroke-width="0.7"/>
<text transform="translate(373.45,346.2) rotate(-90)" font-size="3.4" fill="#777" text-anchor="end">JAK2</text>
<line x1="377.46" y1="340" x2="377.46" y2="342.6" stroke="#222" stroke-width="0.7"/>
<text transform="translate(378.66,346.2) rotate(-90)" font-size="3.4" fill="#777" text-anchor="end">KRAS</text>
<line x1="382.67" y1="340" x2="382.67" y2="342.6" stroke="#222" stroke-width="0.7"/>
<text transform="translate(383.87,346.2) rotate(-90)" font-size="3.4" fill="#777" text-anchor="end">IDH1</text>
<line x1="387.88" y1="340" x2="387.88" y2="342.6" stroke="#222" stroke-width="0.7"/>
<text transform="translate(389.08,346.2) rotate(-90)" font-size="3.4" fill="#777" text-anchor="end">PHF6</text>
<line x1="393.09" y1="340" x2="393.09" y2="342.6" stroke="#222" stroke-width="0.7"/>
<text transform="translate(394.29,346.2) rotate(-90)" font-size="3.4" fill="#777" text-anchor="end">CUX1</text>
<line x1="398.3" y1="340" x2="398.3" y2="342.6" stroke="#222" stroke-width="0.7"/>
<text transform="translate(399.5,346.2) rotate(-90)" font-size="3.4" fill="#777" text-anchor="end">NPM1</text>
<line x1="403.51" y1="340" x2="403.51" y2="342.6" stroke="#222" stroke-width="0.7"/>
<text transform="translate(404.71,346.2) rotate(-90)" font-size="3.4" fill="#777" text-anchor="end">FLT3</text>
<line x1="408.72" y1="340" x2="408.72" y2="342.6" stroke="#222" stroke-width="0.7"/>
<text transform="translate(409.92,346.2) rotate(-90)" font-size="3.4" fill="#777" text-anchor="end">ETV6</text>
<line x1="413.93" y1="340" x2="413.93" y2="342.6" stroke="#222" stroke-width="0.7"/>
<text transform="translate(415.13,346.2) rotate(-90)" font-size="3.4" fill="#777" text-anchor="end">BCORL1</text>
<line x1="419.14" y1="340" x2="419.14" y2="342.6" stroke="#222" stroke-width="0.7"/>
<text transform="translate(420.34,346.2) rotate(-90)" font-size="3.4" fill="#777" text-anchor="end">SETBP1</text>
<line x1="424.35" y1="340" x2="424.35" y2="342.6" stroke="#222" stroke-width="0.7"/>
<text transform="translate(425.55,346.2) rotate(-90)" font-size="3.4" fill="#777" text-anchor="end">GNB1</text>
<line x1="429.56" y1="340" x2="429.56" y2="342.6" stroke="#222" stroke-width="0.7"/>
<text transform="translate(430.76,346.2) rotate(-90)" font-size="3.4" fill="#777" text-anchor="end">PPM1D</text>
<line x1="434.77" y1="340" x2="434.77" y2="342.6" stroke="#222" stroke-width="0.7"/>
<text transform="translate(435.97,346.2) rotate(-90)" font-size="3.4" fill="#777" text-anchor="end">WT1</text>
<line x1="439.98" y1="340" x2="439.98" y2="342.6" stroke="#222" stroke-width="0.7"/>
<text transform="translate(441.18,346.2) rotate(-90)" font-size="3.4" fill="#777" text-anchor="end">CSF3R</text>
<line x1="445.19" y1="340" x2="445.19" y2="342.6" stroke="#222" stroke-width="0.7"/>
<text transform="translate(446.39,346.2) rotate(-90)" font-size="3.4" fill="#777" text-anchor="end">ATM</text>
<line x1="450.4" y1="340" x2="450.4" y2="342.6" stroke="#222" stroke-width="0.7"/>
<text transform="translate(451.6,346.2) rotate(-90)" font-size="3.4" fill="#777" text-anchor="end">PTPN11</text>
<line x1="455.61" y1="340" x2="455.61" y2="342.6" stroke="#222" stroke-width="0.7"/>
<text transform="translate(456.81,346.2) rotate(-90)" font-size="3.4" fill="#777" text-anchor="end">CALR</text>
<line x1="460.82" y1="340" x2="460.82" y2="342.6" stroke="#222" stroke-width="0.7"/>
<text transform="translate(462.02,346.2) rotate(-90)" font-size="3.4" fill="#777" text-anchor="end">GATA2</text>
<line x1="466.03" y1="340" x2="466.03" y2="342.6" stroke="#222" stroke-width="0.7"/>
<text transform="translate(467.23,346.2) rotate(-90)" font-size="3.4" fill="#777" text-anchor="end">SMC3</text>
<line x1="471.24" y1="340" x2="471.24" y2="342.6" stroke="#222" stroke-width="0.7"/>
<text transform="translate(472.44,346.2) rotate(-90)" font-size="3.4" fill="#777" text-anchor="end">RAD21</text>
<line x1="476.45" y1="340" x2="476.45" y2="342.6" stroke="#222" stroke-width="0.7"/>
<text transform="translate(477.65,346.2) rotate(-90)" font-size="3.4" fill="#777" text-anchor="end">NF1</text>
<line x1="481.66" y1="340" x2="481.66" y2="342.6" stroke="#222" stroke-width="0.7"/>
<text transform="translate(482.86,346.2) rotate(-90)" font-size="3.4" fill="#777" text-anchor="end">CEBPA</text>
<line x1="486.87" y1="340" x2="486.87" y2="342.6" stroke="#222" stroke-width="0.7"/>
<text transform="translate(488.07,346.2) rotate(-90)" font-size="3.4" fill="#777" text-anchor="end">SH2B3</text>
<line x1="492.08" y1="340" x2="492.08" y2="342.6" stroke="#222" stroke-width="0.7"/>
<text transform="translate(493.28,346.2) rotate(-90)" font-size="3.4" fill="#777" text-anchor="end">KIT</text>
<line x1="497.29" y1="340" x2="497.29" y2="342.6" stroke="#222" stroke-width="0.7"/>
<text transform="translate(498.49,346.2) rotate(-90)" font-size="3.4" fill="#777" text-anchor="end">MPL</text>
<line x1="502.5" y1="340" x2="502.5" y2="342.6" stroke="#222" stroke-width="0.7"/>
<text transform="translate(503.7,346.2) rotate(-90)" font-size="3.4" fill="#777" text-anchor="end">GNAS</text>
<line x1="280.7" y1="334.8" x2="283.3" y2="334.8" stroke="#222" stroke-width="0.8"/>
<text x="277.1" y="336.9" font-size="5.9" fill="#333" stroke="#333" stroke-width="0.12" text-anchor="end">0.0</text>
<line x1="280.7" y1="310.33" x2="283.3" y2="310.33" stroke="#222" stroke-width="0.8"/>
<text x="277.1" y="312.43" font-size="5.9" fill="#333" stroke="#333" stroke-width="0.12" text-anchor="end">0.2</text>
<line x1="280.7" y1="285.86" x2="283.3" y2="285.86" stroke="#222" stroke-width="0.8"/>
<text x="277.1" y="287.96" font-size="5.9" fill="#333" stroke="#333" stroke-width="0.12" text-anchor="end">0.4</text>
<line x1="280.7" y1="261.39" x2="283.3" y2="261.39" stroke="#222" stroke-width="0.8"/>
<text x="277.1" y="263.49" font-size="5.9" fill="#333" stroke="#333" stroke-width="0.12" text-anchor="end">0.6</text>
<line x1="280.7" y1="236.92" x2="283.3" y2="236.92" stroke="#222" stroke-width="0.8"/>
<text x="277.1" y="239.02" font-size="5.9" fill="#333" stroke="#333" stroke-width="0.12" text-anchor="end">0.8</text>
<line x1="280.7" y1="212.45" x2="283.3" y2="212.45" stroke="#222" stroke-width="0.8"/>
<text x="277.1" y="214.55" font-size="5.9" fill="#333" stroke="#333" stroke-width="0.12" text-anchor="end">1.0</text></svg>
<div class="frame"></div>
</body></html>
